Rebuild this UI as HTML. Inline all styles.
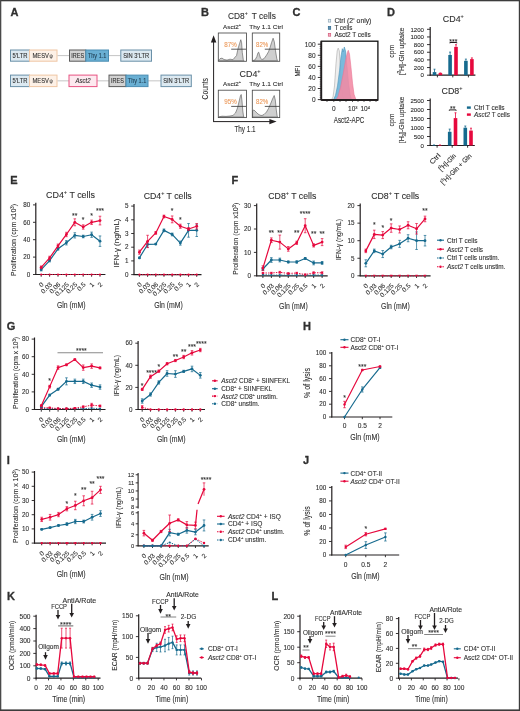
<!DOCTYPE html>
<html><head><meta charset="utf-8"><title>Figure</title>
<style>
html,body{margin:0;padding:0;background:#fff;width:520px;height:711px;overflow:hidden;}
svg{display:block;font-family:"Liberation Sans", sans-serif;will-change:transform;}
</style></head>
<body>
<svg width="520" height="711" viewBox="0 0 520 711">
<rect x="0" y="0" width="520" height="711" fill="#ffffff"/>
<rect x="0.00" y="0.00" width="520.00" height="1.30" fill="#3c3c3c" stroke="none" stroke-width="1.0" />
<rect x="0.00" y="0.00" width="1.30" height="711.00" fill="#4a4a4a" stroke="none" stroke-width="1.0" />
<rect x="518.80" y="0.00" width="1.20" height="711.00" fill="#3c3c3c" stroke="none" stroke-width="1.0" />
<rect x="0.00" y="709.40" width="520.00" height="1.60" fill="#3c3c3c" stroke="none" stroke-width="1.0" />
<text x="10.50" y="16.30" font-size="11.0" text-anchor="start" font-weight="bold" fill="#2f2f2f" stroke="#2f2f2f" stroke-width="0.1" style="stroke-width:0.3px">A</text>
<rect x="10.50" y="50.00" width="19.00" height="11.20" fill="#dce9f1" stroke="#6a90a8" stroke-width="1.0" />
<text x="20.00" y="57.98" font-size="6.6" text-anchor="middle" fill="#2f2f2f" stroke="#2f2f2f" stroke-width="0.1" textLength="15.00" lengthAdjust="spacingAndGlyphs" >5'LTR</text>
<rect x="29.50" y="50.00" width="27.50" height="11.20" fill="#fdf1e7" stroke="#efc6a4" stroke-width="1.0" />
<text x="32.50" y="57.98" font-size="6.6" text-anchor="start" fill="#2f2f2f" stroke="#2f2f2f" stroke-width="0.1" textLength="16.50" lengthAdjust="spacingAndGlyphs" >MESV</text>
<text x="49.50" y="57.98" font-size="5.28" text-anchor="start" fill="#2f2f2f" stroke="#2f2f2f" stroke-width="0.1" textLength="3.20" lengthAdjust="spacingAndGlyphs" >ψ</text>
<line x1="57.50" y1="55.60" x2="69.50" y2="55.60" stroke="#bdbdbd" stroke-width="0.9" />
<line x1="108.50" y1="55.60" x2="120.80" y2="55.60" stroke="#bdbdbd" stroke-width="0.9" />
<rect x="69.50" y="50.00" width="16.30" height="11.20" fill="#d2d2d2" stroke="#5a5a5a" stroke-width="1.0" />
<text x="77.65" y="57.98" font-size="6.6" text-anchor="middle" fill="#2f2f2f" stroke="#2f2f2f" stroke-width="0.1" textLength="12.80" lengthAdjust="spacingAndGlyphs" >IRES</text>
<rect x="85.80" y="50.00" width="22.70" height="11.20" fill="#69afd3" stroke="#4a8db3" stroke-width="1.0" />
<text x="97.15" y="57.98" font-size="6.6" text-anchor="middle" fill="#1e3d52" stroke="#1e3d52" stroke-width="0.1" textLength="18.50" lengthAdjust="spacingAndGlyphs" >Thy 1.1</text>
<rect x="120.80" y="50.00" width="30.70" height="11.20" fill="#dce9f1" stroke="#6a90a8" stroke-width="1.0" />
<text x="136.15" y="57.98" font-size="6.6" text-anchor="middle" fill="#2f2f2f" stroke="#2f2f2f" stroke-width="0.1" textLength="26.00" lengthAdjust="spacingAndGlyphs" >SIN 3'LTR</text>
<rect x="10.50" y="75.10" width="19.00" height="11.50" fill="#dce9f1" stroke="#6a90a8" stroke-width="1.0" />
<text x="20.00" y="83.23" font-size="6.6" text-anchor="middle" fill="#2f2f2f" stroke="#2f2f2f" stroke-width="0.1" textLength="15.00" lengthAdjust="spacingAndGlyphs" >5'LTR</text>
<rect x="29.50" y="75.10" width="27.50" height="11.50" fill="#fdf1e7" stroke="#efc6a4" stroke-width="1.0" />
<text x="32.50" y="83.23" font-size="6.6" text-anchor="start" fill="#2f2f2f" stroke="#2f2f2f" stroke-width="0.1" textLength="16.50" lengthAdjust="spacingAndGlyphs" >MESV</text>
<text x="49.50" y="83.23" font-size="5.28" text-anchor="start" fill="#2f2f2f" stroke="#2f2f2f" stroke-width="0.1" textLength="3.20" lengthAdjust="spacingAndGlyphs" >ψ</text>
<line x1="57.50" y1="80.85" x2="69.00" y2="80.85" stroke="#bdbdbd" stroke-width="0.9" />
<line x1="97.00" y1="80.85" x2="109.00" y2="80.85" stroke="#bdbdbd" stroke-width="0.9" />
<line x1="148.00" y1="80.85" x2="161.00" y2="80.85" stroke="#bdbdbd" stroke-width="0.9" />
<rect x="69.00" y="75.10" width="28.00" height="11.50" fill="#fde9ef" stroke="#e85382" stroke-width="1.0" />
<text x="83.00" y="83.23" font-size="6.6" text-anchor="middle" font-style="italic" fill="#2f2f2f" stroke="#2f2f2f" stroke-width="0.1" textLength="15.00" lengthAdjust="spacingAndGlyphs" >Asct2</text>
<rect x="109.00" y="75.10" width="17.00" height="11.50" fill="#d2d2d2" stroke="#5a5a5a" stroke-width="1.0" />
<text x="117.50" y="83.23" font-size="6.6" text-anchor="middle" fill="#2f2f2f" stroke="#2f2f2f" stroke-width="0.1" textLength="12.80" lengthAdjust="spacingAndGlyphs" >IRES</text>
<rect x="126.00" y="75.10" width="22.00" height="11.50" fill="#69afd3" stroke="#4a8db3" stroke-width="1.0" />
<text x="137.00" y="83.23" font-size="6.6" text-anchor="middle" fill="#1e3d52" stroke="#1e3d52" stroke-width="0.1" textLength="18.50" lengthAdjust="spacingAndGlyphs" >Thy 1.1</text>
<rect x="161.00" y="75.10" width="30.30" height="11.50" fill="#dce9f1" stroke="#6a90a8" stroke-width="1.0" />
<text x="176.15" y="83.23" font-size="6.6" text-anchor="middle" fill="#2f2f2f" stroke="#2f2f2f" stroke-width="0.1" textLength="26.00" lengthAdjust="spacingAndGlyphs" >SIN 3'LTR</text>
<text x="200.90" y="16.30" font-size="11.0" text-anchor="start" font-weight="bold" fill="#2f2f2f" stroke="#2f2f2f" stroke-width="0.1" style="stroke-width:0.3px">B</text>
<text x="228.00" y="18.90" font-size="9.4" text-anchor="start" fill="#2f2f2f" stroke="#2f2f2f" stroke-width="0.1" textLength="47.80" lengthAdjust="spacingAndGlyphs" >CD8<tspan baseline-shift="4.0" font-size="62%">+</tspan> T cells</text>
<text x="223.10" y="28.70" font-size="6.2" text-anchor="start" fill="#2f2f2f" stroke="#2f2f2f" stroke-width="0.1" textLength="18.00" lengthAdjust="spacingAndGlyphs" >Asct2<tspan baseline-shift="2.9" font-size="62%">+</tspan></text>
<text x="249.20" y="28.70" font-size="6.2" text-anchor="start" fill="#2f2f2f" stroke="#2f2f2f" stroke-width="0.1" textLength="33.70" lengthAdjust="spacingAndGlyphs" >Thy 1.1 Ctrl</text>
<text x="239.60" y="77.30" font-size="9.4" text-anchor="start" fill="#2f2f2f" stroke="#2f2f2f" stroke-width="0.1" textLength="21.00" lengthAdjust="spacingAndGlyphs" >CD4<tspan baseline-shift="4.0" font-size="62%">+</tspan></text>
<text x="223.10" y="86.00" font-size="6.2" text-anchor="start" fill="#2f2f2f" stroke="#2f2f2f" stroke-width="0.1" textLength="18.00" lengthAdjust="spacingAndGlyphs" >Asct2<tspan baseline-shift="2.9" font-size="62%">+</tspan></text>
<text x="249.20" y="86.00" font-size="6.2" text-anchor="start" fill="#2f2f2f" stroke="#2f2f2f" stroke-width="0.1" textLength="33.70" lengthAdjust="spacingAndGlyphs" >Thy 1.1 Ctrl</text>
<path d="M218.60,60.70 L218.60,60.40 L220.00,58.70 L222.00,58.10 L224.00,59.50 L227.00,60.10 L230.00,59.20 L233.00,59.70 L235.00,57.20 L236.50,55.70 L238.00,48.70 L239.50,43.70 L240.80,39.70 L241.60,42.70 L242.30,52.70 L243.30,59.70 L244.00,60.70 L244.00,60.70 Z" fill="#cfcfcf" stroke="#555555" stroke-width="0.6"/>
<path d="M252.60,60.70 L252.60,60.70 L255.00,59.90 L256.80,56.70 L258.00,52.70 L258.70,52.20 L259.50,54.70 L260.50,58.20 L262.00,59.50 L264.00,58.70 L266.50,55.20 L268.50,51.70 L270.00,47.70 L271.50,42.70 L273.10,38.20 L274.30,41.70 L275.50,50.70 L276.80,58.70 L277.50,60.70 L277.50,60.70 Z" fill="#cfcfcf" stroke="#555555" stroke-width="0.6"/>
<rect x="218.30" y="33.00" width="28.20" height="28.30" fill="none" stroke="#4a4a4a" stroke-width="0.85" />
<rect x="252.30" y="33.00" width="27.40" height="28.30" fill="none" stroke="#4a4a4a" stroke-width="0.85" />
<line x1="231.20" y1="49.20" x2="246.00" y2="49.20" stroke="#333" stroke-width="0.8" />
<line x1="264.80" y1="49.20" x2="279.60" y2="49.20" stroke="#333" stroke-width="0.8" />
<text x="224.20" y="47.00" font-size="6.3" text-anchor="start" fill="#ec9a5c" stroke="#ec9a5c" stroke-width="0.1" textLength="12.50" lengthAdjust="spacingAndGlyphs" >87%</text>
<text x="256.00" y="47.00" font-size="6.3" text-anchor="start" fill="#ec9a5c" stroke="#ec9a5c" stroke-width="0.1" textLength="12.20" lengthAdjust="spacingAndGlyphs" >82%</text>
<path d="M218.60,117.00 L218.60,117.00 L222.00,116.20 L226.00,116.40 L230.00,116.00 L233.00,115.40 L235.50,113.00 L237.50,108.00 L239.20,101.00 L240.40,96.00 L241.20,94.50 L242.00,101.00 L242.80,111.00 L243.60,116.50 L244.20,117.00 L244.20,117.00 Z" fill="#cfcfcf" stroke="#555555" stroke-width="0.6"/>
<path d="M252.60,117.00 L252.60,110.50 L254.00,110.00 L256.00,112.00 L258.00,114.00 L260.00,115.20 L262.00,115.50 L264.00,114.50 L266.50,112.00 L268.50,108.50 L270.50,104.00 L272.50,99.00 L274.20,95.50 L275.30,100.00 L276.30,110.00 L277.20,116.50 L277.80,117.00 L277.80,117.00 Z" fill="#cfcfcf" stroke="#555555" stroke-width="0.6"/>
<rect x="218.30" y="90.20" width="28.20" height="27.40" fill="none" stroke="#4a4a4a" stroke-width="0.85" />
<rect x="252.30" y="90.20" width="27.40" height="27.40" fill="none" stroke="#4a4a4a" stroke-width="0.85" />
<line x1="231.20" y1="106.40" x2="246.00" y2="106.40" stroke="#333" stroke-width="0.8" />
<line x1="264.80" y1="106.40" x2="279.60" y2="106.40" stroke="#333" stroke-width="0.8" />
<text x="224.20" y="104.20" font-size="6.3" text-anchor="start" fill="#ec9a5c" stroke="#ec9a5c" stroke-width="0.1" textLength="12.50" lengthAdjust="spacingAndGlyphs" >95%</text>
<text x="256.00" y="104.20" font-size="6.3" text-anchor="start" fill="#ec9a5c" stroke="#ec9a5c" stroke-width="0.1" textLength="12.20" lengthAdjust="spacingAndGlyphs" >82%</text>
<line x1="213.60" y1="40.00" x2="213.60" y2="121.60" stroke="#231f20" stroke-width="1.0" />
<path d="M210.9,42.4 L216.3,42.4 L213.6,35.2 Z" fill="#231f20"/>
<line x1="213.10" y1="121.60" x2="272.00" y2="121.60" stroke="#231f20" stroke-width="1.0" />
<path d="M269.4,118.9 L269.4,124.3 L276.6,121.6 Z" fill="#231f20"/>
<text x="207.95" y="88.80" font-size="8.2" text-anchor="middle" fill="#2f2f2f" stroke="#2f2f2f" stroke-width="0.1" textLength="21.40" lengthAdjust="spacingAndGlyphs" transform="rotate(-90 207.95 88.80)" >Counts</text>
<text x="234.40" y="132.40" font-size="8.8" text-anchor="start" fill="#2f2f2f" stroke="#2f2f2f" stroke-width="0.1" textLength="21.20" lengthAdjust="spacingAndGlyphs" >Thy 1.1</text>
<text x="292.50" y="16.30" font-size="11.0" text-anchor="start" font-weight="bold" fill="#2f2f2f" stroke="#2f2f2f" stroke-width="0.1" style="stroke-width:0.3px">C</text>
<rect x="328.30" y="19.30" width="2.40" height="2.80" fill="#e6eef3" stroke="#8ea6b6" stroke-width="0.7" />
<text x="334.40" y="23.00" font-size="6.4" text-anchor="start" fill="#2f2f2f" stroke="#2f2f2f" stroke-width="0.1" textLength="37.00" lengthAdjust="spacingAndGlyphs" >Ctrl (2<tspan baseline-shift="2.2" font-size="62%">°</tspan> only)</text>
<rect x="328.30" y="26.50" width="2.40" height="2.80" fill="#5c8fb0" stroke="#2f6a90" stroke-width="0.7" />
<text x="334.40" y="30.20" font-size="6.4" text-anchor="start" fill="#2f2f2f" stroke="#2f2f2f" stroke-width="0.1" textLength="18.00" lengthAdjust="spacingAndGlyphs" >T cells</text>
<rect x="328.30" y="33.40" width="2.40" height="2.80" fill="#f3b0c0" stroke="#d45a7a" stroke-width="0.7" />
<text x="334.40" y="37.10" font-size="6.4" text-anchor="start" fill="#2f2f2f" stroke="#2f2f2f" stroke-width="0.1" textLength="36.30" lengthAdjust="spacingAndGlyphs" >Asct2 T cells</text>
<path d="M331.50,99.80 L331.50,99.80 L333.00,97.02 L334.50,85.90 L336.00,63.66 L337.20,50.87 L338.20,48.09 L339.30,50.87 L340.30,66.44 L341.50,85.90 L343.00,96.46 L344.50,99.80 L344.50,99.80 Z" fill="#ececec" fill-opacity="0.9" stroke="#a8a8a8" stroke-width="0.6"/>
<path d="M333.50,99.80 L333.50,99.80 L335.50,95.35 L337.50,85.90 L339.50,70.89 L341.00,56.43 L342.30,48.65 L343.20,51.98 L344.30,46.98 L345.50,50.87 L347.00,66.44 L348.50,83.12 L350.00,94.24 L351.50,99.80 L351.50,99.80 Z" fill="#6cb3d8" fill-opacity="0.9" stroke="#4b93bb" stroke-width="0.6"/>
<path d="M336.00,99.80 L336.00,99.80 L338.00,96.46 L340.50,87.57 L343.00,74.78 L345.50,60.88 L347.30,52.54 L348.30,50.32 L349.50,54.21 L351.00,67.55 L352.50,83.12 L354.00,94.24 L356.00,99.80 L356.00,99.80 Z" fill="#f28aa4" fill-opacity="0.88" stroke="#e97593" stroke-width="0.6"/>
<rect x="321.30" y="41.20" width="56.60" height="58.80" fill="none" stroke="#111" stroke-width="1.3" />
<line x1="321.30" y1="41.20" x2="321.30" y2="100.00" stroke="#231f20" stroke-width="1.8" />
<line x1="321.30" y1="100.00" x2="378.00" y2="100.00" stroke="#231f20" stroke-width="1.8" />
<line x1="317.80" y1="99.60" x2="321.30" y2="99.60" stroke="#231f20" stroke-width="0.9" />
<line x1="319.60" y1="97.38" x2="321.30" y2="97.38" stroke="#231f20" stroke-width="0.5" />
<line x1="319.60" y1="95.17" x2="321.30" y2="95.17" stroke="#231f20" stroke-width="0.5" />
<line x1="319.60" y1="92.95" x2="321.30" y2="92.95" stroke="#231f20" stroke-width="0.5" />
<line x1="319.60" y1="90.74" x2="321.30" y2="90.74" stroke="#231f20" stroke-width="0.5" />
<text x="315.60" y="101.90" font-size="6.5" text-anchor="end" fill="#2f2f2f" stroke="#2f2f2f" stroke-width="0.1" >0</text>
<line x1="317.80" y1="88.52" x2="321.30" y2="88.52" stroke="#231f20" stroke-width="0.9" />
<line x1="319.60" y1="86.30" x2="321.30" y2="86.30" stroke="#231f20" stroke-width="0.5" />
<line x1="319.60" y1="84.09" x2="321.30" y2="84.09" stroke="#231f20" stroke-width="0.5" />
<line x1="319.60" y1="81.87" x2="321.30" y2="81.87" stroke="#231f20" stroke-width="0.5" />
<line x1="319.60" y1="79.66" x2="321.30" y2="79.66" stroke="#231f20" stroke-width="0.5" />
<text x="315.60" y="90.82" font-size="6.5" text-anchor="end" fill="#2f2f2f" stroke="#2f2f2f" stroke-width="0.1" >20</text>
<line x1="317.80" y1="77.44" x2="321.30" y2="77.44" stroke="#231f20" stroke-width="0.9" />
<line x1="319.60" y1="75.22" x2="321.30" y2="75.22" stroke="#231f20" stroke-width="0.5" />
<line x1="319.60" y1="73.01" x2="321.30" y2="73.01" stroke="#231f20" stroke-width="0.5" />
<line x1="319.60" y1="70.79" x2="321.30" y2="70.79" stroke="#231f20" stroke-width="0.5" />
<line x1="319.60" y1="68.58" x2="321.30" y2="68.58" stroke="#231f20" stroke-width="0.5" />
<text x="315.60" y="79.74" font-size="6.5" text-anchor="end" fill="#2f2f2f" stroke="#2f2f2f" stroke-width="0.1" >40</text>
<line x1="317.80" y1="66.36" x2="321.30" y2="66.36" stroke="#231f20" stroke-width="0.9" />
<line x1="319.60" y1="64.14" x2="321.30" y2="64.14" stroke="#231f20" stroke-width="0.5" />
<line x1="319.60" y1="61.93" x2="321.30" y2="61.93" stroke="#231f20" stroke-width="0.5" />
<line x1="319.60" y1="59.71" x2="321.30" y2="59.71" stroke="#231f20" stroke-width="0.5" />
<line x1="319.60" y1="57.50" x2="321.30" y2="57.50" stroke="#231f20" stroke-width="0.5" />
<text x="315.60" y="68.66" font-size="6.5" text-anchor="end" fill="#2f2f2f" stroke="#2f2f2f" stroke-width="0.1" >60</text>
<line x1="317.80" y1="55.28" x2="321.30" y2="55.28" stroke="#231f20" stroke-width="0.9" />
<line x1="319.60" y1="53.06" x2="321.30" y2="53.06" stroke="#231f20" stroke-width="0.5" />
<line x1="319.60" y1="50.85" x2="321.30" y2="50.85" stroke="#231f20" stroke-width="0.5" />
<line x1="319.60" y1="48.63" x2="321.30" y2="48.63" stroke="#231f20" stroke-width="0.5" />
<line x1="319.60" y1="46.42" x2="321.30" y2="46.42" stroke="#231f20" stroke-width="0.5" />
<text x="315.60" y="57.58" font-size="6.5" text-anchor="end" fill="#2f2f2f" stroke="#2f2f2f" stroke-width="0.1" >80</text>
<line x1="317.80" y1="44.20" x2="321.30" y2="44.20" stroke="#231f20" stroke-width="0.9" />
<text x="315.60" y="46.50" font-size="6.5" text-anchor="end" fill="#2f2f2f" stroke="#2f2f2f" stroke-width="0.1" >100</text>
<line x1="327.00" y1="100.00" x2="327.00" y2="102.00" stroke="#231f20" stroke-width="0.7" />
<line x1="333.80" y1="100.00" x2="333.80" y2="102.00" stroke="#231f20" stroke-width="0.7" />
<line x1="340.00" y1="100.00" x2="340.00" y2="102.00" stroke="#231f20" stroke-width="0.7" />
<line x1="346.00" y1="100.00" x2="346.00" y2="102.00" stroke="#231f20" stroke-width="0.7" />
<line x1="352.50" y1="100.00" x2="352.50" y2="102.00" stroke="#231f20" stroke-width="0.7" />
<line x1="358.00" y1="100.00" x2="358.00" y2="102.00" stroke="#231f20" stroke-width="0.7" />
<line x1="364.00" y1="100.00" x2="364.00" y2="102.00" stroke="#231f20" stroke-width="0.7" />
<line x1="370.00" y1="100.00" x2="370.00" y2="102.00" stroke="#231f20" stroke-width="0.7" />
<line x1="376.00" y1="100.00" x2="376.00" y2="102.00" stroke="#231f20" stroke-width="0.7" />
<text x="333.80" y="110.60" font-size="6.5" text-anchor="middle" fill="#2f2f2f" stroke="#2f2f2f" stroke-width="0.1" >0</text>
<text x="352.80" y="110.60" font-size="6.5" text-anchor="middle" fill="#2f2f2f" stroke="#2f2f2f" stroke-width="0.1" >10<tspan baseline-shift="2.4" font-size="62%">3</tspan></text>
<text x="365.20" y="110.60" font-size="6.5" text-anchor="middle" fill="#2f2f2f" stroke="#2f2f2f" stroke-width="0.1" >10<tspan baseline-shift="2.4" font-size="62%">4</tspan></text>
<text x="299.88" y="71.20" font-size="8.0" text-anchor="middle" fill="#2f2f2f" stroke="#2f2f2f" stroke-width="0.1" textLength="10.60" lengthAdjust="spacingAndGlyphs" transform="rotate(-90 299.88 71.20)" >MFI</text>
<text x="333.80" y="123.20" font-size="8.2" text-anchor="start" fill="#2f2f2f" stroke="#2f2f2f" stroke-width="0.1" textLength="30.50" lengthAdjust="spacingAndGlyphs" >Asct2-APC</text>
<text x="386.90" y="16.40" font-size="11.0" text-anchor="start" font-weight="bold" fill="#2f2f2f" stroke="#2f2f2f" stroke-width="0.1" style="stroke-width:0.3px">D</text>
<text x="442.80" y="22.00" font-size="8.8" text-anchor="start" fill="#2f2f2f" stroke="#2f2f2f" stroke-width="0.1" textLength="21.00" lengthAdjust="spacingAndGlyphs" >CD4<tspan baseline-shift="3.9" font-size="62%">+</tspan></text>
<text x="441.50" y="93.50" font-size="8.8" text-anchor="start" fill="#2f2f2f" stroke="#2f2f2f" stroke-width="0.1" textLength="21.00" lengthAdjust="spacingAndGlyphs" >CD8<tspan baseline-shift="3.9" font-size="62%">+</tspan></text>
<line x1="430.20" y1="27.10" x2="430.20" y2="75.70" stroke="#231f20" stroke-width="1.2" />
<line x1="429.70" y1="75.20" x2="475.40" y2="75.20" stroke="#231f20" stroke-width="1.2" />
<line x1="427.00" y1="75.20" x2="430.20" y2="75.20" stroke="#231f20" stroke-width="0.9" />
<text x="424.00" y="77.40" font-size="6.1" text-anchor="end" fill="#2f2f2f" stroke="#2f2f2f" stroke-width="0.1" >0</text>
<line x1="427.00" y1="67.55" x2="430.20" y2="67.55" stroke="#231f20" stroke-width="0.9" />
<text x="424.00" y="69.75" font-size="6.1" text-anchor="end" fill="#2f2f2f" stroke="#2f2f2f" stroke-width="0.1" >200</text>
<line x1="427.00" y1="59.90" x2="430.20" y2="59.90" stroke="#231f20" stroke-width="0.9" />
<text x="424.00" y="62.10" font-size="6.1" text-anchor="end" fill="#2f2f2f" stroke="#2f2f2f" stroke-width="0.1" >400</text>
<line x1="427.00" y1="52.25" x2="430.20" y2="52.25" stroke="#231f20" stroke-width="0.9" />
<text x="424.00" y="54.45" font-size="6.1" text-anchor="end" fill="#2f2f2f" stroke="#2f2f2f" stroke-width="0.1" >600</text>
<line x1="427.00" y1="44.60" x2="430.20" y2="44.60" stroke="#231f20" stroke-width="0.9" />
<text x="424.00" y="46.80" font-size="6.1" text-anchor="end" fill="#2f2f2f" stroke="#2f2f2f" stroke-width="0.1" >800</text>
<line x1="427.00" y1="36.95" x2="430.20" y2="36.95" stroke="#231f20" stroke-width="0.9" />
<text x="424.00" y="39.15" font-size="6.1" text-anchor="end" fill="#2f2f2f" stroke="#2f2f2f" stroke-width="0.1" >1000</text>
<line x1="427.00" y1="29.30" x2="430.20" y2="29.30" stroke="#231f20" stroke-width="0.9" />
<text x="424.00" y="31.50" font-size="6.1" text-anchor="end" fill="#2f2f2f" stroke="#2f2f2f" stroke-width="0.1" >1200</text>
<line x1="437.40" y1="75.20" x2="437.40" y2="77.40" stroke="#231f20" stroke-width="0.9" />
<line x1="452.80" y1="75.20" x2="452.80" y2="77.40" stroke="#231f20" stroke-width="0.9" />
<line x1="468.40" y1="75.20" x2="468.40" y2="77.40" stroke="#231f20" stroke-width="0.9" />
<rect x="432.70" y="72.10" width="3.60" height="3.10" fill="#166a8e" stroke="none" stroke-width="1.0" />
<line x1="434.50" y1="69.19" x2="434.50" y2="72.10" stroke="#166a8e" stroke-width="0.8" />
<line x1="433.50" y1="69.19" x2="435.50" y2="69.19" stroke="#166a8e" stroke-width="0.8" />
<rect x="438.60" y="73.10" width="3.60" height="2.10" fill="#e6083d" stroke="none" stroke-width="1.0" />
<line x1="440.40" y1="72.91" x2="440.40" y2="73.10" stroke="#e6083d" stroke-width="0.8" />
<line x1="439.40" y1="72.91" x2="441.40" y2="72.91" stroke="#e6083d" stroke-width="0.8" />
<rect x="448.30" y="55.00" width="3.60" height="20.20" fill="#166a8e" stroke="none" stroke-width="1.0" />
<line x1="450.10" y1="52.10" x2="450.10" y2="55.00" stroke="#166a8e" stroke-width="0.8" />
<line x1="449.10" y1="52.10" x2="451.10" y2="52.10" stroke="#166a8e" stroke-width="0.8" />
<rect x="454.20" y="46.90" width="3.60" height="28.30" fill="#e6083d" stroke="none" stroke-width="1.0" />
<line x1="456.00" y1="44.71" x2="456.00" y2="46.90" stroke="#e6083d" stroke-width="0.8" />
<line x1="455.00" y1="44.71" x2="457.00" y2="44.71" stroke="#e6083d" stroke-width="0.8" />
<rect x="464.10" y="60.82" width="3.60" height="14.38" fill="#166a8e" stroke="none" stroke-width="1.0" />
<line x1="465.90" y1="59.10" x2="465.90" y2="60.82" stroke="#166a8e" stroke-width="0.8" />
<line x1="464.90" y1="59.10" x2="466.90" y2="59.10" stroke="#166a8e" stroke-width="0.8" />
<rect x="470.10" y="59.10" width="3.60" height="16.10" fill="#e6083d" stroke="none" stroke-width="1.0" />
<line x1="471.90" y1="57.91" x2="471.90" y2="59.10" stroke="#e6083d" stroke-width="0.8" />
<line x1="470.90" y1="57.91" x2="472.90" y2="57.91" stroke="#e6083d" stroke-width="0.8" />
<path d="M449.90,43.30 L449.90,42.50 L456.80,42.50 L456.80,43.30" fill="none" stroke="#231f20" stroke-width="1.0"/>
<text x="453.35" y="43.72" font-size="6.9" text-anchor="middle" fill="#2f2f2f" stroke="#2f2f2f" stroke-width="0.1" >***</text>
<text x="394.08" y="51.20" font-size="8.0" text-anchor="middle" fill="#2f2f2f" stroke="#2f2f2f" stroke-width="0.1" textLength="13.00" lengthAdjust="spacingAndGlyphs" transform="rotate(-90 394.08 51.20)" >cpm</text>
<text x="403.98" y="51.50" font-size="8.0" text-anchor="middle" fill="#2f2f2f" stroke="#2f2f2f" stroke-width="0.1" textLength="47.70" lengthAdjust="spacingAndGlyphs" transform="rotate(-90 403.98 51.50)" >[<tspan baseline-shift="2.6" font-size="62%">3</tspan>H]-Gln uptake</text>
<line x1="430.20" y1="98.40" x2="430.20" y2="146.00" stroke="#231f20" stroke-width="1.2" />
<line x1="429.70" y1="145.50" x2="474.80" y2="145.50" stroke="#231f20" stroke-width="1.2" />
<line x1="427.00" y1="145.50" x2="430.20" y2="145.50" stroke="#231f20" stroke-width="0.9" />
<text x="424.00" y="147.70" font-size="6.1" text-anchor="end" fill="#2f2f2f" stroke="#2f2f2f" stroke-width="0.1" >0</text>
<line x1="427.00" y1="136.50" x2="430.20" y2="136.50" stroke="#231f20" stroke-width="0.9" />
<text x="424.00" y="138.70" font-size="6.1" text-anchor="end" fill="#2f2f2f" stroke="#2f2f2f" stroke-width="0.1" >500</text>
<line x1="427.00" y1="127.50" x2="430.20" y2="127.50" stroke="#231f20" stroke-width="0.9" />
<text x="424.00" y="129.70" font-size="6.1" text-anchor="end" fill="#2f2f2f" stroke="#2f2f2f" stroke-width="0.1" >1000</text>
<line x1="427.00" y1="118.50" x2="430.20" y2="118.50" stroke="#231f20" stroke-width="0.9" />
<text x="424.00" y="120.70" font-size="6.1" text-anchor="end" fill="#2f2f2f" stroke="#2f2f2f" stroke-width="0.1" >1500</text>
<line x1="427.00" y1="109.50" x2="430.20" y2="109.50" stroke="#231f20" stroke-width="0.9" />
<text x="424.00" y="111.70" font-size="6.1" text-anchor="end" fill="#2f2f2f" stroke="#2f2f2f" stroke-width="0.1" >2000</text>
<line x1="427.00" y1="100.50" x2="430.20" y2="100.50" stroke="#231f20" stroke-width="0.9" />
<text x="424.00" y="102.70" font-size="6.1" text-anchor="end" fill="#2f2f2f" stroke="#2f2f2f" stroke-width="0.1" >2500</text>
<line x1="437.10" y1="145.50" x2="437.10" y2="147.70" stroke="#231f20" stroke-width="0.9" />
<line x1="452.20" y1="145.50" x2="452.20" y2="147.70" stroke="#231f20" stroke-width="0.9" />
<line x1="467.60" y1="145.50" x2="467.60" y2="147.70" stroke="#231f20" stroke-width="0.9" />
<rect x="432.20" y="145.14" width="3.60" height="0.36" fill="#166a8e" stroke="none" stroke-width="1.0" />
<line x1="434.00" y1="144.96" x2="434.00" y2="145.14" stroke="#166a8e" stroke-width="0.8" />
<line x1="433.00" y1="144.96" x2="435.00" y2="144.96" stroke="#166a8e" stroke-width="0.8" />
<rect x="438.20" y="145.14" width="3.60" height="0.36" fill="#e6083d" stroke="none" stroke-width="1.0" />
<line x1="440.00" y1="144.96" x2="440.00" y2="145.14" stroke="#e6083d" stroke-width="0.8" />
<line x1="439.00" y1="144.96" x2="441.00" y2="144.96" stroke="#e6083d" stroke-width="0.8" />
<rect x="447.90" y="131.80" width="3.60" height="13.70" fill="#166a8e" stroke="none" stroke-width="1.0" />
<line x1="449.70" y1="129.10" x2="449.70" y2="131.80" stroke="#166a8e" stroke-width="0.8" />
<line x1="448.70" y1="129.10" x2="450.70" y2="129.10" stroke="#166a8e" stroke-width="0.8" />
<rect x="453.70" y="118.10" width="3.60" height="27.40" fill="#e6083d" stroke="none" stroke-width="1.0" />
<line x1="455.50" y1="112.79" x2="455.50" y2="118.10" stroke="#e6083d" stroke-width="0.8" />
<line x1="454.50" y1="112.79" x2="456.50" y2="112.79" stroke="#e6083d" stroke-width="0.8" />
<rect x="463.50" y="127.70" width="3.60" height="17.80" fill="#166a8e" stroke="none" stroke-width="1.0" />
<line x1="465.30" y1="126.01" x2="465.30" y2="127.70" stroke="#166a8e" stroke-width="0.8" />
<line x1="464.30" y1="126.01" x2="466.30" y2="126.01" stroke="#166a8e" stroke-width="0.8" />
<rect x="469.20" y="130.60" width="3.60" height="14.90" fill="#e6083d" stroke="none" stroke-width="1.0" />
<line x1="471.00" y1="128.20" x2="471.00" y2="130.60" stroke="#e6083d" stroke-width="0.8" />
<line x1="470.00" y1="128.20" x2="472.00" y2="128.20" stroke="#e6083d" stroke-width="0.8" />
<path d="M449.30,110.70 L449.30,109.90 L456.10,109.90 L456.10,110.70" fill="none" stroke="#231f20" stroke-width="1.0"/>
<text x="452.70" y="110.52" font-size="6.9" text-anchor="middle" fill="#2f2f2f" stroke="#2f2f2f" stroke-width="0.1" >**</text>
<text x="394.08" y="119.90" font-size="8.0" text-anchor="middle" fill="#2f2f2f" stroke="#2f2f2f" stroke-width="0.1" textLength="13.00" lengthAdjust="spacingAndGlyphs" transform="rotate(-90 394.08 119.90)" >cpm</text>
<text x="403.98" y="119.90" font-size="8.0" text-anchor="middle" fill="#2f2f2f" stroke="#2f2f2f" stroke-width="0.1" textLength="46.70" lengthAdjust="spacingAndGlyphs" transform="rotate(-90 403.98 119.90)" >[H<tspan baseline-shift="-1.6" font-size="62%">3</tspan>]-Gln uptake</text>
<text x="441.00" y="156.00" font-size="6.8" text-anchor="end" fill="#2f2f2f" stroke="#2f2f2f" stroke-width="0.1" textLength="12.50" lengthAdjust="spacingAndGlyphs" transform="rotate(-45 441.00 156.00)" >Ctrl</text>
<text x="456.40" y="156.40" font-size="6.8" text-anchor="end" fill="#2f2f2f" stroke="#2f2f2f" stroke-width="0.1" textLength="21.50" lengthAdjust="spacingAndGlyphs" transform="rotate(-45 456.40 156.40)" >[<tspan baseline-shift="2.6" font-size="62%">3</tspan>H]-Gln</text>
<text x="472.00" y="156.40" font-size="6.8" text-anchor="end" fill="#2f2f2f" stroke="#2f2f2f" stroke-width="0.1" textLength="40.50" lengthAdjust="spacingAndGlyphs" transform="rotate(-45 472.00 156.40)" >[<tspan baseline-shift="2.6" font-size="62%">3</tspan>H]-Gln + Gln</text>
<rect x="466.90" y="106.40" width="3.90" height="2.40" fill="#166a8e" stroke="none" stroke-width="1.0" />
<text x="474.00" y="109.90" font-size="6.6" text-anchor="start" fill="#2f2f2f" stroke="#2f2f2f" stroke-width="0.1" textLength="30.60" lengthAdjust="spacingAndGlyphs" >Ctrl T cells</text>
<rect x="466.90" y="113.40" width="3.90" height="2.40" fill="#e6083d" stroke="none" stroke-width="1.0" />
<text x="474.00" y="117.00" font-size="6.6" text-anchor="start" fill="#2f2f2f" stroke="#2f2f2f" stroke-width="0.1" textLength="36.00" lengthAdjust="spacingAndGlyphs" ><tspan font-style="italic">Asct2</tspan> T cells</text>
<text x="10.30" y="183.60" font-size="11.0" text-anchor="start" font-weight="bold" fill="#2f2f2f" stroke="#2f2f2f" stroke-width="0.1" style="stroke-width:0.3px">E</text>
<line x1="35.80" y1="202.70" x2="35.80" y2="275.00" stroke="#231f20" stroke-width="1.2" />
<line x1="35.30" y1="274.50" x2="105.40" y2="274.50" stroke="#231f20" stroke-width="1.2" />
<line x1="33.00" y1="274.50" x2="35.80" y2="274.50" stroke="#231f20" stroke-width="0.9" />
<text x="30.20" y="276.77" font-size="6.3" text-anchor="end" fill="#2f2f2f" stroke="#2f2f2f" stroke-width="0.1" >0</text>
<line x1="33.00" y1="257.10" x2="35.80" y2="257.10" stroke="#231f20" stroke-width="0.9" />
<text x="30.20" y="259.37" font-size="6.3" text-anchor="end" fill="#2f2f2f" stroke="#2f2f2f" stroke-width="0.1" >20</text>
<line x1="33.00" y1="239.70" x2="35.80" y2="239.70" stroke="#231f20" stroke-width="0.9" />
<text x="30.20" y="241.97" font-size="6.3" text-anchor="end" fill="#2f2f2f" stroke="#2f2f2f" stroke-width="0.1" >40</text>
<line x1="33.00" y1="222.30" x2="35.80" y2="222.30" stroke="#231f20" stroke-width="0.9" />
<text x="30.20" y="224.57" font-size="6.3" text-anchor="end" fill="#2f2f2f" stroke="#2f2f2f" stroke-width="0.1" >60</text>
<line x1="33.00" y1="204.90" x2="35.80" y2="204.90" stroke="#231f20" stroke-width="0.9" />
<text x="30.20" y="207.17" font-size="6.3" text-anchor="end" fill="#2f2f2f" stroke="#2f2f2f" stroke-width="0.1" >80</text>
<line x1="41.20" y1="274.50" x2="41.20" y2="276.70" stroke="#231f20" stroke-width="0.9" />
<line x1="49.60" y1="274.50" x2="49.60" y2="276.70" stroke="#231f20" stroke-width="0.9" />
<line x1="58.00" y1="274.50" x2="58.00" y2="276.70" stroke="#231f20" stroke-width="0.9" />
<line x1="66.40" y1="274.50" x2="66.40" y2="276.70" stroke="#231f20" stroke-width="0.9" />
<line x1="74.80" y1="274.50" x2="74.80" y2="276.70" stroke="#231f20" stroke-width="0.9" />
<line x1="83.20" y1="274.50" x2="83.20" y2="276.70" stroke="#231f20" stroke-width="0.9" />
<line x1="91.60" y1="274.50" x2="91.60" y2="276.70" stroke="#231f20" stroke-width="0.9" />
<line x1="100.00" y1="274.50" x2="100.00" y2="276.70" stroke="#231f20" stroke-width="0.9" />
<polyline points="41.20,274.50 49.60,274.50 58.00,274.50 66.40,274.50 74.80,274.50 83.20,274.50 91.60,274.50 100.00,274.50" fill="none" stroke="#e6083d" stroke-width="1.0" stroke-linejoin="round" stroke-dasharray="1.4,1.2"/>
<circle cx="41.20" cy="274.50" r="1.1" fill="#e6083d"/>
<circle cx="49.60" cy="274.50" r="1.1" fill="#e6083d"/>
<circle cx="58.00" cy="274.50" r="1.1" fill="#e6083d"/>
<circle cx="66.40" cy="274.50" r="1.1" fill="#e6083d"/>
<circle cx="74.80" cy="274.50" r="1.1" fill="#e6083d"/>
<circle cx="83.20" cy="274.50" r="1.1" fill="#e6083d"/>
<circle cx="91.60" cy="274.50" r="1.1" fill="#e6083d"/>
<circle cx="100.00" cy="274.50" r="1.1" fill="#e6083d"/>
<polyline points="41.20,269.63 49.60,260.58 58.00,248.84 66.40,242.75 74.80,235.35 83.20,236.48 91.60,234.74 100.00,241.18" fill="none" stroke="#166a8e" stroke-width="1.2" stroke-linejoin="round"/>
<line x1="41.20" y1="268.32" x2="41.20" y2="270.93" stroke="#166a8e" stroke-width="0.7" />
<line x1="39.90" y1="268.32" x2="42.50" y2="268.32" stroke="#166a8e" stroke-width="0.7" />
<line x1="39.90" y1="270.93" x2="42.50" y2="270.93" stroke="#166a8e" stroke-width="0.7" />
<line x1="49.60" y1="259.27" x2="49.60" y2="261.88" stroke="#166a8e" stroke-width="0.7" />
<line x1="48.30" y1="259.27" x2="50.90" y2="259.27" stroke="#166a8e" stroke-width="0.7" />
<line x1="48.30" y1="261.88" x2="50.90" y2="261.88" stroke="#166a8e" stroke-width="0.7" />
<line x1="58.00" y1="247.53" x2="58.00" y2="250.14" stroke="#166a8e" stroke-width="0.7" />
<line x1="56.70" y1="247.53" x2="59.30" y2="247.53" stroke="#166a8e" stroke-width="0.7" />
<line x1="56.70" y1="250.14" x2="59.30" y2="250.14" stroke="#166a8e" stroke-width="0.7" />
<line x1="66.40" y1="240.57" x2="66.40" y2="244.92" stroke="#166a8e" stroke-width="0.7" />
<line x1="65.10" y1="240.57" x2="67.70" y2="240.57" stroke="#166a8e" stroke-width="0.7" />
<line x1="65.10" y1="244.92" x2="67.70" y2="244.92" stroke="#166a8e" stroke-width="0.7" />
<line x1="74.80" y1="232.74" x2="74.80" y2="237.96" stroke="#166a8e" stroke-width="0.7" />
<line x1="73.50" y1="232.74" x2="76.10" y2="232.74" stroke="#166a8e" stroke-width="0.7" />
<line x1="73.50" y1="237.96" x2="76.10" y2="237.96" stroke="#166a8e" stroke-width="0.7" />
<line x1="83.20" y1="235.18" x2="83.20" y2="237.79" stroke="#166a8e" stroke-width="0.7" />
<line x1="81.90" y1="235.18" x2="84.50" y2="235.18" stroke="#166a8e" stroke-width="0.7" />
<line x1="81.90" y1="237.79" x2="84.50" y2="237.79" stroke="#166a8e" stroke-width="0.7" />
<line x1="91.60" y1="232.13" x2="91.60" y2="237.35" stroke="#166a8e" stroke-width="0.7" />
<line x1="90.30" y1="232.13" x2="92.90" y2="232.13" stroke="#166a8e" stroke-width="0.7" />
<line x1="90.30" y1="237.35" x2="92.90" y2="237.35" stroke="#166a8e" stroke-width="0.7" />
<line x1="100.00" y1="235.96" x2="100.00" y2="246.40" stroke="#166a8e" stroke-width="0.7" />
<line x1="98.70" y1="235.96" x2="101.30" y2="235.96" stroke="#166a8e" stroke-width="0.7" />
<line x1="98.70" y1="246.40" x2="101.30" y2="246.40" stroke="#166a8e" stroke-width="0.7" />
<circle cx="41.20" cy="269.63" r="1.4" fill="#166a8e"/>
<circle cx="49.60" cy="260.58" r="1.4" fill="#166a8e"/>
<circle cx="58.00" cy="248.84" r="1.4" fill="#166a8e"/>
<circle cx="66.40" cy="242.75" r="1.4" fill="#166a8e"/>
<circle cx="74.80" cy="235.35" r="1.4" fill="#166a8e"/>
<circle cx="83.20" cy="236.48" r="1.4" fill="#166a8e"/>
<circle cx="91.60" cy="234.74" r="1.4" fill="#166a8e"/>
<circle cx="100.00" cy="241.18" r="1.4" fill="#166a8e"/>
<polyline points="41.20,267.28 49.60,257.97 58.00,245.79 66.40,234.48 74.80,222.30 83.20,227.00 91.60,222.30 100.00,220.56" fill="none" stroke="#e6083d" stroke-width="1.2" stroke-linejoin="round"/>
<line x1="41.20" y1="265.97" x2="41.20" y2="268.58" stroke="#e6083d" stroke-width="0.7" />
<line x1="39.90" y1="265.97" x2="42.50" y2="265.97" stroke="#e6083d" stroke-width="0.7" />
<line x1="39.90" y1="268.58" x2="42.50" y2="268.58" stroke="#e6083d" stroke-width="0.7" />
<line x1="49.60" y1="256.23" x2="49.60" y2="259.71" stroke="#e6083d" stroke-width="0.7" />
<line x1="48.30" y1="256.23" x2="50.90" y2="256.23" stroke="#e6083d" stroke-width="0.7" />
<line x1="48.30" y1="259.71" x2="50.90" y2="259.71" stroke="#e6083d" stroke-width="0.7" />
<line x1="58.00" y1="244.05" x2="58.00" y2="247.53" stroke="#e6083d" stroke-width="0.7" />
<line x1="56.70" y1="244.05" x2="59.30" y2="244.05" stroke="#e6083d" stroke-width="0.7" />
<line x1="56.70" y1="247.53" x2="59.30" y2="247.53" stroke="#e6083d" stroke-width="0.7" />
<line x1="66.40" y1="232.31" x2="66.40" y2="236.66" stroke="#e6083d" stroke-width="0.7" />
<line x1="65.10" y1="232.31" x2="67.70" y2="232.31" stroke="#e6083d" stroke-width="0.7" />
<line x1="65.10" y1="236.66" x2="67.70" y2="236.66" stroke="#e6083d" stroke-width="0.7" />
<line x1="74.80" y1="218.82" x2="74.80" y2="225.78" stroke="#e6083d" stroke-width="0.7" />
<line x1="73.50" y1="218.82" x2="76.10" y2="218.82" stroke="#e6083d" stroke-width="0.7" />
<line x1="73.50" y1="225.78" x2="76.10" y2="225.78" stroke="#e6083d" stroke-width="0.7" />
<line x1="83.20" y1="224.82" x2="83.20" y2="229.17" stroke="#e6083d" stroke-width="0.7" />
<line x1="81.90" y1="224.82" x2="84.50" y2="224.82" stroke="#e6083d" stroke-width="0.7" />
<line x1="81.90" y1="229.17" x2="84.50" y2="229.17" stroke="#e6083d" stroke-width="0.7" />
<line x1="91.60" y1="220.12" x2="91.60" y2="224.47" stroke="#e6083d" stroke-width="0.7" />
<line x1="90.30" y1="220.12" x2="92.90" y2="220.12" stroke="#e6083d" stroke-width="0.7" />
<line x1="90.30" y1="224.47" x2="92.90" y2="224.47" stroke="#e6083d" stroke-width="0.7" />
<line x1="100.00" y1="216.21" x2="100.00" y2="224.91" stroke="#e6083d" stroke-width="0.7" />
<line x1="98.70" y1="216.21" x2="101.30" y2="216.21" stroke="#e6083d" stroke-width="0.7" />
<line x1="98.70" y1="224.91" x2="101.30" y2="224.91" stroke="#e6083d" stroke-width="0.7" />
<circle cx="41.20" cy="267.28" r="1.4" fill="#e6083d"/>
<circle cx="49.60" cy="257.97" r="1.4" fill="#e6083d"/>
<circle cx="58.00" cy="245.79" r="1.4" fill="#e6083d"/>
<circle cx="66.40" cy="234.48" r="1.4" fill="#e6083d"/>
<circle cx="74.80" cy="222.30" r="1.4" fill="#e6083d"/>
<circle cx="83.20" cy="227.00" r="1.4" fill="#e6083d"/>
<circle cx="91.60" cy="222.30" r="1.4" fill="#e6083d"/>
<circle cx="100.00" cy="220.56" r="1.4" fill="#e6083d"/>
<text x="74.80" y="217.72" font-size="6.9" text-anchor="middle" fill="#2f2f2f" stroke="#2f2f2f" stroke-width="0.1" >**</text>
<text x="83.20" y="222.32" font-size="6.9" text-anchor="middle" fill="#2f2f2f" stroke="#2f2f2f" stroke-width="0.1" >*</text>
<text x="91.60" y="217.72" font-size="6.9" text-anchor="middle" fill="#2f2f2f" stroke="#2f2f2f" stroke-width="0.1" >*</text>
<text x="100.00" y="213.12" font-size="6.9" text-anchor="middle" fill="#2f2f2f" stroke="#2f2f2f" stroke-width="0.1" >***</text>
<text x="46.00" y="197.60" font-size="8.6" text-anchor="start" fill="#2f2f2f" stroke="#2f2f2f" stroke-width="0.1" textLength="49.00" lengthAdjust="spacingAndGlyphs" >CD4<tspan baseline-shift="3.7" font-size="62%">+</tspan> T cells</text>
<text x="16.09" y="240.00" font-size="7.2" text-anchor="middle" fill="#2f2f2f" stroke="#2f2f2f" stroke-width="0.1" textLength="72.00" lengthAdjust="spacingAndGlyphs" transform="rotate(-90 16.09 240.00)" >Proliferation (cpm x10<tspan baseline-shift="2.2" font-size="62%">3</tspan>)</text>
<text x="44.10" y="285.00" font-size="6.5" text-anchor="end" fill="#2f2f2f" stroke="#2f2f2f" stroke-width="0.1" transform="rotate(-45 44.10 285.00)" >0</text>
<text x="52.50" y="285.00" font-size="6.5" text-anchor="end" fill="#2f2f2f" stroke="#2f2f2f" stroke-width="0.1" transform="rotate(-45 52.50 285.00)" >0.03</text>
<text x="60.90" y="285.00" font-size="6.5" text-anchor="end" fill="#2f2f2f" stroke="#2f2f2f" stroke-width="0.1" transform="rotate(-45 60.90 285.00)" >0.06</text>
<text x="69.30" y="285.00" font-size="6.5" text-anchor="end" fill="#2f2f2f" stroke="#2f2f2f" stroke-width="0.1" transform="rotate(-45 69.30 285.00)" >0.125</text>
<text x="77.70" y="285.00" font-size="6.5" text-anchor="end" fill="#2f2f2f" stroke="#2f2f2f" stroke-width="0.1" transform="rotate(-45 77.70 285.00)" >0.25</text>
<text x="86.10" y="285.00" font-size="6.5" text-anchor="end" fill="#2f2f2f" stroke="#2f2f2f" stroke-width="0.1" transform="rotate(-45 86.10 285.00)" >0.5</text>
<text x="94.50" y="285.00" font-size="6.5" text-anchor="end" fill="#2f2f2f" stroke="#2f2f2f" stroke-width="0.1" transform="rotate(-45 94.50 285.00)" >1</text>
<text x="102.90" y="285.00" font-size="6.5" text-anchor="end" fill="#2f2f2f" stroke="#2f2f2f" stroke-width="0.1" transform="rotate(-45 102.90 285.00)" >2</text>
<text x="56.90" y="307.70" font-size="8.4" text-anchor="start" fill="#2f2f2f" stroke="#2f2f2f" stroke-width="0.1" textLength="28.60" lengthAdjust="spacingAndGlyphs" >Gln (mM)</text>
<line x1="134.00" y1="204.00" x2="134.00" y2="275.10" stroke="#231f20" stroke-width="1.2" />
<line x1="133.50" y1="274.60" x2="201.50" y2="274.60" stroke="#231f20" stroke-width="1.2" />
<line x1="131.20" y1="274.60" x2="134.00" y2="274.60" stroke="#231f20" stroke-width="0.9" />
<text x="128.40" y="276.87" font-size="6.3" text-anchor="end" fill="#2f2f2f" stroke="#2f2f2f" stroke-width="0.1" >0</text>
<line x1="131.20" y1="260.90" x2="134.00" y2="260.90" stroke="#231f20" stroke-width="0.9" />
<text x="128.40" y="263.17" font-size="6.3" text-anchor="end" fill="#2f2f2f" stroke="#2f2f2f" stroke-width="0.1" >1</text>
<line x1="131.20" y1="247.20" x2="134.00" y2="247.20" stroke="#231f20" stroke-width="0.9" />
<text x="128.40" y="249.47" font-size="6.3" text-anchor="end" fill="#2f2f2f" stroke="#2f2f2f" stroke-width="0.1" >2</text>
<line x1="131.20" y1="233.50" x2="134.00" y2="233.50" stroke="#231f20" stroke-width="0.9" />
<text x="128.40" y="235.77" font-size="6.3" text-anchor="end" fill="#2f2f2f" stroke="#2f2f2f" stroke-width="0.1" >3</text>
<line x1="131.20" y1="219.80" x2="134.00" y2="219.80" stroke="#231f20" stroke-width="0.9" />
<text x="128.40" y="222.07" font-size="6.3" text-anchor="end" fill="#2f2f2f" stroke="#2f2f2f" stroke-width="0.1" >4</text>
<line x1="131.20" y1="206.10" x2="134.00" y2="206.10" stroke="#231f20" stroke-width="0.9" />
<text x="128.40" y="208.37" font-size="6.3" text-anchor="end" fill="#2f2f2f" stroke="#2f2f2f" stroke-width="0.1" >5</text>
<line x1="139.40" y1="274.60" x2="139.40" y2="276.80" stroke="#231f20" stroke-width="0.9" />
<line x1="147.59" y1="274.60" x2="147.59" y2="276.80" stroke="#231f20" stroke-width="0.9" />
<line x1="155.78" y1="274.60" x2="155.78" y2="276.80" stroke="#231f20" stroke-width="0.9" />
<line x1="163.97" y1="274.60" x2="163.97" y2="276.80" stroke="#231f20" stroke-width="0.9" />
<line x1="172.16" y1="274.60" x2="172.16" y2="276.80" stroke="#231f20" stroke-width="0.9" />
<line x1="180.35" y1="274.60" x2="180.35" y2="276.80" stroke="#231f20" stroke-width="0.9" />
<line x1="188.54" y1="274.60" x2="188.54" y2="276.80" stroke="#231f20" stroke-width="0.9" />
<line x1="196.73" y1="274.60" x2="196.73" y2="276.80" stroke="#231f20" stroke-width="0.9" />
<polyline points="139.40,274.60 147.59,274.60 155.78,274.60 163.97,274.60 172.16,274.60 180.35,274.60 188.54,274.60 196.73,274.60" fill="none" stroke="#e6083d" stroke-width="1.0" stroke-linejoin="round" stroke-dasharray="1.4,1.2"/>
<circle cx="139.40" cy="274.60" r="1.1" fill="#e6083d"/>
<circle cx="147.59" cy="274.60" r="1.1" fill="#e6083d"/>
<circle cx="155.78" cy="274.60" r="1.1" fill="#e6083d"/>
<circle cx="163.97" cy="274.60" r="1.1" fill="#e6083d"/>
<circle cx="172.16" cy="274.60" r="1.1" fill="#e6083d"/>
<circle cx="180.35" cy="274.60" r="1.1" fill="#e6083d"/>
<circle cx="188.54" cy="274.60" r="1.1" fill="#e6083d"/>
<circle cx="196.73" cy="274.60" r="1.1" fill="#e6083d"/>
<polyline points="139.40,257.89 147.59,244.46 155.78,244.05 163.97,230.35 172.16,234.46 180.35,243.09 188.54,230.35 196.73,230.35" fill="none" stroke="#166a8e" stroke-width="1.2" stroke-linejoin="round"/>
<line x1="139.40" y1="257.20" x2="139.40" y2="258.57" stroke="#166a8e" stroke-width="0.7" />
<line x1="138.10" y1="257.20" x2="140.70" y2="257.20" stroke="#166a8e" stroke-width="0.7" />
<line x1="138.10" y1="258.57" x2="140.70" y2="258.57" stroke="#166a8e" stroke-width="0.7" />
<line x1="147.59" y1="241.72" x2="147.59" y2="247.20" stroke="#166a8e" stroke-width="0.7" />
<line x1="146.29" y1="241.72" x2="148.89" y2="241.72" stroke="#166a8e" stroke-width="0.7" />
<line x1="146.29" y1="247.20" x2="148.89" y2="247.20" stroke="#166a8e" stroke-width="0.7" />
<line x1="155.78" y1="243.36" x2="155.78" y2="244.73" stroke="#166a8e" stroke-width="0.7" />
<line x1="154.48" y1="243.36" x2="157.08" y2="243.36" stroke="#166a8e" stroke-width="0.7" />
<line x1="154.48" y1="244.73" x2="157.08" y2="244.73" stroke="#166a8e" stroke-width="0.7" />
<line x1="163.97" y1="228.98" x2="163.97" y2="231.72" stroke="#166a8e" stroke-width="0.7" />
<line x1="162.67" y1="228.98" x2="165.27" y2="228.98" stroke="#166a8e" stroke-width="0.7" />
<line x1="162.67" y1="231.72" x2="165.27" y2="231.72" stroke="#166a8e" stroke-width="0.7" />
<line x1="172.16" y1="233.09" x2="172.16" y2="235.83" stroke="#166a8e" stroke-width="0.7" />
<line x1="170.86" y1="233.09" x2="173.46" y2="233.09" stroke="#166a8e" stroke-width="0.7" />
<line x1="170.86" y1="235.83" x2="173.46" y2="235.83" stroke="#166a8e" stroke-width="0.7" />
<line x1="180.35" y1="241.04" x2="180.35" y2="245.15" stroke="#166a8e" stroke-width="0.7" />
<line x1="179.05" y1="241.04" x2="181.65" y2="241.04" stroke="#166a8e" stroke-width="0.7" />
<line x1="179.05" y1="245.15" x2="181.65" y2="245.15" stroke="#166a8e" stroke-width="0.7" />
<line x1="188.54" y1="223.50" x2="188.54" y2="237.20" stroke="#166a8e" stroke-width="0.7" />
<line x1="187.24" y1="223.50" x2="189.84" y2="223.50" stroke="#166a8e" stroke-width="0.7" />
<line x1="187.24" y1="237.20" x2="189.84" y2="237.20" stroke="#166a8e" stroke-width="0.7" />
<line x1="196.73" y1="224.18" x2="196.73" y2="236.51" stroke="#166a8e" stroke-width="0.7" />
<line x1="195.43" y1="224.18" x2="198.03" y2="224.18" stroke="#166a8e" stroke-width="0.7" />
<line x1="195.43" y1="236.51" x2="198.03" y2="236.51" stroke="#166a8e" stroke-width="0.7" />
<circle cx="139.40" cy="257.89" r="1.4" fill="#166a8e"/>
<circle cx="147.59" cy="244.46" r="1.4" fill="#166a8e"/>
<circle cx="155.78" cy="244.05" r="1.4" fill="#166a8e"/>
<circle cx="163.97" cy="230.35" r="1.4" fill="#166a8e"/>
<circle cx="172.16" cy="234.46" r="1.4" fill="#166a8e"/>
<circle cx="180.35" cy="243.09" r="1.4" fill="#166a8e"/>
<circle cx="188.54" cy="230.35" r="1.4" fill="#166a8e"/>
<circle cx="196.73" cy="230.35" r="1.4" fill="#166a8e"/>
<polyline points="139.40,252.13 147.59,241.45 155.78,232.95 163.97,216.51 172.16,219.39 180.35,226.24 188.54,228.98 196.73,226.24" fill="none" stroke="#e6083d" stroke-width="1.2" stroke-linejoin="round"/>
<line x1="139.40" y1="250.08" x2="139.40" y2="254.19" stroke="#e6083d" stroke-width="0.7" />
<line x1="138.10" y1="250.08" x2="140.70" y2="250.08" stroke="#e6083d" stroke-width="0.7" />
<line x1="138.10" y1="254.19" x2="140.70" y2="254.19" stroke="#e6083d" stroke-width="0.7" />
<line x1="147.59" y1="235.28" x2="147.59" y2="247.61" stroke="#e6083d" stroke-width="0.7" />
<line x1="146.29" y1="235.28" x2="148.89" y2="235.28" stroke="#e6083d" stroke-width="0.7" />
<line x1="146.29" y1="247.61" x2="148.89" y2="247.61" stroke="#e6083d" stroke-width="0.7" />
<line x1="155.78" y1="231.58" x2="155.78" y2="234.32" stroke="#e6083d" stroke-width="0.7" />
<line x1="154.48" y1="231.58" x2="157.08" y2="231.58" stroke="#e6083d" stroke-width="0.7" />
<line x1="154.48" y1="234.32" x2="157.08" y2="234.32" stroke="#e6083d" stroke-width="0.7" />
<line x1="163.97" y1="215.14" x2="163.97" y2="217.88" stroke="#e6083d" stroke-width="0.7" />
<line x1="162.67" y1="215.14" x2="165.27" y2="215.14" stroke="#e6083d" stroke-width="0.7" />
<line x1="162.67" y1="217.88" x2="165.27" y2="217.88" stroke="#e6083d" stroke-width="0.7" />
<line x1="172.16" y1="215.96" x2="172.16" y2="222.81" stroke="#e6083d" stroke-width="0.7" />
<line x1="170.86" y1="215.96" x2="173.46" y2="215.96" stroke="#e6083d" stroke-width="0.7" />
<line x1="170.86" y1="222.81" x2="173.46" y2="222.81" stroke="#e6083d" stroke-width="0.7" />
<line x1="180.35" y1="224.18" x2="180.35" y2="228.29" stroke="#e6083d" stroke-width="0.7" />
<line x1="179.05" y1="224.18" x2="181.65" y2="224.18" stroke="#e6083d" stroke-width="0.7" />
<line x1="179.05" y1="228.29" x2="181.65" y2="228.29" stroke="#e6083d" stroke-width="0.7" />
<line x1="188.54" y1="227.61" x2="188.54" y2="230.35" stroke="#e6083d" stroke-width="0.7" />
<line x1="187.24" y1="227.61" x2="189.84" y2="227.61" stroke="#e6083d" stroke-width="0.7" />
<line x1="187.24" y1="230.35" x2="189.84" y2="230.35" stroke="#e6083d" stroke-width="0.7" />
<line x1="196.73" y1="223.50" x2="196.73" y2="228.98" stroke="#e6083d" stroke-width="0.7" />
<line x1="195.43" y1="223.50" x2="198.03" y2="223.50" stroke="#e6083d" stroke-width="0.7" />
<line x1="195.43" y1="228.98" x2="198.03" y2="228.98" stroke="#e6083d" stroke-width="0.7" />
<circle cx="139.40" cy="252.13" r="1.4" fill="#e6083d"/>
<circle cx="147.59" cy="241.45" r="1.4" fill="#e6083d"/>
<circle cx="155.78" cy="232.95" r="1.4" fill="#e6083d"/>
<circle cx="163.97" cy="216.51" r="1.4" fill="#e6083d"/>
<circle cx="172.16" cy="219.39" r="1.4" fill="#e6083d"/>
<circle cx="180.35" cy="226.24" r="1.4" fill="#e6083d"/>
<circle cx="188.54" cy="228.98" r="1.4" fill="#e6083d"/>
<circle cx="196.73" cy="226.24" r="1.4" fill="#e6083d"/>
<text x="172.16" y="213.32" font-size="6.9" text-anchor="middle" fill="#2f2f2f" stroke="#2f2f2f" stroke-width="0.1" >*</text>
<text x="180.35" y="222.02" font-size="6.9" text-anchor="middle" fill="#2f2f2f" stroke="#2f2f2f" stroke-width="0.1" >*</text>
<text x="143.70" y="199.30" font-size="8.6" text-anchor="start" fill="#2f2f2f" stroke="#2f2f2f" stroke-width="0.1" textLength="48.00" lengthAdjust="spacingAndGlyphs" >CD4<tspan baseline-shift="3.7" font-size="62%">+</tspan> T cells</text>
<text x="119.29" y="243.00" font-size="7.2" text-anchor="middle" fill="#2f2f2f" stroke="#2f2f2f" stroke-width="0.1" textLength="49.00" lengthAdjust="spacingAndGlyphs" transform="rotate(-90 119.29 243.00)" >IFN-γ (ng/mL)</text>
<text x="142.30" y="285.00" font-size="6.5" text-anchor="end" fill="#2f2f2f" stroke="#2f2f2f" stroke-width="0.1" transform="rotate(-45 142.30 285.00)" >0</text>
<text x="150.49" y="285.00" font-size="6.5" text-anchor="end" fill="#2f2f2f" stroke="#2f2f2f" stroke-width="0.1" transform="rotate(-45 150.49 285.00)" >0.03</text>
<text x="158.68" y="285.00" font-size="6.5" text-anchor="end" fill="#2f2f2f" stroke="#2f2f2f" stroke-width="0.1" transform="rotate(-45 158.68 285.00)" >0.06</text>
<text x="166.87" y="285.00" font-size="6.5" text-anchor="end" fill="#2f2f2f" stroke="#2f2f2f" stroke-width="0.1" transform="rotate(-45 166.87 285.00)" >0.125</text>
<text x="175.06" y="285.00" font-size="6.5" text-anchor="end" fill="#2f2f2f" stroke="#2f2f2f" stroke-width="0.1" transform="rotate(-45 175.06 285.00)" >0.25</text>
<text x="183.25" y="285.00" font-size="6.5" text-anchor="end" fill="#2f2f2f" stroke="#2f2f2f" stroke-width="0.1" transform="rotate(-45 183.25 285.00)" >0.5</text>
<text x="191.44" y="285.00" font-size="6.5" text-anchor="end" fill="#2f2f2f" stroke="#2f2f2f" stroke-width="0.1" transform="rotate(-45 191.44 285.00)" >1</text>
<text x="199.63" y="285.00" font-size="6.5" text-anchor="end" fill="#2f2f2f" stroke="#2f2f2f" stroke-width="0.1" transform="rotate(-45 199.63 285.00)" >2</text>
<text x="154.20" y="307.60" font-size="8.4" text-anchor="start" fill="#2f2f2f" stroke="#2f2f2f" stroke-width="0.1" textLength="28.70" lengthAdjust="spacingAndGlyphs" >Gln (mM)</text>
<text x="231.40" y="183.60" font-size="11.0" text-anchor="start" font-weight="bold" fill="#2f2f2f" stroke="#2f2f2f" stroke-width="0.1" style="stroke-width:0.3px">F</text>
<line x1="256.70" y1="203.50" x2="256.70" y2="276.30" stroke="#231f20" stroke-width="1.2" />
<line x1="256.20" y1="275.80" x2="327.70" y2="275.80" stroke="#231f20" stroke-width="1.2" />
<line x1="253.90" y1="275.80" x2="256.70" y2="275.80" stroke="#231f20" stroke-width="0.9" />
<text x="251.10" y="278.07" font-size="6.3" text-anchor="end" fill="#2f2f2f" stroke="#2f2f2f" stroke-width="0.1" >0</text>
<line x1="253.90" y1="252.40" x2="256.70" y2="252.40" stroke="#231f20" stroke-width="0.9" />
<text x="251.10" y="254.67" font-size="6.3" text-anchor="end" fill="#2f2f2f" stroke="#2f2f2f" stroke-width="0.1" >10</text>
<line x1="253.90" y1="229.00" x2="256.70" y2="229.00" stroke="#231f20" stroke-width="0.9" />
<text x="251.10" y="231.27" font-size="6.3" text-anchor="end" fill="#2f2f2f" stroke="#2f2f2f" stroke-width="0.1" >20</text>
<line x1="253.90" y1="205.60" x2="256.70" y2="205.60" stroke="#231f20" stroke-width="0.9" />
<text x="251.10" y="207.87" font-size="6.3" text-anchor="end" fill="#2f2f2f" stroke="#2f2f2f" stroke-width="0.1" >30</text>
<line x1="262.90" y1="275.80" x2="262.90" y2="278.00" stroke="#231f20" stroke-width="0.9" />
<line x1="271.36" y1="275.80" x2="271.36" y2="278.00" stroke="#231f20" stroke-width="0.9" />
<line x1="279.82" y1="275.80" x2="279.82" y2="278.00" stroke="#231f20" stroke-width="0.9" />
<line x1="288.28" y1="275.80" x2="288.28" y2="278.00" stroke="#231f20" stroke-width="0.9" />
<line x1="296.74" y1="275.80" x2="296.74" y2="278.00" stroke="#231f20" stroke-width="0.9" />
<line x1="305.20" y1="275.80" x2="305.20" y2="278.00" stroke="#231f20" stroke-width="0.9" />
<line x1="313.66" y1="275.80" x2="313.66" y2="278.00" stroke="#231f20" stroke-width="0.9" />
<line x1="322.12" y1="275.80" x2="322.12" y2="278.00" stroke="#231f20" stroke-width="0.9" />
<polyline points="262.90,274.63 271.36,275.10 279.82,275.10 288.28,275.10 296.74,275.10 305.20,275.10 313.66,275.10 322.12,275.10" fill="none" stroke="#166a8e" stroke-width="1.0" stroke-linejoin="round" stroke-dasharray="1.4,1.2"/>
<circle cx="262.90" cy="274.63" r="1.1" fill="#166a8e"/>
<circle cx="271.36" cy="275.10" r="1.1" fill="#166a8e"/>
<circle cx="279.82" cy="275.10" r="1.1" fill="#166a8e"/>
<circle cx="288.28" cy="275.10" r="1.1" fill="#166a8e"/>
<circle cx="296.74" cy="275.10" r="1.1" fill="#166a8e"/>
<circle cx="305.20" cy="275.10" r="1.1" fill="#166a8e"/>
<circle cx="313.66" cy="275.10" r="1.1" fill="#166a8e"/>
<circle cx="322.12" cy="275.10" r="1.1" fill="#166a8e"/>
<polyline points="262.90,272.99 271.36,272.99 279.82,272.29 288.28,273.46 296.74,272.99 305.20,274.63 313.66,272.76 322.12,272.76" fill="none" stroke="#e6083d" stroke-width="1.0" stroke-linejoin="round" stroke-dasharray="1.4,1.2"/>
<line x1="262.90" y1="272.29" x2="262.90" y2="273.69" stroke="#e6083d" stroke-width="0.7" />
<line x1="261.60" y1="272.29" x2="264.20" y2="272.29" stroke="#e6083d" stroke-width="0.7" />
<line x1="261.60" y1="273.69" x2="264.20" y2="273.69" stroke="#e6083d" stroke-width="0.7" />
<line x1="271.36" y1="272.29" x2="271.36" y2="273.69" stroke="#e6083d" stroke-width="0.7" />
<line x1="270.06" y1="272.29" x2="272.66" y2="272.29" stroke="#e6083d" stroke-width="0.7" />
<line x1="270.06" y1="273.69" x2="272.66" y2="273.69" stroke="#e6083d" stroke-width="0.7" />
<line x1="279.82" y1="271.35" x2="279.82" y2="273.23" stroke="#e6083d" stroke-width="0.7" />
<line x1="278.52" y1="271.35" x2="281.12" y2="271.35" stroke="#e6083d" stroke-width="0.7" />
<line x1="278.52" y1="273.23" x2="281.12" y2="273.23" stroke="#e6083d" stroke-width="0.7" />
<line x1="288.28" y1="272.76" x2="288.28" y2="274.16" stroke="#e6083d" stroke-width="0.7" />
<line x1="286.98" y1="272.76" x2="289.58" y2="272.76" stroke="#e6083d" stroke-width="0.7" />
<line x1="286.98" y1="274.16" x2="289.58" y2="274.16" stroke="#e6083d" stroke-width="0.7" />
<line x1="296.74" y1="272.29" x2="296.74" y2="273.69" stroke="#e6083d" stroke-width="0.7" />
<line x1="295.44" y1="272.29" x2="298.04" y2="272.29" stroke="#e6083d" stroke-width="0.7" />
<line x1="295.44" y1="273.69" x2="298.04" y2="273.69" stroke="#e6083d" stroke-width="0.7" />
<line x1="305.20" y1="273.93" x2="305.20" y2="275.33" stroke="#e6083d" stroke-width="0.7" />
<line x1="303.90" y1="273.93" x2="306.50" y2="273.93" stroke="#e6083d" stroke-width="0.7" />
<line x1="303.90" y1="275.33" x2="306.50" y2="275.33" stroke="#e6083d" stroke-width="0.7" />
<line x1="313.66" y1="271.82" x2="313.66" y2="273.69" stroke="#e6083d" stroke-width="0.7" />
<line x1="312.36" y1="271.82" x2="314.96" y2="271.82" stroke="#e6083d" stroke-width="0.7" />
<line x1="312.36" y1="273.69" x2="314.96" y2="273.69" stroke="#e6083d" stroke-width="0.7" />
<line x1="322.12" y1="271.82" x2="322.12" y2="273.69" stroke="#e6083d" stroke-width="0.7" />
<line x1="320.82" y1="271.82" x2="323.42" y2="271.82" stroke="#e6083d" stroke-width="0.7" />
<line x1="320.82" y1="273.69" x2="323.42" y2="273.69" stroke="#e6083d" stroke-width="0.7" />
<circle cx="262.90" cy="272.99" r="1.1" fill="#e6083d"/>
<circle cx="271.36" cy="272.99" r="1.1" fill="#e6083d"/>
<circle cx="279.82" cy="272.29" r="1.1" fill="#e6083d"/>
<circle cx="288.28" cy="273.46" r="1.1" fill="#e6083d"/>
<circle cx="296.74" cy="272.99" r="1.1" fill="#e6083d"/>
<circle cx="305.20" cy="274.63" r="1.1" fill="#e6083d"/>
<circle cx="313.66" cy="272.76" r="1.1" fill="#e6083d"/>
<circle cx="322.12" cy="272.76" r="1.1" fill="#e6083d"/>
<polyline points="262.90,269.01 271.36,260.00 279.82,260.00 288.28,261.99 296.74,261.99 305.20,258.48 313.66,262.93 322.12,262.93" fill="none" stroke="#166a8e" stroke-width="1.2" stroke-linejoin="round"/>
<line x1="262.90" y1="267.61" x2="262.90" y2="270.42" stroke="#166a8e" stroke-width="0.7" />
<line x1="261.60" y1="267.61" x2="264.20" y2="267.61" stroke="#166a8e" stroke-width="0.7" />
<line x1="261.60" y1="270.42" x2="264.20" y2="270.42" stroke="#166a8e" stroke-width="0.7" />
<line x1="271.36" y1="257.67" x2="271.36" y2="262.35" stroke="#166a8e" stroke-width="0.7" />
<line x1="270.06" y1="257.67" x2="272.66" y2="257.67" stroke="#166a8e" stroke-width="0.7" />
<line x1="270.06" y1="262.35" x2="272.66" y2="262.35" stroke="#166a8e" stroke-width="0.7" />
<line x1="279.82" y1="258.13" x2="279.82" y2="261.88" stroke="#166a8e" stroke-width="0.7" />
<line x1="278.52" y1="258.13" x2="281.12" y2="258.13" stroke="#166a8e" stroke-width="0.7" />
<line x1="278.52" y1="261.88" x2="281.12" y2="261.88" stroke="#166a8e" stroke-width="0.7" />
<line x1="288.28" y1="261.06" x2="288.28" y2="262.93" stroke="#166a8e" stroke-width="0.7" />
<line x1="286.98" y1="261.06" x2="289.58" y2="261.06" stroke="#166a8e" stroke-width="0.7" />
<line x1="286.98" y1="262.93" x2="289.58" y2="262.93" stroke="#166a8e" stroke-width="0.7" />
<line x1="296.74" y1="260.82" x2="296.74" y2="263.16" stroke="#166a8e" stroke-width="0.7" />
<line x1="295.44" y1="260.82" x2="298.04" y2="260.82" stroke="#166a8e" stroke-width="0.7" />
<line x1="295.44" y1="263.16" x2="298.04" y2="263.16" stroke="#166a8e" stroke-width="0.7" />
<line x1="305.20" y1="257.55" x2="305.20" y2="259.42" stroke="#166a8e" stroke-width="0.7" />
<line x1="303.90" y1="257.55" x2="306.50" y2="257.55" stroke="#166a8e" stroke-width="0.7" />
<line x1="303.90" y1="259.42" x2="306.50" y2="259.42" stroke="#166a8e" stroke-width="0.7" />
<line x1="313.66" y1="261.06" x2="313.66" y2="264.80" stroke="#166a8e" stroke-width="0.7" />
<line x1="312.36" y1="261.06" x2="314.96" y2="261.06" stroke="#166a8e" stroke-width="0.7" />
<line x1="312.36" y1="264.80" x2="314.96" y2="264.80" stroke="#166a8e" stroke-width="0.7" />
<line x1="322.12" y1="261.53" x2="322.12" y2="264.33" stroke="#166a8e" stroke-width="0.7" />
<line x1="320.82" y1="261.53" x2="323.42" y2="261.53" stroke="#166a8e" stroke-width="0.7" />
<line x1="320.82" y1="264.33" x2="323.42" y2="264.33" stroke="#166a8e" stroke-width="0.7" />
<circle cx="262.90" cy="269.01" r="1.4" fill="#166a8e"/>
<circle cx="271.36" cy="260.00" r="1.4" fill="#166a8e"/>
<circle cx="279.82" cy="260.00" r="1.4" fill="#166a8e"/>
<circle cx="288.28" cy="261.99" r="1.4" fill="#166a8e"/>
<circle cx="296.74" cy="261.99" r="1.4" fill="#166a8e"/>
<circle cx="305.20" cy="258.48" r="1.4" fill="#166a8e"/>
<circle cx="313.66" cy="262.93" r="1.4" fill="#166a8e"/>
<circle cx="322.12" cy="262.93" r="1.4" fill="#166a8e"/>
<polyline points="262.90,268.08 271.36,240.23 279.82,242.10 288.28,248.89 296.74,242.81 305.20,225.72 313.66,245.38 322.12,242.10" fill="none" stroke="#e6083d" stroke-width="1.2" stroke-linejoin="round"/>
<line x1="262.90" y1="265.74" x2="262.90" y2="270.42" stroke="#e6083d" stroke-width="0.7" />
<line x1="261.60" y1="265.74" x2="264.20" y2="265.74" stroke="#e6083d" stroke-width="0.7" />
<line x1="261.60" y1="270.42" x2="264.20" y2="270.42" stroke="#e6083d" stroke-width="0.7" />
<line x1="271.36" y1="237.89" x2="271.36" y2="242.57" stroke="#e6083d" stroke-width="0.7" />
<line x1="270.06" y1="237.89" x2="272.66" y2="237.89" stroke="#e6083d" stroke-width="0.7" />
<line x1="270.06" y1="242.57" x2="272.66" y2="242.57" stroke="#e6083d" stroke-width="0.7" />
<line x1="279.82" y1="235.08" x2="279.82" y2="249.12" stroke="#e6083d" stroke-width="0.7" />
<line x1="278.52" y1="235.08" x2="281.12" y2="235.08" stroke="#e6083d" stroke-width="0.7" />
<line x1="278.52" y1="249.12" x2="281.12" y2="249.12" stroke="#e6083d" stroke-width="0.7" />
<line x1="288.28" y1="246.55" x2="288.28" y2="251.23" stroke="#e6083d" stroke-width="0.7" />
<line x1="286.98" y1="246.55" x2="289.58" y2="246.55" stroke="#e6083d" stroke-width="0.7" />
<line x1="286.98" y1="251.23" x2="289.58" y2="251.23" stroke="#e6083d" stroke-width="0.7" />
<line x1="296.74" y1="241.17" x2="296.74" y2="244.44" stroke="#e6083d" stroke-width="0.7" />
<line x1="295.44" y1="241.17" x2="298.04" y2="241.17" stroke="#e6083d" stroke-width="0.7" />
<line x1="295.44" y1="244.44" x2="298.04" y2="244.44" stroke="#e6083d" stroke-width="0.7" />
<line x1="305.20" y1="218.70" x2="305.20" y2="232.74" stroke="#e6083d" stroke-width="0.7" />
<line x1="303.90" y1="218.70" x2="306.50" y2="218.70" stroke="#e6083d" stroke-width="0.7" />
<line x1="303.90" y1="232.74" x2="306.50" y2="232.74" stroke="#e6083d" stroke-width="0.7" />
<line x1="313.66" y1="243.74" x2="313.66" y2="247.02" stroke="#e6083d" stroke-width="0.7" />
<line x1="312.36" y1="243.74" x2="314.96" y2="243.74" stroke="#e6083d" stroke-width="0.7" />
<line x1="312.36" y1="247.02" x2="314.96" y2="247.02" stroke="#e6083d" stroke-width="0.7" />
<line x1="322.12" y1="238.59" x2="322.12" y2="245.61" stroke="#e6083d" stroke-width="0.7" />
<line x1="320.82" y1="238.59" x2="323.42" y2="238.59" stroke="#e6083d" stroke-width="0.7" />
<line x1="320.82" y1="245.61" x2="323.42" y2="245.61" stroke="#e6083d" stroke-width="0.7" />
<circle cx="262.90" cy="268.08" r="1.4" fill="#e6083d"/>
<circle cx="271.36" cy="240.23" r="1.4" fill="#e6083d"/>
<circle cx="279.82" cy="242.10" r="1.4" fill="#e6083d"/>
<circle cx="288.28" cy="248.89" r="1.4" fill="#e6083d"/>
<circle cx="296.74" cy="242.81" r="1.4" fill="#e6083d"/>
<circle cx="305.20" cy="225.72" r="1.4" fill="#e6083d"/>
<circle cx="313.66" cy="245.38" r="1.4" fill="#e6083d"/>
<circle cx="322.12" cy="242.10" r="1.4" fill="#e6083d"/>
<text x="271.36" y="234.52" font-size="6.9" text-anchor="middle" fill="#2f2f2f" stroke="#2f2f2f" stroke-width="0.1" >**</text>
<text x="279.82" y="234.52" font-size="6.9" text-anchor="middle" fill="#2f2f2f" stroke="#2f2f2f" stroke-width="0.1" >**</text>
<text x="296.74" y="234.52" font-size="6.9" text-anchor="middle" fill="#2f2f2f" stroke="#2f2f2f" stroke-width="0.1" >**</text>
<text x="305.20" y="216.22" font-size="6.9" text-anchor="middle" fill="#2f2f2f" stroke="#2f2f2f" stroke-width="0.1" >****</text>
<text x="313.66" y="236.02" font-size="6.9" text-anchor="middle" fill="#2f2f2f" stroke="#2f2f2f" stroke-width="0.1" >**</text>
<text x="322.12" y="236.02" font-size="6.9" text-anchor="middle" fill="#2f2f2f" stroke="#2f2f2f" stroke-width="0.1" >**</text>
<text x="268.30" y="198.90" font-size="8.6" text-anchor="start" fill="#2f2f2f" stroke="#2f2f2f" stroke-width="0.1" textLength="48.00" lengthAdjust="spacingAndGlyphs" >CD8<tspan baseline-shift="3.7" font-size="62%">+</tspan> T cells</text>
<text x="238.19" y="238.70" font-size="7.2" text-anchor="middle" fill="#2f2f2f" stroke="#2f2f2f" stroke-width="0.1" textLength="72.00" lengthAdjust="spacingAndGlyphs" transform="rotate(-90 238.19 238.70)" >Proliferation (cpm x10<tspan baseline-shift="2.2" font-size="62%">3</tspan>)</text>
<text x="265.80" y="286.20" font-size="6.5" text-anchor="end" fill="#2f2f2f" stroke="#2f2f2f" stroke-width="0.1" transform="rotate(-45 265.80 286.20)" >0</text>
<text x="274.26" y="286.20" font-size="6.5" text-anchor="end" fill="#2f2f2f" stroke="#2f2f2f" stroke-width="0.1" transform="rotate(-45 274.26 286.20)" >0.03</text>
<text x="282.72" y="286.20" font-size="6.5" text-anchor="end" fill="#2f2f2f" stroke="#2f2f2f" stroke-width="0.1" transform="rotate(-45 282.72 286.20)" >0.06</text>
<text x="291.18" y="286.20" font-size="6.5" text-anchor="end" fill="#2f2f2f" stroke="#2f2f2f" stroke-width="0.1" transform="rotate(-45 291.18 286.20)" >0.125</text>
<text x="299.64" y="286.20" font-size="6.5" text-anchor="end" fill="#2f2f2f" stroke="#2f2f2f" stroke-width="0.1" transform="rotate(-45 299.64 286.20)" >0.25</text>
<text x="308.10" y="286.20" font-size="6.5" text-anchor="end" fill="#2f2f2f" stroke="#2f2f2f" stroke-width="0.1" transform="rotate(-45 308.10 286.20)" >0.5</text>
<text x="316.56" y="286.20" font-size="6.5" text-anchor="end" fill="#2f2f2f" stroke="#2f2f2f" stroke-width="0.1" transform="rotate(-45 316.56 286.20)" >1</text>
<text x="325.02" y="286.20" font-size="6.5" text-anchor="end" fill="#2f2f2f" stroke="#2f2f2f" stroke-width="0.1" transform="rotate(-45 325.02 286.20)" >2</text>
<text x="279.10" y="308.90" font-size="8.4" text-anchor="start" fill="#2f2f2f" stroke="#2f2f2f" stroke-width="0.1" textLength="28.80" lengthAdjust="spacingAndGlyphs" >Gln (mM)</text>
<line x1="360.20" y1="203.50" x2="360.20" y2="276.30" stroke="#231f20" stroke-width="1.2" />
<line x1="359.70" y1="275.80" x2="430.60" y2="275.80" stroke="#231f20" stroke-width="1.2" />
<line x1="357.40" y1="275.80" x2="360.20" y2="275.80" stroke="#231f20" stroke-width="0.9" />
<text x="354.60" y="278.07" font-size="6.3" text-anchor="end" fill="#2f2f2f" stroke="#2f2f2f" stroke-width="0.1" >0</text>
<line x1="357.40" y1="258.25" x2="360.20" y2="258.25" stroke="#231f20" stroke-width="0.9" />
<text x="354.60" y="260.52" font-size="6.3" text-anchor="end" fill="#2f2f2f" stroke="#2f2f2f" stroke-width="0.1" >5</text>
<line x1="357.40" y1="240.70" x2="360.20" y2="240.70" stroke="#231f20" stroke-width="0.9" />
<text x="354.60" y="242.97" font-size="6.3" text-anchor="end" fill="#2f2f2f" stroke="#2f2f2f" stroke-width="0.1" >10</text>
<line x1="357.40" y1="223.15" x2="360.20" y2="223.15" stroke="#231f20" stroke-width="0.9" />
<text x="354.60" y="225.42" font-size="6.3" text-anchor="end" fill="#2f2f2f" stroke="#2f2f2f" stroke-width="0.1" >15</text>
<line x1="357.40" y1="205.60" x2="360.20" y2="205.60" stroke="#231f20" stroke-width="0.9" />
<text x="354.60" y="207.87" font-size="6.3" text-anchor="end" fill="#2f2f2f" stroke="#2f2f2f" stroke-width="0.1" >20</text>
<line x1="365.80" y1="275.80" x2="365.80" y2="278.00" stroke="#231f20" stroke-width="0.9" />
<line x1="374.26" y1="275.80" x2="374.26" y2="278.00" stroke="#231f20" stroke-width="0.9" />
<line x1="382.72" y1="275.80" x2="382.72" y2="278.00" stroke="#231f20" stroke-width="0.9" />
<line x1="391.18" y1="275.80" x2="391.18" y2="278.00" stroke="#231f20" stroke-width="0.9" />
<line x1="399.64" y1="275.80" x2="399.64" y2="278.00" stroke="#231f20" stroke-width="0.9" />
<line x1="408.10" y1="275.80" x2="408.10" y2="278.00" stroke="#231f20" stroke-width="0.9" />
<line x1="416.56" y1="275.80" x2="416.56" y2="278.00" stroke="#231f20" stroke-width="0.9" />
<line x1="425.02" y1="275.80" x2="425.02" y2="278.00" stroke="#231f20" stroke-width="0.9" />
<polyline points="365.80,275.80 374.26,275.80 382.72,275.80 391.18,275.80 399.64,275.80 408.10,275.80 416.56,275.80 425.02,275.80" fill="none" stroke="#e6083d" stroke-width="1.0" stroke-linejoin="round" stroke-dasharray="1.4,1.2"/>
<path d="M364.48,274.70 L367.12,274.70 L365.80,277.01 Z" fill="#e6083d"/>
<path d="M372.94,274.70 L375.58,274.70 L374.26,277.01 Z" fill="#e6083d"/>
<path d="M381.40,274.70 L384.04,274.70 L382.72,277.01 Z" fill="#e6083d"/>
<path d="M389.86,274.70 L392.50,274.70 L391.18,277.01 Z" fill="#e6083d"/>
<path d="M398.32,274.70 L400.96,274.70 L399.64,277.01 Z" fill="#e6083d"/>
<path d="M406.78,274.70 L409.42,274.70 L408.10,277.01 Z" fill="#e6083d"/>
<path d="M415.24,274.70 L417.88,274.70 L416.56,277.01 Z" fill="#e6083d"/>
<path d="M423.70,274.70 L426.34,274.70 L425.02,277.01 Z" fill="#e6083d"/>
<polyline points="365.80,263.30 374.26,250.88 382.72,254.04 391.18,247.02 399.64,243.86 408.10,238.24 416.56,240.70 425.02,240.70" fill="none" stroke="#166a8e" stroke-width="1.2" stroke-linejoin="round"/>
<line x1="365.80" y1="259.79" x2="365.80" y2="266.81" stroke="#166a8e" stroke-width="0.7" />
<line x1="364.50" y1="259.79" x2="367.10" y2="259.79" stroke="#166a8e" stroke-width="0.7" />
<line x1="364.50" y1="266.81" x2="367.10" y2="266.81" stroke="#166a8e" stroke-width="0.7" />
<line x1="374.26" y1="249.12" x2="374.26" y2="252.63" stroke="#166a8e" stroke-width="0.7" />
<line x1="372.96" y1="249.12" x2="375.56" y2="249.12" stroke="#166a8e" stroke-width="0.7" />
<line x1="372.96" y1="252.63" x2="375.56" y2="252.63" stroke="#166a8e" stroke-width="0.7" />
<line x1="382.72" y1="250.53" x2="382.72" y2="257.55" stroke="#166a8e" stroke-width="0.7" />
<line x1="381.42" y1="250.53" x2="384.02" y2="250.53" stroke="#166a8e" stroke-width="0.7" />
<line x1="381.42" y1="257.55" x2="384.02" y2="257.55" stroke="#166a8e" stroke-width="0.7" />
<line x1="391.18" y1="245.26" x2="391.18" y2="248.77" stroke="#166a8e" stroke-width="0.7" />
<line x1="389.88" y1="245.26" x2="392.48" y2="245.26" stroke="#166a8e" stroke-width="0.7" />
<line x1="389.88" y1="248.77" x2="392.48" y2="248.77" stroke="#166a8e" stroke-width="0.7" />
<line x1="399.64" y1="240.35" x2="399.64" y2="247.37" stroke="#166a8e" stroke-width="0.7" />
<line x1="398.34" y1="240.35" x2="400.94" y2="240.35" stroke="#166a8e" stroke-width="0.7" />
<line x1="398.34" y1="247.37" x2="400.94" y2="247.37" stroke="#166a8e" stroke-width="0.7" />
<line x1="408.10" y1="234.73" x2="408.10" y2="241.75" stroke="#166a8e" stroke-width="0.7" />
<line x1="406.80" y1="234.73" x2="409.40" y2="234.73" stroke="#166a8e" stroke-width="0.7" />
<line x1="406.80" y1="241.75" x2="409.40" y2="241.75" stroke="#166a8e" stroke-width="0.7" />
<line x1="416.56" y1="231.93" x2="416.56" y2="249.48" stroke="#166a8e" stroke-width="0.7" />
<line x1="415.26" y1="231.93" x2="417.86" y2="231.93" stroke="#166a8e" stroke-width="0.7" />
<line x1="415.26" y1="249.48" x2="417.86" y2="249.48" stroke="#166a8e" stroke-width="0.7" />
<line x1="425.02" y1="235.44" x2="425.02" y2="245.97" stroke="#166a8e" stroke-width="0.7" />
<line x1="423.72" y1="235.44" x2="426.32" y2="235.44" stroke="#166a8e" stroke-width="0.7" />
<line x1="423.72" y1="245.97" x2="426.32" y2="245.97" stroke="#166a8e" stroke-width="0.7" />
<circle cx="365.80" cy="263.30" r="1.4" fill="#166a8e"/>
<circle cx="374.26" cy="250.88" r="1.4" fill="#166a8e"/>
<circle cx="382.72" cy="254.04" r="1.4" fill="#166a8e"/>
<circle cx="391.18" cy="247.02" r="1.4" fill="#166a8e"/>
<circle cx="399.64" cy="243.86" r="1.4" fill="#166a8e"/>
<circle cx="408.10" cy="238.24" r="1.4" fill="#166a8e"/>
<circle cx="416.56" cy="240.70" r="1.4" fill="#166a8e"/>
<circle cx="425.02" cy="240.70" r="1.4" fill="#166a8e"/>
<polyline points="365.80,250.88 374.26,234.38 382.72,235.08 391.18,228.06 399.64,229.47 408.10,225.26 416.56,228.77 425.02,218.94" fill="none" stroke="#e6083d" stroke-width="1.2" stroke-linejoin="round"/>
<line x1="365.80" y1="249.12" x2="365.80" y2="252.63" stroke="#e6083d" stroke-width="0.7" />
<line x1="364.50" y1="249.12" x2="367.10" y2="249.12" stroke="#e6083d" stroke-width="0.7" />
<line x1="364.50" y1="252.63" x2="367.10" y2="252.63" stroke="#e6083d" stroke-width="0.7" />
<line x1="374.26" y1="230.17" x2="374.26" y2="238.59" stroke="#e6083d" stroke-width="0.7" />
<line x1="372.96" y1="230.17" x2="375.56" y2="230.17" stroke="#e6083d" stroke-width="0.7" />
<line x1="372.96" y1="238.59" x2="375.56" y2="238.59" stroke="#e6083d" stroke-width="0.7" />
<line x1="382.72" y1="231.57" x2="382.72" y2="238.59" stroke="#e6083d" stroke-width="0.7" />
<line x1="381.42" y1="231.57" x2="384.02" y2="231.57" stroke="#e6083d" stroke-width="0.7" />
<line x1="381.42" y1="238.59" x2="384.02" y2="238.59" stroke="#e6083d" stroke-width="0.7" />
<line x1="391.18" y1="223.85" x2="391.18" y2="232.28" stroke="#e6083d" stroke-width="0.7" />
<line x1="389.88" y1="223.85" x2="392.48" y2="223.85" stroke="#e6083d" stroke-width="0.7" />
<line x1="389.88" y1="232.28" x2="392.48" y2="232.28" stroke="#e6083d" stroke-width="0.7" />
<line x1="399.64" y1="225.96" x2="399.64" y2="232.98" stroke="#e6083d" stroke-width="0.7" />
<line x1="398.34" y1="225.96" x2="400.94" y2="225.96" stroke="#e6083d" stroke-width="0.7" />
<line x1="398.34" y1="232.98" x2="400.94" y2="232.98" stroke="#e6083d" stroke-width="0.7" />
<line x1="408.10" y1="221.75" x2="408.10" y2="228.77" stroke="#e6083d" stroke-width="0.7" />
<line x1="406.80" y1="221.75" x2="409.40" y2="221.75" stroke="#e6083d" stroke-width="0.7" />
<line x1="406.80" y1="228.77" x2="409.40" y2="228.77" stroke="#e6083d" stroke-width="0.7" />
<line x1="416.56" y1="223.50" x2="416.56" y2="234.03" stroke="#e6083d" stroke-width="0.7" />
<line x1="415.26" y1="223.50" x2="417.86" y2="223.50" stroke="#e6083d" stroke-width="0.7" />
<line x1="415.26" y1="234.03" x2="417.86" y2="234.03" stroke="#e6083d" stroke-width="0.7" />
<line x1="425.02" y1="216.13" x2="425.02" y2="221.75" stroke="#e6083d" stroke-width="0.7" />
<line x1="423.72" y1="216.13" x2="426.32" y2="216.13" stroke="#e6083d" stroke-width="0.7" />
<line x1="423.72" y1="221.75" x2="426.32" y2="221.75" stroke="#e6083d" stroke-width="0.7" />
<circle cx="365.80" cy="250.88" r="1.4" fill="#e6083d"/>
<circle cx="374.26" cy="234.38" r="1.4" fill="#e6083d"/>
<circle cx="382.72" cy="235.08" r="1.4" fill="#e6083d"/>
<circle cx="391.18" cy="228.06" r="1.4" fill="#e6083d"/>
<circle cx="399.64" cy="229.47" r="1.4" fill="#e6083d"/>
<circle cx="408.10" cy="225.26" r="1.4" fill="#e6083d"/>
<circle cx="416.56" cy="228.77" r="1.4" fill="#e6083d"/>
<circle cx="425.02" cy="218.94" r="1.4" fill="#e6083d"/>
<text x="374.26" y="227.32" font-size="6.9" text-anchor="middle" fill="#2f2f2f" stroke="#2f2f2f" stroke-width="0.1" >*</text>
<text x="382.72" y="229.72" font-size="6.9" text-anchor="middle" fill="#2f2f2f" stroke="#2f2f2f" stroke-width="0.1" >*</text>
<text x="391.18" y="222.52" font-size="6.9" text-anchor="middle" fill="#2f2f2f" stroke="#2f2f2f" stroke-width="0.1" >*</text>
<text x="425.02" y="212.92" font-size="6.9" text-anchor="middle" fill="#2f2f2f" stroke="#2f2f2f" stroke-width="0.1" >**</text>
<text x="371.20" y="198.60" font-size="8.6" text-anchor="start" fill="#2f2f2f" stroke="#2f2f2f" stroke-width="0.1" textLength="48.00" lengthAdjust="spacingAndGlyphs" >CD8<tspan baseline-shift="3.7" font-size="62%">+</tspan> T cells</text>
<text x="341.39" y="239.50" font-size="7.2" text-anchor="middle" fill="#2f2f2f" stroke="#2f2f2f" stroke-width="0.1" textLength="41.00" lengthAdjust="spacingAndGlyphs" transform="rotate(-90 341.39 239.50)" >IFN-γ (ng/mL)</text>
<text x="368.70" y="286.20" font-size="6.5" text-anchor="end" fill="#2f2f2f" stroke="#2f2f2f" stroke-width="0.1" transform="rotate(-45 368.70 286.20)" >0</text>
<text x="377.16" y="286.20" font-size="6.5" text-anchor="end" fill="#2f2f2f" stroke="#2f2f2f" stroke-width="0.1" transform="rotate(-45 377.16 286.20)" >0.03</text>
<text x="385.62" y="286.20" font-size="6.5" text-anchor="end" fill="#2f2f2f" stroke="#2f2f2f" stroke-width="0.1" transform="rotate(-45 385.62 286.20)" >0.06</text>
<text x="394.08" y="286.20" font-size="6.5" text-anchor="end" fill="#2f2f2f" stroke="#2f2f2f" stroke-width="0.1" transform="rotate(-45 394.08 286.20)" >0.125</text>
<text x="402.54" y="286.20" font-size="6.5" text-anchor="end" fill="#2f2f2f" stroke="#2f2f2f" stroke-width="0.1" transform="rotate(-45 402.54 286.20)" >0.25</text>
<text x="411.00" y="286.20" font-size="6.5" text-anchor="end" fill="#2f2f2f" stroke="#2f2f2f" stroke-width="0.1" transform="rotate(-45 411.00 286.20)" >0.5</text>
<text x="419.46" y="286.20" font-size="6.5" text-anchor="end" fill="#2f2f2f" stroke="#2f2f2f" stroke-width="0.1" transform="rotate(-45 419.46 286.20)" >1</text>
<text x="427.92" y="286.20" font-size="6.5" text-anchor="end" fill="#2f2f2f" stroke="#2f2f2f" stroke-width="0.1" transform="rotate(-45 427.92 286.20)" >2</text>
<text x="381.00" y="308.90" font-size="8.4" text-anchor="start" fill="#2f2f2f" stroke="#2f2f2f" stroke-width="0.1" textLength="28.80" lengthAdjust="spacingAndGlyphs" >Gln (mM)</text>
<line x1="437.00" y1="240.20" x2="444.00" y2="240.20" stroke="#166a8e" stroke-width="1.1" />
<circle cx="440.50" cy="240.20" r="1.2" fill="#166a8e"/>
<text x="447.00" y="242.61" font-size="6.7" text-anchor="start" fill="#2f2f2f" stroke="#2f2f2f" stroke-width="0.1" textLength="30.50" lengthAdjust="spacingAndGlyphs" >Ctrl T cells</text>
<line x1="437.00" y1="249.20" x2="444.00" y2="249.20" stroke="#e6083d" stroke-width="1.1" />
<circle cx="440.50" cy="249.20" r="1.2" fill="#e6083d"/>
<text x="447.00" y="251.61" font-size="6.7" text-anchor="start" fill="#2f2f2f" stroke="#2f2f2f" stroke-width="0.1" textLength="36.00" lengthAdjust="spacingAndGlyphs" ><tspan font-style="italic">Asct2</tspan> T cells</text>
<line x1="437.00" y1="258.00" x2="444.00" y2="258.00" stroke="#166a8e" stroke-width="1.1" stroke-dasharray="1.5,1.2" />
<circle cx="440.50" cy="258.00" r="1.2" fill="#166a8e"/>
<text x="447.00" y="260.41" font-size="6.7" text-anchor="start" fill="#2f2f2f" stroke="#2f2f2f" stroke-width="0.1" textLength="52.50" lengthAdjust="spacingAndGlyphs" >Ctrl T cells unstim.</text>
<line x1="437.00" y1="266.70" x2="444.00" y2="266.70" stroke="#e6083d" stroke-width="1.1" stroke-dasharray="1.5,1.2" />
<circle cx="440.50" cy="266.70" r="1.2" fill="#e6083d"/>
<text x="447.00" y="269.11" font-size="6.7" text-anchor="start" fill="#2f2f2f" stroke="#2f2f2f" stroke-width="0.1" textLength="58.50" lengthAdjust="spacingAndGlyphs" ><tspan font-style="italic">Asct2</tspan> T cells unstim.</text>
<text x="6.70" y="330.00" font-size="11.0" text-anchor="start" font-weight="bold" fill="#2f2f2f" stroke="#2f2f2f" stroke-width="0.1" style="stroke-width:0.3px">G</text>
<line x1="34.50" y1="337.50" x2="34.50" y2="410.00" stroke="#231f20" stroke-width="1.2" />
<line x1="34.00" y1="409.50" x2="105.50" y2="409.50" stroke="#231f20" stroke-width="1.2" />
<line x1="31.70" y1="409.50" x2="34.50" y2="409.50" stroke="#231f20" stroke-width="0.9" />
<text x="28.90" y="411.77" font-size="6.3" text-anchor="end" fill="#2f2f2f" stroke="#2f2f2f" stroke-width="0.1" >0</text>
<line x1="31.70" y1="391.90" x2="34.50" y2="391.90" stroke="#231f20" stroke-width="0.9" />
<text x="28.90" y="394.17" font-size="6.3" text-anchor="end" fill="#2f2f2f" stroke="#2f2f2f" stroke-width="0.1" >20</text>
<line x1="31.70" y1="374.30" x2="34.50" y2="374.30" stroke="#231f20" stroke-width="0.9" />
<text x="28.90" y="376.57" font-size="6.3" text-anchor="end" fill="#2f2f2f" stroke="#2f2f2f" stroke-width="0.1" >40</text>
<line x1="31.70" y1="356.70" x2="34.50" y2="356.70" stroke="#231f20" stroke-width="0.9" />
<text x="28.90" y="358.97" font-size="6.3" text-anchor="end" fill="#2f2f2f" stroke="#2f2f2f" stroke-width="0.1" >60</text>
<line x1="31.70" y1="339.10" x2="34.50" y2="339.10" stroke="#231f20" stroke-width="0.9" />
<text x="28.90" y="341.37" font-size="6.3" text-anchor="end" fill="#2f2f2f" stroke="#2f2f2f" stroke-width="0.1" >80</text>
<line x1="41.30" y1="409.50" x2="41.30" y2="411.70" stroke="#231f20" stroke-width="0.9" />
<line x1="49.69" y1="409.50" x2="49.69" y2="411.70" stroke="#231f20" stroke-width="0.9" />
<line x1="58.08" y1="409.50" x2="58.08" y2="411.70" stroke="#231f20" stroke-width="0.9" />
<line x1="66.47" y1="409.50" x2="66.47" y2="411.70" stroke="#231f20" stroke-width="0.9" />
<line x1="74.86" y1="409.50" x2="74.86" y2="411.70" stroke="#231f20" stroke-width="0.9" />
<line x1="83.25" y1="409.50" x2="83.25" y2="411.70" stroke="#231f20" stroke-width="0.9" />
<line x1="91.64" y1="409.50" x2="91.64" y2="411.70" stroke="#231f20" stroke-width="0.9" />
<line x1="100.03" y1="409.50" x2="100.03" y2="411.70" stroke="#231f20" stroke-width="0.9" />
<polyline points="41.30,408.62 49.69,408.62 58.08,408.62 66.47,408.62 74.86,408.62 83.25,408.62 91.64,408.18 100.03,408.62" fill="none" stroke="#166a8e" stroke-width="1.0" stroke-linejoin="round" stroke-dasharray="1.4,1.2"/>
<circle cx="41.30" cy="408.62" r="1.1" fill="#166a8e"/>
<circle cx="49.69" cy="408.62" r="1.1" fill="#166a8e"/>
<circle cx="58.08" cy="408.62" r="1.1" fill="#166a8e"/>
<circle cx="66.47" cy="408.62" r="1.1" fill="#166a8e"/>
<circle cx="74.86" cy="408.62" r="1.1" fill="#166a8e"/>
<circle cx="83.25" cy="408.62" r="1.1" fill="#166a8e"/>
<circle cx="91.64" cy="408.18" r="1.1" fill="#166a8e"/>
<circle cx="100.03" cy="408.62" r="1.1" fill="#166a8e"/>
<polyline points="41.30,407.74 49.69,407.74 58.08,408.62 66.47,408.62 74.86,408.18 83.25,406.86 91.64,405.10 100.03,405.98" fill="none" stroke="#e6083d" stroke-width="1.0" stroke-linejoin="round" stroke-dasharray="1.4,1.2"/>
<line x1="41.30" y1="407.30" x2="41.30" y2="408.18" stroke="#e6083d" stroke-width="0.7" />
<line x1="40.00" y1="407.30" x2="42.60" y2="407.30" stroke="#e6083d" stroke-width="0.7" />
<line x1="40.00" y1="408.18" x2="42.60" y2="408.18" stroke="#e6083d" stroke-width="0.7" />
<line x1="49.69" y1="407.30" x2="49.69" y2="408.18" stroke="#e6083d" stroke-width="0.7" />
<line x1="48.39" y1="407.30" x2="50.99" y2="407.30" stroke="#e6083d" stroke-width="0.7" />
<line x1="48.39" y1="408.18" x2="50.99" y2="408.18" stroke="#e6083d" stroke-width="0.7" />
<line x1="58.08" y1="408.18" x2="58.08" y2="409.06" stroke="#e6083d" stroke-width="0.7" />
<line x1="56.78" y1="408.18" x2="59.38" y2="408.18" stroke="#e6083d" stroke-width="0.7" />
<line x1="56.78" y1="409.06" x2="59.38" y2="409.06" stroke="#e6083d" stroke-width="0.7" />
<line x1="66.47" y1="408.18" x2="66.47" y2="409.06" stroke="#e6083d" stroke-width="0.7" />
<line x1="65.17" y1="408.18" x2="67.77" y2="408.18" stroke="#e6083d" stroke-width="0.7" />
<line x1="65.17" y1="409.06" x2="67.77" y2="409.06" stroke="#e6083d" stroke-width="0.7" />
<line x1="74.86" y1="407.74" x2="74.86" y2="408.62" stroke="#e6083d" stroke-width="0.7" />
<line x1="73.56" y1="407.74" x2="76.16" y2="407.74" stroke="#e6083d" stroke-width="0.7" />
<line x1="73.56" y1="408.62" x2="76.16" y2="408.62" stroke="#e6083d" stroke-width="0.7" />
<line x1="83.25" y1="405.98" x2="83.25" y2="407.74" stroke="#e6083d" stroke-width="0.7" />
<line x1="81.95" y1="405.98" x2="84.55" y2="405.98" stroke="#e6083d" stroke-width="0.7" />
<line x1="81.95" y1="407.74" x2="84.55" y2="407.74" stroke="#e6083d" stroke-width="0.7" />
<line x1="91.64" y1="403.34" x2="91.64" y2="406.86" stroke="#e6083d" stroke-width="0.7" />
<line x1="90.34" y1="403.34" x2="92.94" y2="403.34" stroke="#e6083d" stroke-width="0.7" />
<line x1="90.34" y1="406.86" x2="92.94" y2="406.86" stroke="#e6083d" stroke-width="0.7" />
<line x1="100.03" y1="405.10" x2="100.03" y2="406.86" stroke="#e6083d" stroke-width="0.7" />
<line x1="98.73" y1="405.10" x2="101.33" y2="405.10" stroke="#e6083d" stroke-width="0.7" />
<line x1="98.73" y1="406.86" x2="101.33" y2="406.86" stroke="#e6083d" stroke-width="0.7" />
<circle cx="41.30" cy="407.74" r="1.3" fill="#e6083d"/>
<circle cx="49.69" cy="407.74" r="1.3" fill="#e6083d"/>
<circle cx="58.08" cy="408.62" r="1.3" fill="#e6083d"/>
<circle cx="66.47" cy="408.62" r="1.3" fill="#e6083d"/>
<circle cx="74.86" cy="408.18" r="1.3" fill="#e6083d"/>
<circle cx="83.25" cy="406.86" r="1.3" fill="#e6083d"/>
<circle cx="91.64" cy="405.10" r="1.3" fill="#e6083d"/>
<circle cx="100.03" cy="405.98" r="1.3" fill="#e6083d"/>
<polyline points="41.30,406.68 49.69,395.07 58.08,389.26 66.47,381.34 74.86,381.34 83.25,381.34 91.64,385.21 100.03,387.06" fill="none" stroke="#166a8e" stroke-width="1.2" stroke-linejoin="round"/>
<line x1="41.30" y1="405.80" x2="41.30" y2="407.56" stroke="#166a8e" stroke-width="0.7" />
<line x1="40.00" y1="405.80" x2="42.60" y2="405.80" stroke="#166a8e" stroke-width="0.7" />
<line x1="40.00" y1="407.56" x2="42.60" y2="407.56" stroke="#166a8e" stroke-width="0.7" />
<line x1="49.69" y1="394.19" x2="49.69" y2="395.95" stroke="#166a8e" stroke-width="0.7" />
<line x1="48.39" y1="394.19" x2="50.99" y2="394.19" stroke="#166a8e" stroke-width="0.7" />
<line x1="48.39" y1="395.95" x2="50.99" y2="395.95" stroke="#166a8e" stroke-width="0.7" />
<line x1="58.08" y1="388.38" x2="58.08" y2="390.14" stroke="#166a8e" stroke-width="0.7" />
<line x1="56.78" y1="388.38" x2="59.38" y2="388.38" stroke="#166a8e" stroke-width="0.7" />
<line x1="56.78" y1="390.14" x2="59.38" y2="390.14" stroke="#166a8e" stroke-width="0.7" />
<line x1="66.47" y1="377.82" x2="66.47" y2="384.86" stroke="#166a8e" stroke-width="0.7" />
<line x1="65.17" y1="377.82" x2="67.77" y2="377.82" stroke="#166a8e" stroke-width="0.7" />
<line x1="65.17" y1="384.86" x2="67.77" y2="384.86" stroke="#166a8e" stroke-width="0.7" />
<line x1="74.86" y1="379.14" x2="74.86" y2="383.54" stroke="#166a8e" stroke-width="0.7" />
<line x1="73.56" y1="379.14" x2="76.16" y2="379.14" stroke="#166a8e" stroke-width="0.7" />
<line x1="73.56" y1="383.54" x2="76.16" y2="383.54" stroke="#166a8e" stroke-width="0.7" />
<line x1="83.25" y1="379.14" x2="83.25" y2="383.54" stroke="#166a8e" stroke-width="0.7" />
<line x1="81.95" y1="379.14" x2="84.55" y2="379.14" stroke="#166a8e" stroke-width="0.7" />
<line x1="81.95" y1="383.54" x2="84.55" y2="383.54" stroke="#166a8e" stroke-width="0.7" />
<line x1="91.64" y1="383.01" x2="91.64" y2="387.41" stroke="#166a8e" stroke-width="0.7" />
<line x1="90.34" y1="383.01" x2="92.94" y2="383.01" stroke="#166a8e" stroke-width="0.7" />
<line x1="90.34" y1="387.41" x2="92.94" y2="387.41" stroke="#166a8e" stroke-width="0.7" />
<line x1="100.03" y1="384.86" x2="100.03" y2="389.26" stroke="#166a8e" stroke-width="0.7" />
<line x1="98.73" y1="384.86" x2="101.33" y2="384.86" stroke="#166a8e" stroke-width="0.7" />
<line x1="98.73" y1="389.26" x2="101.33" y2="389.26" stroke="#166a8e" stroke-width="0.7" />
<circle cx="41.30" cy="406.68" r="1.4" fill="#166a8e"/>
<circle cx="49.69" cy="395.07" r="1.4" fill="#166a8e"/>
<circle cx="58.08" cy="389.26" r="1.4" fill="#166a8e"/>
<circle cx="66.47" cy="381.34" r="1.4" fill="#166a8e"/>
<circle cx="74.86" cy="381.34" r="1.4" fill="#166a8e"/>
<circle cx="83.25" cy="381.34" r="1.4" fill="#166a8e"/>
<circle cx="91.64" cy="385.21" r="1.4" fill="#166a8e"/>
<circle cx="100.03" cy="387.06" r="1.4" fill="#166a8e"/>
<polyline points="41.30,405.72 49.69,386.62 58.08,367.61 66.47,364.80 74.86,359.60 83.25,367.61 91.64,366.12 100.03,367.96" fill="none" stroke="#e6083d" stroke-width="1.2" stroke-linejoin="round"/>
<line x1="41.30" y1="404.84" x2="41.30" y2="406.60" stroke="#e6083d" stroke-width="0.7" />
<line x1="40.00" y1="404.84" x2="42.60" y2="404.84" stroke="#e6083d" stroke-width="0.7" />
<line x1="40.00" y1="406.60" x2="42.60" y2="406.60" stroke="#e6083d" stroke-width="0.7" />
<line x1="49.69" y1="385.30" x2="49.69" y2="387.94" stroke="#e6083d" stroke-width="0.7" />
<line x1="48.39" y1="385.30" x2="50.99" y2="385.30" stroke="#e6083d" stroke-width="0.7" />
<line x1="48.39" y1="387.94" x2="50.99" y2="387.94" stroke="#e6083d" stroke-width="0.7" />
<line x1="58.08" y1="365.85" x2="58.08" y2="369.37" stroke="#e6083d" stroke-width="0.7" />
<line x1="56.78" y1="365.85" x2="59.38" y2="365.85" stroke="#e6083d" stroke-width="0.7" />
<line x1="56.78" y1="369.37" x2="59.38" y2="369.37" stroke="#e6083d" stroke-width="0.7" />
<line x1="66.47" y1="363.92" x2="66.47" y2="365.68" stroke="#e6083d" stroke-width="0.7" />
<line x1="65.17" y1="363.92" x2="67.77" y2="363.92" stroke="#e6083d" stroke-width="0.7" />
<line x1="65.17" y1="365.68" x2="67.77" y2="365.68" stroke="#e6083d" stroke-width="0.7" />
<line x1="74.86" y1="358.72" x2="74.86" y2="360.48" stroke="#e6083d" stroke-width="0.7" />
<line x1="73.56" y1="358.72" x2="76.16" y2="358.72" stroke="#e6083d" stroke-width="0.7" />
<line x1="73.56" y1="360.48" x2="76.16" y2="360.48" stroke="#e6083d" stroke-width="0.7" />
<line x1="83.25" y1="364.97" x2="83.25" y2="370.25" stroke="#e6083d" stroke-width="0.7" />
<line x1="81.95" y1="364.97" x2="84.55" y2="364.97" stroke="#e6083d" stroke-width="0.7" />
<line x1="81.95" y1="370.25" x2="84.55" y2="370.25" stroke="#e6083d" stroke-width="0.7" />
<line x1="91.64" y1="363.92" x2="91.64" y2="368.32" stroke="#e6083d" stroke-width="0.7" />
<line x1="90.34" y1="363.92" x2="92.94" y2="363.92" stroke="#e6083d" stroke-width="0.7" />
<line x1="90.34" y1="368.32" x2="92.94" y2="368.32" stroke="#e6083d" stroke-width="0.7" />
<line x1="100.03" y1="367.08" x2="100.03" y2="368.84" stroke="#e6083d" stroke-width="0.7" />
<line x1="98.73" y1="367.08" x2="101.33" y2="367.08" stroke="#e6083d" stroke-width="0.7" />
<line x1="98.73" y1="368.84" x2="101.33" y2="368.84" stroke="#e6083d" stroke-width="0.7" />
<circle cx="41.30" cy="405.72" r="1.4" fill="#e6083d"/>
<circle cx="49.69" cy="386.62" r="1.4" fill="#e6083d"/>
<circle cx="58.08" cy="367.61" r="1.4" fill="#e6083d"/>
<circle cx="66.47" cy="364.80" r="1.4" fill="#e6083d"/>
<circle cx="74.86" cy="359.60" r="1.4" fill="#e6083d"/>
<circle cx="83.25" cy="367.61" r="1.4" fill="#e6083d"/>
<circle cx="91.64" cy="366.12" r="1.4" fill="#e6083d"/>
<circle cx="100.03" cy="367.96" r="1.4" fill="#e6083d"/>
<line x1="57.50" y1="352.80" x2="103.00" y2="352.80" stroke="#8a8a8a" stroke-width="1.1" />
<text x="81.40" y="352.62" font-size="6.9" text-anchor="middle" fill="#2f2f2f" stroke="#2f2f2f" stroke-width="0.1" >****</text>
<text x="49.69" y="382.72" font-size="6.9" text-anchor="middle" fill="#2f2f2f" stroke="#2f2f2f" stroke-width="0.1" >*</text>
<text x="17.79" y="373.00" font-size="7.2" text-anchor="middle" fill="#2f2f2f" stroke="#2f2f2f" stroke-width="0.1" textLength="72.00" lengthAdjust="spacingAndGlyphs" transform="rotate(-90 17.79 373.00)" >Proliferation (cpm x 10<tspan baseline-shift="2.2" font-size="62%">3</tspan>)</text>
<text x="44.20" y="419.90" font-size="6.5" text-anchor="end" fill="#2f2f2f" stroke="#2f2f2f" stroke-width="0.1" transform="rotate(-45 44.20 419.90)" >0</text>
<text x="52.59" y="419.90" font-size="6.5" text-anchor="end" fill="#2f2f2f" stroke="#2f2f2f" stroke-width="0.1" transform="rotate(-45 52.59 419.90)" >0.03</text>
<text x="60.98" y="419.90" font-size="6.5" text-anchor="end" fill="#2f2f2f" stroke="#2f2f2f" stroke-width="0.1" transform="rotate(-45 60.98 419.90)" >0.06</text>
<text x="69.37" y="419.90" font-size="6.5" text-anchor="end" fill="#2f2f2f" stroke="#2f2f2f" stroke-width="0.1" transform="rotate(-45 69.37 419.90)" >0.125</text>
<text x="77.76" y="419.90" font-size="6.5" text-anchor="end" fill="#2f2f2f" stroke="#2f2f2f" stroke-width="0.1" transform="rotate(-45 77.76 419.90)" >0.25</text>
<text x="86.15" y="419.90" font-size="6.5" text-anchor="end" fill="#2f2f2f" stroke="#2f2f2f" stroke-width="0.1" transform="rotate(-45 86.15 419.90)" >0.5</text>
<text x="94.54" y="419.90" font-size="6.5" text-anchor="end" fill="#2f2f2f" stroke="#2f2f2f" stroke-width="0.1" transform="rotate(-45 94.54 419.90)" >1</text>
<text x="102.93" y="419.90" font-size="6.5" text-anchor="end" fill="#2f2f2f" stroke="#2f2f2f" stroke-width="0.1" transform="rotate(-45 102.93 419.90)" >2</text>
<text x="56.90" y="442.30" font-size="8.4" text-anchor="start" fill="#2f2f2f" stroke="#2f2f2f" stroke-width="0.1" textLength="28.60" lengthAdjust="spacingAndGlyphs" >Gln (mM)</text>
<line x1="138.10" y1="341.00" x2="138.10" y2="410.00" stroke="#231f20" stroke-width="1.2" />
<line x1="137.60" y1="409.50" x2="205.00" y2="409.50" stroke="#231f20" stroke-width="1.2" />
<line x1="135.30" y1="409.50" x2="138.10" y2="409.50" stroke="#231f20" stroke-width="0.9" />
<text x="132.50" y="411.77" font-size="6.3" text-anchor="end" fill="#2f2f2f" stroke="#2f2f2f" stroke-width="0.1" >0</text>
<line x1="135.30" y1="387.40" x2="138.10" y2="387.40" stroke="#231f20" stroke-width="0.9" />
<text x="132.50" y="389.67" font-size="6.3" text-anchor="end" fill="#2f2f2f" stroke="#2f2f2f" stroke-width="0.1" >20</text>
<line x1="135.30" y1="365.30" x2="138.10" y2="365.30" stroke="#231f20" stroke-width="0.9" />
<text x="132.50" y="367.57" font-size="6.3" text-anchor="end" fill="#2f2f2f" stroke="#2f2f2f" stroke-width="0.1" >40</text>
<line x1="135.30" y1="343.20" x2="138.10" y2="343.20" stroke="#231f20" stroke-width="0.9" />
<text x="132.50" y="345.47" font-size="6.3" text-anchor="end" fill="#2f2f2f" stroke="#2f2f2f" stroke-width="0.1" >60</text>
<line x1="142.20" y1="409.50" x2="142.20" y2="411.70" stroke="#231f20" stroke-width="0.9" />
<line x1="150.50" y1="409.50" x2="150.50" y2="411.70" stroke="#231f20" stroke-width="0.9" />
<line x1="158.80" y1="409.50" x2="158.80" y2="411.70" stroke="#231f20" stroke-width="0.9" />
<line x1="167.10" y1="409.50" x2="167.10" y2="411.70" stroke="#231f20" stroke-width="0.9" />
<line x1="175.40" y1="409.50" x2="175.40" y2="411.70" stroke="#231f20" stroke-width="0.9" />
<line x1="183.70" y1="409.50" x2="183.70" y2="411.70" stroke="#231f20" stroke-width="0.9" />
<line x1="192.00" y1="409.50" x2="192.00" y2="411.70" stroke="#231f20" stroke-width="0.9" />
<line x1="200.30" y1="409.50" x2="200.30" y2="411.70" stroke="#231f20" stroke-width="0.9" />
<polyline points="142.20,407.29 150.50,409.50 158.80,409.50 167.10,409.50 175.40,409.50 183.70,409.50 192.00,409.50 200.30,409.50" fill="none" stroke="#e6083d" stroke-width="1.0" stroke-linejoin="round" stroke-dasharray="1.4,1.2"/>
<line x1="142.20" y1="405.63" x2="142.20" y2="408.95" stroke="#e6083d" stroke-width="0.7" />
<line x1="140.90" y1="405.63" x2="143.50" y2="405.63" stroke="#e6083d" stroke-width="0.7" />
<line x1="140.90" y1="408.95" x2="143.50" y2="408.95" stroke="#e6083d" stroke-width="0.7" />
<circle cx="142.20" cy="407.29" r="1.2" fill="#e6083d"/>
<circle cx="150.50" cy="409.50" r="1.2" fill="#e6083d"/>
<circle cx="158.80" cy="409.50" r="1.2" fill="#e6083d"/>
<circle cx="167.10" cy="409.50" r="1.2" fill="#e6083d"/>
<circle cx="175.40" cy="409.50" r="1.2" fill="#e6083d"/>
<circle cx="183.70" cy="409.50" r="1.2" fill="#e6083d"/>
<circle cx="192.00" cy="409.50" r="1.2" fill="#e6083d"/>
<circle cx="200.30" cy="409.50" r="1.2" fill="#e6083d"/>
<polyline points="142.20,400.99 150.50,394.47 158.80,382.43 167.10,373.48 175.40,374.03 183.70,371.38 192.00,368.95 200.30,375.36" fill="none" stroke="#166a8e" stroke-width="1.2" stroke-linejoin="round"/>
<line x1="142.20" y1="398.78" x2="142.20" y2="403.20" stroke="#166a8e" stroke-width="0.7" />
<line x1="140.90" y1="398.78" x2="143.50" y2="398.78" stroke="#166a8e" stroke-width="0.7" />
<line x1="140.90" y1="403.20" x2="143.50" y2="403.20" stroke="#166a8e" stroke-width="0.7" />
<line x1="150.50" y1="392.81" x2="150.50" y2="396.13" stroke="#166a8e" stroke-width="0.7" />
<line x1="149.20" y1="392.81" x2="151.80" y2="392.81" stroke="#166a8e" stroke-width="0.7" />
<line x1="149.20" y1="396.13" x2="151.80" y2="396.13" stroke="#166a8e" stroke-width="0.7" />
<line x1="158.80" y1="380.77" x2="158.80" y2="384.08" stroke="#166a8e" stroke-width="0.7" />
<line x1="157.50" y1="380.77" x2="160.10" y2="380.77" stroke="#166a8e" stroke-width="0.7" />
<line x1="157.50" y1="384.08" x2="160.10" y2="384.08" stroke="#166a8e" stroke-width="0.7" />
<line x1="167.10" y1="370.71" x2="167.10" y2="376.24" stroke="#166a8e" stroke-width="0.7" />
<line x1="165.80" y1="370.71" x2="168.40" y2="370.71" stroke="#166a8e" stroke-width="0.7" />
<line x1="165.80" y1="376.24" x2="168.40" y2="376.24" stroke="#166a8e" stroke-width="0.7" />
<line x1="175.40" y1="370.71" x2="175.40" y2="377.34" stroke="#166a8e" stroke-width="0.7" />
<line x1="174.10" y1="370.71" x2="176.70" y2="370.71" stroke="#166a8e" stroke-width="0.7" />
<line x1="174.10" y1="377.34" x2="176.70" y2="377.34" stroke="#166a8e" stroke-width="0.7" />
<line x1="183.70" y1="370.27" x2="183.70" y2="372.48" stroke="#166a8e" stroke-width="0.7" />
<line x1="182.40" y1="370.27" x2="185.00" y2="370.27" stroke="#166a8e" stroke-width="0.7" />
<line x1="182.40" y1="372.48" x2="185.00" y2="372.48" stroke="#166a8e" stroke-width="0.7" />
<line x1="192.00" y1="366.18" x2="192.00" y2="371.71" stroke="#166a8e" stroke-width="0.7" />
<line x1="190.70" y1="366.18" x2="193.30" y2="366.18" stroke="#166a8e" stroke-width="0.7" />
<line x1="190.70" y1="371.71" x2="193.30" y2="371.71" stroke="#166a8e" stroke-width="0.7" />
<line x1="200.30" y1="372.59" x2="200.30" y2="378.12" stroke="#166a8e" stroke-width="0.7" />
<line x1="199.00" y1="372.59" x2="201.60" y2="372.59" stroke="#166a8e" stroke-width="0.7" />
<line x1="199.00" y1="378.12" x2="201.60" y2="378.12" stroke="#166a8e" stroke-width="0.7" />
<circle cx="142.20" cy="400.99" r="1.4" fill="#166a8e"/>
<circle cx="150.50" cy="394.47" r="1.4" fill="#166a8e"/>
<circle cx="158.80" cy="382.43" r="1.4" fill="#166a8e"/>
<circle cx="167.10" cy="373.48" r="1.4" fill="#166a8e"/>
<circle cx="175.40" cy="374.03" r="1.4" fill="#166a8e"/>
<circle cx="183.70" cy="371.38" r="1.4" fill="#166a8e"/>
<circle cx="192.00" cy="368.95" r="1.4" fill="#166a8e"/>
<circle cx="200.30" cy="375.36" r="1.4" fill="#166a8e"/>
<polyline points="142.20,389.39 150.50,376.68 158.80,371.16 167.10,363.75 175.40,360.55 183.70,357.01 192.00,352.81 200.30,350.05" fill="none" stroke="#e6083d" stroke-width="1.2" stroke-linejoin="round"/>
<line x1="142.20" y1="388.28" x2="142.20" y2="390.49" stroke="#e6083d" stroke-width="0.7" />
<line x1="140.90" y1="388.28" x2="143.50" y2="388.28" stroke="#e6083d" stroke-width="0.7" />
<line x1="140.90" y1="390.49" x2="143.50" y2="390.49" stroke="#e6083d" stroke-width="0.7" />
<line x1="150.50" y1="375.02" x2="150.50" y2="378.34" stroke="#e6083d" stroke-width="0.7" />
<line x1="149.20" y1="375.02" x2="151.80" y2="375.02" stroke="#e6083d" stroke-width="0.7" />
<line x1="149.20" y1="378.34" x2="151.80" y2="378.34" stroke="#e6083d" stroke-width="0.7" />
<line x1="158.80" y1="370.05" x2="158.80" y2="372.26" stroke="#e6083d" stroke-width="0.7" />
<line x1="157.50" y1="370.05" x2="160.10" y2="370.05" stroke="#e6083d" stroke-width="0.7" />
<line x1="157.50" y1="372.26" x2="160.10" y2="372.26" stroke="#e6083d" stroke-width="0.7" />
<line x1="167.10" y1="362.65" x2="167.10" y2="364.86" stroke="#e6083d" stroke-width="0.7" />
<line x1="165.80" y1="362.65" x2="168.40" y2="362.65" stroke="#e6083d" stroke-width="0.7" />
<line x1="165.80" y1="364.86" x2="168.40" y2="364.86" stroke="#e6083d" stroke-width="0.7" />
<line x1="175.40" y1="359.44" x2="175.40" y2="361.65" stroke="#e6083d" stroke-width="0.7" />
<line x1="174.10" y1="359.44" x2="176.70" y2="359.44" stroke="#e6083d" stroke-width="0.7" />
<line x1="174.10" y1="361.65" x2="176.70" y2="361.65" stroke="#e6083d" stroke-width="0.7" />
<line x1="183.70" y1="355.36" x2="183.70" y2="358.67" stroke="#e6083d" stroke-width="0.7" />
<line x1="182.40" y1="355.36" x2="185.00" y2="355.36" stroke="#e6083d" stroke-width="0.7" />
<line x1="182.40" y1="358.67" x2="185.00" y2="358.67" stroke="#e6083d" stroke-width="0.7" />
<line x1="192.00" y1="350.60" x2="192.00" y2="355.02" stroke="#e6083d" stroke-width="0.7" />
<line x1="190.70" y1="350.60" x2="193.30" y2="350.60" stroke="#e6083d" stroke-width="0.7" />
<line x1="190.70" y1="355.02" x2="193.30" y2="355.02" stroke="#e6083d" stroke-width="0.7" />
<line x1="200.30" y1="348.39" x2="200.30" y2="351.71" stroke="#e6083d" stroke-width="0.7" />
<line x1="199.00" y1="348.39" x2="201.60" y2="348.39" stroke="#e6083d" stroke-width="0.7" />
<line x1="199.00" y1="351.71" x2="201.60" y2="351.71" stroke="#e6083d" stroke-width="0.7" />
<circle cx="142.20" cy="389.39" r="1.4" fill="#e6083d"/>
<circle cx="150.50" cy="376.68" r="1.4" fill="#e6083d"/>
<circle cx="158.80" cy="371.16" r="1.4" fill="#e6083d"/>
<circle cx="167.10" cy="363.75" r="1.4" fill="#e6083d"/>
<circle cx="175.40" cy="360.55" r="1.4" fill="#e6083d"/>
<circle cx="183.70" cy="357.01" r="1.4" fill="#e6083d"/>
<circle cx="192.00" cy="352.81" r="1.4" fill="#e6083d"/>
<circle cx="200.30" cy="350.05" r="1.4" fill="#e6083d"/>
<text x="142.20" y="388.02" font-size="6.9" text-anchor="middle" fill="#2f2f2f" stroke="#2f2f2f" stroke-width="0.1" >*</text>
<text x="151.50" y="374.92" font-size="6.9" text-anchor="middle" fill="#2f2f2f" stroke="#2f2f2f" stroke-width="0.1" >****</text>
<text x="158.80" y="368.52" font-size="6.9" text-anchor="middle" fill="#2f2f2f" stroke="#2f2f2f" stroke-width="0.1" >*</text>
<text x="175.40" y="359.02" font-size="6.9" text-anchor="middle" fill="#2f2f2f" stroke="#2f2f2f" stroke-width="0.1" >**</text>
<text x="183.70" y="353.72" font-size="6.9" text-anchor="middle" fill="#2f2f2f" stroke="#2f2f2f" stroke-width="0.1" >**</text>
<text x="192.00" y="348.52" font-size="6.9" text-anchor="middle" fill="#2f2f2f" stroke="#2f2f2f" stroke-width="0.1" >***</text>
<text x="201.30" y="346.32" font-size="6.9" text-anchor="middle" fill="#2f2f2f" stroke="#2f2f2f" stroke-width="0.1" >****</text>
<text x="119.29" y="375.50" font-size="7.2" text-anchor="middle" fill="#2f2f2f" stroke="#2f2f2f" stroke-width="0.1" textLength="41.00" lengthAdjust="spacingAndGlyphs" transform="rotate(-90 119.29 375.50)" >IFN-γ (ng/mL)</text>
<text x="145.10" y="419.90" font-size="6.5" text-anchor="end" fill="#2f2f2f" stroke="#2f2f2f" stroke-width="0.1" transform="rotate(-45 145.10 419.90)" >0</text>
<text x="153.40" y="419.90" font-size="6.5" text-anchor="end" fill="#2f2f2f" stroke="#2f2f2f" stroke-width="0.1" transform="rotate(-45 153.40 419.90)" >0.03</text>
<text x="161.70" y="419.90" font-size="6.5" text-anchor="end" fill="#2f2f2f" stroke="#2f2f2f" stroke-width="0.1" transform="rotate(-45 161.70 419.90)" >0.06</text>
<text x="170.00" y="419.90" font-size="6.5" text-anchor="end" fill="#2f2f2f" stroke="#2f2f2f" stroke-width="0.1" transform="rotate(-45 170.00 419.90)" >0.125</text>
<text x="178.30" y="419.90" font-size="6.5" text-anchor="end" fill="#2f2f2f" stroke="#2f2f2f" stroke-width="0.1" transform="rotate(-45 178.30 419.90)" >0.25</text>
<text x="186.60" y="419.90" font-size="6.5" text-anchor="end" fill="#2f2f2f" stroke="#2f2f2f" stroke-width="0.1" transform="rotate(-45 186.60 419.90)" >0.5</text>
<text x="194.90" y="419.90" font-size="6.5" text-anchor="end" fill="#2f2f2f" stroke="#2f2f2f" stroke-width="0.1" transform="rotate(-45 194.90 419.90)" >1</text>
<text x="203.20" y="419.90" font-size="6.5" text-anchor="end" fill="#2f2f2f" stroke="#2f2f2f" stroke-width="0.1" transform="rotate(-45 203.20 419.90)" >2</text>
<text x="156.90" y="442.30" font-size="8.4" text-anchor="start" fill="#2f2f2f" stroke="#2f2f2f" stroke-width="0.1" textLength="28.70" lengthAdjust="spacingAndGlyphs" >Gln (mM)</text>
<line x1="212.00" y1="380.80" x2="217.70" y2="380.80" stroke="#e6083d" stroke-width="1.1" />
<circle cx="214.85" cy="380.80" r="1.2" fill="#e6083d"/>
<text x="221.20" y="383.21" font-size="6.7" text-anchor="start" fill="#2f2f2f" stroke="#2f2f2f" stroke-width="0.1" textLength="68.80" lengthAdjust="spacingAndGlyphs" ><tspan font-style="italic">Asct2</tspan> CD8<tspan baseline-shift="2.9" font-size="62%">+</tspan> + SIINFEKL</text>
<line x1="212.00" y1="388.70" x2="217.70" y2="388.70" stroke="#166a8e" stroke-width="1.1" />
<circle cx="214.85" cy="388.70" r="1.2" fill="#166a8e"/>
<text x="221.20" y="391.11" font-size="6.7" text-anchor="start" fill="#2f2f2f" stroke="#2f2f2f" stroke-width="0.1" textLength="50.80" lengthAdjust="spacingAndGlyphs" >CD8<tspan baseline-shift="2.9" font-size="62%">+</tspan> + SIINFEKL</text>
<line x1="212.00" y1="396.10" x2="217.70" y2="396.10" stroke="#e6083d" stroke-width="1.1" stroke-dasharray="1.5,1.2" />
<circle cx="214.85" cy="396.10" r="1.2" fill="#e6083d"/>
<text x="221.20" y="398.51" font-size="6.7" text-anchor="start" fill="#2f2f2f" stroke="#2f2f2f" stroke-width="0.1" textLength="56.70" lengthAdjust="spacingAndGlyphs" ><tspan font-style="italic">Asct2</tspan> CD8<tspan baseline-shift="2.9" font-size="62%">+</tspan> unstim.</text>
<line x1="212.00" y1="403.70" x2="217.70" y2="403.70" stroke="#166a8e" stroke-width="1.1" stroke-dasharray="1.5,1.2" />
<circle cx="214.85" cy="403.70" r="1.2" fill="#166a8e"/>
<text x="221.20" y="406.11" font-size="6.7" text-anchor="start" fill="#2f2f2f" stroke="#2f2f2f" stroke-width="0.1" textLength="38.40" lengthAdjust="spacingAndGlyphs" >CD8<tspan baseline-shift="2.9" font-size="62%">+</tspan> unstim.</text>
<text x="303.00" y="330.00" font-size="11.0" text-anchor="start" font-weight="bold" fill="#2f2f2f" stroke="#2f2f2f" stroke-width="0.1" style="stroke-width:0.3px">H</text>
<line x1="331.80" y1="352.00" x2="331.80" y2="417.50" stroke="#231f20" stroke-width="1.2" />
<line x1="331.30" y1="417.00" x2="392.30" y2="417.00" stroke="#231f20" stroke-width="1.2" />
<line x1="329.00" y1="417.00" x2="331.80" y2="417.00" stroke="#231f20" stroke-width="0.9" />
<text x="326.20" y="419.27" font-size="6.3" text-anchor="end" fill="#2f2f2f" stroke="#2f2f2f" stroke-width="0.1" >0</text>
<line x1="329.00" y1="404.20" x2="331.80" y2="404.20" stroke="#231f20" stroke-width="0.9" />
<text x="326.20" y="406.47" font-size="6.3" text-anchor="end" fill="#2f2f2f" stroke="#2f2f2f" stroke-width="0.1" >20</text>
<line x1="329.00" y1="391.40" x2="331.80" y2="391.40" stroke="#231f20" stroke-width="0.9" />
<text x="326.20" y="393.67" font-size="6.3" text-anchor="end" fill="#2f2f2f" stroke="#2f2f2f" stroke-width="0.1" >40</text>
<line x1="329.00" y1="378.60" x2="331.80" y2="378.60" stroke="#231f20" stroke-width="0.9" />
<text x="326.20" y="380.87" font-size="6.3" text-anchor="end" fill="#2f2f2f" stroke="#2f2f2f" stroke-width="0.1" >60</text>
<line x1="329.00" y1="365.80" x2="331.80" y2="365.80" stroke="#231f20" stroke-width="0.9" />
<text x="326.20" y="368.07" font-size="6.3" text-anchor="end" fill="#2f2f2f" stroke="#2f2f2f" stroke-width="0.1" >80</text>
<line x1="329.00" y1="353.00" x2="331.80" y2="353.00" stroke="#231f20" stroke-width="0.9" />
<text x="326.20" y="355.27" font-size="6.3" text-anchor="end" fill="#2f2f2f" stroke="#2f2f2f" stroke-width="0.1" >100</text>
<line x1="344.50" y1="417.00" x2="344.50" y2="419.20" stroke="#231f20" stroke-width="0.9" />
<line x1="362.30" y1="417.00" x2="362.30" y2="419.20" stroke="#231f20" stroke-width="0.9" />
<line x1="380.00" y1="417.00" x2="380.00" y2="419.20" stroke="#231f20" stroke-width="0.9" />
<polyline points="344.50,417.00 362.30,389.48 380.00,367.72" fill="none" stroke="#166a8e" stroke-width="1.15" stroke-linejoin="round"/>
<line x1="362.30" y1="386.92" x2="362.30" y2="392.04" stroke="#166a8e" stroke-width="0.7" />
<line x1="361.00" y1="386.92" x2="363.60" y2="386.92" stroke="#166a8e" stroke-width="0.7" />
<line x1="361.00" y1="392.04" x2="363.60" y2="392.04" stroke="#166a8e" stroke-width="0.7" />
<line x1="380.00" y1="367.08" x2="380.00" y2="368.36" stroke="#166a8e" stroke-width="0.7" />
<line x1="378.70" y1="367.08" x2="381.30" y2="367.08" stroke="#166a8e" stroke-width="0.7" />
<line x1="378.70" y1="368.36" x2="381.30" y2="368.36" stroke="#166a8e" stroke-width="0.7" />
<circle cx="344.50" cy="417.00" r="1.2" fill="#166a8e"/>
<circle cx="362.30" cy="389.48" r="1.2" fill="#166a8e"/>
<circle cx="380.00" cy="367.72" r="1.2" fill="#166a8e"/>
<polyline points="344.50,404.52 362.30,370.02 380.00,366.44" fill="none" stroke="#e6083d" stroke-width="1.15" stroke-linejoin="round"/>
<line x1="344.50" y1="401.32" x2="344.50" y2="407.72" stroke="#e6083d" stroke-width="0.7" />
<line x1="343.20" y1="401.32" x2="345.80" y2="401.32" stroke="#e6083d" stroke-width="0.7" />
<line x1="343.20" y1="407.72" x2="345.80" y2="407.72" stroke="#e6083d" stroke-width="0.7" />
<line x1="362.30" y1="369.38" x2="362.30" y2="370.66" stroke="#e6083d" stroke-width="0.7" />
<line x1="361.00" y1="369.38" x2="363.60" y2="369.38" stroke="#e6083d" stroke-width="0.7" />
<line x1="361.00" y1="370.66" x2="363.60" y2="370.66" stroke="#e6083d" stroke-width="0.7" />
<line x1="380.00" y1="365.80" x2="380.00" y2="367.08" stroke="#e6083d" stroke-width="0.7" />
<line x1="378.70" y1="365.80" x2="381.30" y2="365.80" stroke="#e6083d" stroke-width="0.7" />
<line x1="378.70" y1="367.08" x2="381.30" y2="367.08" stroke="#e6083d" stroke-width="0.7" />
<circle cx="344.50" cy="404.52" r="1.2" fill="#e6083d"/>
<circle cx="362.30" cy="370.02" r="1.2" fill="#e6083d"/>
<circle cx="380.00" cy="366.44" r="1.2" fill="#e6083d"/>
<text x="344.50" y="400.02" font-size="6.9" text-anchor="middle" fill="#2f2f2f" stroke="#2f2f2f" stroke-width="0.1" >*</text>
<text x="362.30" y="368.52" font-size="6.9" text-anchor="middle" fill="#2f2f2f" stroke="#2f2f2f" stroke-width="0.1" >***</text>
<text x="344.50" y="428.40" font-size="6.6" text-anchor="middle" fill="#2f2f2f" stroke="#2f2f2f" stroke-width="0.1" >0</text>
<text x="362.30" y="428.40" font-size="6.6" text-anchor="middle" fill="#2f2f2f" stroke="#2f2f2f" stroke-width="0.1" >0.5</text>
<text x="380.00" y="428.40" font-size="6.6" text-anchor="middle" fill="#2f2f2f" stroke="#2f2f2f" stroke-width="0.1" >2</text>
<line x1="340.40" y1="339.70" x2="348.50" y2="339.70" stroke="#166a8e" stroke-width="1.1" />
<circle cx="344.45" cy="339.70" r="1.2" fill="#166a8e"/>
<text x="350.50" y="342.11" font-size="6.7" text-anchor="start" fill="#2f2f2f" stroke="#2f2f2f" stroke-width="0.1" textLength="30.00" lengthAdjust="spacingAndGlyphs" >CD8<tspan baseline-shift="2.9" font-size="62%">+</tspan> OT-I</text>
<line x1="340.40" y1="347.30" x2="348.50" y2="347.30" stroke="#e6083d" stroke-width="1.1" />
<circle cx="344.45" cy="347.30" r="1.2" fill="#e6083d"/>
<text x="350.50" y="349.71" font-size="6.7" text-anchor="start" fill="#2f2f2f" stroke="#2f2f2f" stroke-width="0.1" textLength="47.70" lengthAdjust="spacingAndGlyphs" >Asct2 CD8<tspan baseline-shift="2.9" font-size="62%">+</tspan> OT-I</text>
<text x="310.02" y="383.00" font-size="8.4" text-anchor="middle" fill="#2f2f2f" stroke="#2f2f2f" stroke-width="0.1" textLength="30.00" lengthAdjust="spacingAndGlyphs" transform="rotate(-90 310.02 383.00)" >% of lysis</text>
<text x="350.30" y="440.40" font-size="8.4" text-anchor="start" fill="#2f2f2f" stroke="#2f2f2f" stroke-width="0.1" textLength="29.30" lengthAdjust="spacingAndGlyphs" >Gln (mM)</text>
<text x="6.70" y="463.60" font-size="11.0" text-anchor="start" font-weight="bold" fill="#2f2f2f" stroke="#2f2f2f" stroke-width="0.1" style="stroke-width:0.3px">I</text>
<line x1="34.50" y1="471.00" x2="34.50" y2="543.60" stroke="#231f20" stroke-width="1.2" />
<line x1="34.00" y1="543.10" x2="106.00" y2="543.10" stroke="#231f20" stroke-width="1.2" />
<line x1="31.70" y1="543.10" x2="34.50" y2="543.10" stroke="#231f20" stroke-width="0.9" />
<text x="28.90" y="545.37" font-size="6.3" text-anchor="end" fill="#2f2f2f" stroke="#2f2f2f" stroke-width="0.1" >0</text>
<line x1="31.70" y1="528.90" x2="34.50" y2="528.90" stroke="#231f20" stroke-width="0.9" />
<text x="28.90" y="531.17" font-size="6.3" text-anchor="end" fill="#2f2f2f" stroke="#2f2f2f" stroke-width="0.1" >10</text>
<line x1="31.70" y1="514.70" x2="34.50" y2="514.70" stroke="#231f20" stroke-width="0.9" />
<text x="28.90" y="516.97" font-size="6.3" text-anchor="end" fill="#2f2f2f" stroke="#2f2f2f" stroke-width="0.1" >20</text>
<line x1="31.70" y1="500.50" x2="34.50" y2="500.50" stroke="#231f20" stroke-width="0.9" />
<text x="28.90" y="502.77" font-size="6.3" text-anchor="end" fill="#2f2f2f" stroke="#2f2f2f" stroke-width="0.1" >30</text>
<line x1="31.70" y1="486.30" x2="34.50" y2="486.30" stroke="#231f20" stroke-width="0.9" />
<text x="28.90" y="488.57" font-size="6.3" text-anchor="end" fill="#2f2f2f" stroke="#2f2f2f" stroke-width="0.1" >40</text>
<line x1="31.70" y1="472.10" x2="34.50" y2="472.10" stroke="#231f20" stroke-width="0.9" />
<text x="28.90" y="474.37" font-size="6.3" text-anchor="end" fill="#2f2f2f" stroke="#2f2f2f" stroke-width="0.1" >50</text>
<line x1="41.70" y1="543.10" x2="41.70" y2="545.30" stroke="#231f20" stroke-width="0.9" />
<line x1="50.10" y1="543.10" x2="50.10" y2="545.30" stroke="#231f20" stroke-width="0.9" />
<line x1="58.50" y1="543.10" x2="58.50" y2="545.30" stroke="#231f20" stroke-width="0.9" />
<line x1="66.90" y1="543.10" x2="66.90" y2="545.30" stroke="#231f20" stroke-width="0.9" />
<line x1="75.30" y1="543.10" x2="75.30" y2="545.30" stroke="#231f20" stroke-width="0.9" />
<line x1="83.70" y1="543.10" x2="83.70" y2="545.30" stroke="#231f20" stroke-width="0.9" />
<line x1="92.10" y1="543.10" x2="92.10" y2="545.30" stroke="#231f20" stroke-width="0.9" />
<line x1="100.50" y1="543.10" x2="100.50" y2="545.30" stroke="#231f20" stroke-width="0.9" />
<polyline points="41.70,543.10 50.10,543.10 58.50,543.10 66.90,543.10 75.30,543.10 83.70,543.10 92.10,543.10 100.50,543.10" fill="none" stroke="#e6083d" stroke-width="1.0" stroke-linejoin="round" stroke-dasharray="1.4,1.2"/>
<circle cx="41.70" cy="543.10" r="1.2" fill="#e6083d"/>
<circle cx="50.10" cy="543.10" r="1.2" fill="#e6083d"/>
<circle cx="58.50" cy="543.10" r="1.2" fill="#e6083d"/>
<circle cx="66.90" cy="543.10" r="1.2" fill="#e6083d"/>
<circle cx="75.30" cy="543.10" r="1.2" fill="#e6083d"/>
<circle cx="83.70" cy="543.10" r="1.2" fill="#e6083d"/>
<circle cx="92.10" cy="543.10" r="1.2" fill="#e6083d"/>
<circle cx="100.50" cy="543.10" r="1.2" fill="#e6083d"/>
<polyline points="41.70,529.33 50.10,527.62 58.50,525.49 66.90,524.07 75.30,521.52 83.70,521.52 92.10,517.26 100.50,513.56" fill="none" stroke="#166a8e" stroke-width="1.2" stroke-linejoin="round"/>
<line x1="41.70" y1="528.62" x2="41.70" y2="530.04" stroke="#166a8e" stroke-width="0.7" />
<line x1="40.40" y1="528.62" x2="43.00" y2="528.62" stroke="#166a8e" stroke-width="0.7" />
<line x1="40.40" y1="530.04" x2="43.00" y2="530.04" stroke="#166a8e" stroke-width="0.7" />
<line x1="50.10" y1="526.91" x2="50.10" y2="528.33" stroke="#166a8e" stroke-width="0.7" />
<line x1="48.80" y1="526.91" x2="51.40" y2="526.91" stroke="#166a8e" stroke-width="0.7" />
<line x1="48.80" y1="528.33" x2="51.40" y2="528.33" stroke="#166a8e" stroke-width="0.7" />
<line x1="58.50" y1="524.78" x2="58.50" y2="526.20" stroke="#166a8e" stroke-width="0.7" />
<line x1="57.20" y1="524.78" x2="59.80" y2="524.78" stroke="#166a8e" stroke-width="0.7" />
<line x1="57.20" y1="526.20" x2="59.80" y2="526.20" stroke="#166a8e" stroke-width="0.7" />
<line x1="66.90" y1="522.65" x2="66.90" y2="525.49" stroke="#166a8e" stroke-width="0.7" />
<line x1="65.60" y1="522.65" x2="68.20" y2="522.65" stroke="#166a8e" stroke-width="0.7" />
<line x1="65.60" y1="525.49" x2="68.20" y2="525.49" stroke="#166a8e" stroke-width="0.7" />
<line x1="75.30" y1="519.39" x2="75.30" y2="523.65" stroke="#166a8e" stroke-width="0.7" />
<line x1="74.00" y1="519.39" x2="76.60" y2="519.39" stroke="#166a8e" stroke-width="0.7" />
<line x1="74.00" y1="523.65" x2="76.60" y2="523.65" stroke="#166a8e" stroke-width="0.7" />
<line x1="83.70" y1="520.10" x2="83.70" y2="522.94" stroke="#166a8e" stroke-width="0.7" />
<line x1="82.40" y1="520.10" x2="85.00" y2="520.10" stroke="#166a8e" stroke-width="0.7" />
<line x1="82.40" y1="522.94" x2="85.00" y2="522.94" stroke="#166a8e" stroke-width="0.7" />
<line x1="92.10" y1="514.42" x2="92.10" y2="520.10" stroke="#166a8e" stroke-width="0.7" />
<line x1="90.80" y1="514.42" x2="93.40" y2="514.42" stroke="#166a8e" stroke-width="0.7" />
<line x1="90.80" y1="520.10" x2="93.40" y2="520.10" stroke="#166a8e" stroke-width="0.7" />
<line x1="100.50" y1="510.72" x2="100.50" y2="516.40" stroke="#166a8e" stroke-width="0.7" />
<line x1="99.20" y1="510.72" x2="101.80" y2="510.72" stroke="#166a8e" stroke-width="0.7" />
<line x1="99.20" y1="516.40" x2="101.80" y2="516.40" stroke="#166a8e" stroke-width="0.7" />
<circle cx="41.70" cy="529.33" r="1.4" fill="#166a8e"/>
<circle cx="50.10" cy="527.62" r="1.4" fill="#166a8e"/>
<circle cx="58.50" cy="525.49" r="1.4" fill="#166a8e"/>
<circle cx="66.90" cy="524.07" r="1.4" fill="#166a8e"/>
<circle cx="75.30" cy="521.52" r="1.4" fill="#166a8e"/>
<circle cx="83.70" cy="521.52" r="1.4" fill="#166a8e"/>
<circle cx="92.10" cy="517.26" r="1.4" fill="#166a8e"/>
<circle cx="100.50" cy="513.56" r="1.4" fill="#166a8e"/>
<polyline points="41.70,519.39 50.10,517.26 58.50,514.56 66.90,508.74 75.30,505.47 83.70,500.78 92.10,497.66 100.50,489.85" fill="none" stroke="#e6083d" stroke-width="1.2" stroke-linejoin="round"/>
<line x1="41.70" y1="517.26" x2="41.70" y2="521.52" stroke="#e6083d" stroke-width="0.7" />
<line x1="40.40" y1="517.26" x2="43.00" y2="517.26" stroke="#e6083d" stroke-width="0.7" />
<line x1="40.40" y1="521.52" x2="43.00" y2="521.52" stroke="#e6083d" stroke-width="0.7" />
<line x1="50.10" y1="514.42" x2="50.10" y2="520.10" stroke="#e6083d" stroke-width="0.7" />
<line x1="48.80" y1="514.42" x2="51.40" y2="514.42" stroke="#e6083d" stroke-width="0.7" />
<line x1="48.80" y1="520.10" x2="51.40" y2="520.10" stroke="#e6083d" stroke-width="0.7" />
<line x1="58.50" y1="512.43" x2="58.50" y2="516.69" stroke="#e6083d" stroke-width="0.7" />
<line x1="57.20" y1="512.43" x2="59.80" y2="512.43" stroke="#e6083d" stroke-width="0.7" />
<line x1="57.20" y1="516.69" x2="59.80" y2="516.69" stroke="#e6083d" stroke-width="0.7" />
<line x1="66.90" y1="506.61" x2="66.90" y2="510.87" stroke="#e6083d" stroke-width="0.7" />
<line x1="65.60" y1="506.61" x2="68.20" y2="506.61" stroke="#e6083d" stroke-width="0.7" />
<line x1="65.60" y1="510.87" x2="68.20" y2="510.87" stroke="#e6083d" stroke-width="0.7" />
<line x1="75.30" y1="501.21" x2="75.30" y2="509.73" stroke="#e6083d" stroke-width="0.7" />
<line x1="74.00" y1="501.21" x2="76.60" y2="501.21" stroke="#e6083d" stroke-width="0.7" />
<line x1="74.00" y1="509.73" x2="76.60" y2="509.73" stroke="#e6083d" stroke-width="0.7" />
<line x1="83.70" y1="495.81" x2="83.70" y2="505.75" stroke="#e6083d" stroke-width="0.7" />
<line x1="82.40" y1="495.81" x2="85.00" y2="495.81" stroke="#e6083d" stroke-width="0.7" />
<line x1="82.40" y1="505.75" x2="85.00" y2="505.75" stroke="#e6083d" stroke-width="0.7" />
<line x1="92.10" y1="491.27" x2="92.10" y2="504.05" stroke="#e6083d" stroke-width="0.7" />
<line x1="90.80" y1="491.27" x2="93.40" y2="491.27" stroke="#e6083d" stroke-width="0.7" />
<line x1="90.80" y1="504.05" x2="93.40" y2="504.05" stroke="#e6083d" stroke-width="0.7" />
<line x1="100.50" y1="486.30" x2="100.50" y2="493.40" stroke="#e6083d" stroke-width="0.7" />
<line x1="99.20" y1="486.30" x2="101.80" y2="486.30" stroke="#e6083d" stroke-width="0.7" />
<line x1="99.20" y1="493.40" x2="101.80" y2="493.40" stroke="#e6083d" stroke-width="0.7" />
<circle cx="41.70" cy="519.39" r="1.4" fill="#e6083d"/>
<circle cx="50.10" cy="517.26" r="1.4" fill="#e6083d"/>
<circle cx="58.50" cy="514.56" r="1.4" fill="#e6083d"/>
<circle cx="66.90" cy="508.74" r="1.4" fill="#e6083d"/>
<circle cx="75.30" cy="505.47" r="1.4" fill="#e6083d"/>
<circle cx="83.70" cy="500.78" r="1.4" fill="#e6083d"/>
<circle cx="92.10" cy="497.66" r="1.4" fill="#e6083d"/>
<circle cx="100.50" cy="489.85" r="1.4" fill="#e6083d"/>
<text x="66.90" y="506.42" font-size="6.9" text-anchor="middle" fill="#2f2f2f" stroke="#2f2f2f" stroke-width="0.1" >*</text>
<text x="75.30" y="498.32" font-size="6.9" text-anchor="middle" fill="#2f2f2f" stroke="#2f2f2f" stroke-width="0.1" >*</text>
<text x="83.70" y="491.52" font-size="6.9" text-anchor="middle" fill="#2f2f2f" stroke="#2f2f2f" stroke-width="0.1" >**</text>
<text x="92.10" y="486.32" font-size="6.9" text-anchor="middle" fill="#2f2f2f" stroke="#2f2f2f" stroke-width="0.1" >**</text>
<text x="100.50" y="480.52" font-size="6.9" text-anchor="middle" fill="#2f2f2f" stroke="#2f2f2f" stroke-width="0.1" >***</text>
<text x="17.79" y="506.00" font-size="7.2" text-anchor="middle" fill="#2f2f2f" stroke="#2f2f2f" stroke-width="0.1" textLength="74.00" lengthAdjust="spacingAndGlyphs" transform="rotate(-90 17.79 506.00)" >Proliferation (cpm x 10<tspan baseline-shift="2.2" font-size="62%">3</tspan>)</text>
<text x="44.60" y="553.60" font-size="6.5" text-anchor="end" fill="#2f2f2f" stroke="#2f2f2f" stroke-width="0.1" transform="rotate(-45 44.60 553.60)" >0</text>
<text x="53.00" y="553.60" font-size="6.5" text-anchor="end" fill="#2f2f2f" stroke="#2f2f2f" stroke-width="0.1" transform="rotate(-45 53.00 553.60)" >0.03</text>
<text x="61.40" y="553.60" font-size="6.5" text-anchor="end" fill="#2f2f2f" stroke="#2f2f2f" stroke-width="0.1" transform="rotate(-45 61.40 553.60)" >0.06</text>
<text x="69.80" y="553.60" font-size="6.5" text-anchor="end" fill="#2f2f2f" stroke="#2f2f2f" stroke-width="0.1" transform="rotate(-45 69.80 553.60)" >0.125</text>
<text x="78.20" y="553.60" font-size="6.5" text-anchor="end" fill="#2f2f2f" stroke="#2f2f2f" stroke-width="0.1" transform="rotate(-45 78.20 553.60)" >0.25</text>
<text x="86.60" y="553.60" font-size="6.5" text-anchor="end" fill="#2f2f2f" stroke="#2f2f2f" stroke-width="0.1" transform="rotate(-45 86.60 553.60)" >0.5</text>
<text x="95.00" y="553.60" font-size="6.5" text-anchor="end" fill="#2f2f2f" stroke="#2f2f2f" stroke-width="0.1" transform="rotate(-45 95.00 553.60)" >1</text>
<text x="103.40" y="553.60" font-size="6.5" text-anchor="end" fill="#2f2f2f" stroke="#2f2f2f" stroke-width="0.1" transform="rotate(-45 103.40 553.60)" >2</text>
<text x="56.70" y="576.70" font-size="8.4" text-anchor="start" fill="#2f2f2f" stroke="#2f2f2f" stroke-width="0.1" textLength="28.90" lengthAdjust="spacingAndGlyphs" >Gln (mM)</text>
<line x1="138.10" y1="511.00" x2="138.10" y2="546.30" stroke="#231f20" stroke-width="1.1" />
<line x1="138.10" y1="473.00" x2="138.10" y2="508.60" stroke="#231f20" stroke-width="1.1" />
<line x1="137.60" y1="545.80" x2="208.70" y2="545.80" stroke="#231f20" stroke-width="1.2" />
<line x1="143.90" y1="545.80" x2="143.90" y2="548.00" stroke="#231f20" stroke-width="0.9" />
<line x1="152.49" y1="545.80" x2="152.49" y2="548.00" stroke="#231f20" stroke-width="0.9" />
<line x1="161.08" y1="545.80" x2="161.08" y2="548.00" stroke="#231f20" stroke-width="0.9" />
<line x1="169.67" y1="545.80" x2="169.67" y2="548.00" stroke="#231f20" stroke-width="0.9" />
<line x1="178.26" y1="545.80" x2="178.26" y2="548.00" stroke="#231f20" stroke-width="0.9" />
<line x1="186.85" y1="545.80" x2="186.85" y2="548.00" stroke="#231f20" stroke-width="0.9" />
<line x1="195.44" y1="545.80" x2="195.44" y2="548.00" stroke="#231f20" stroke-width="0.9" />
<line x1="204.03" y1="545.80" x2="204.03" y2="548.00" stroke="#231f20" stroke-width="0.9" />
<line x1="135.70" y1="545.80" x2="138.10" y2="545.80" stroke="#231f20" stroke-width="0.9" />
<text x="134.30" y="547.90" font-size="5.8" text-anchor="end" fill="#2f2f2f" stroke="#2f2f2f" stroke-width="0.1" >0</text>
<line x1="135.70" y1="534.80" x2="138.10" y2="534.80" stroke="#231f20" stroke-width="0.9" />
<text x="134.30" y="536.90" font-size="5.8" text-anchor="end" fill="#2f2f2f" stroke="#2f2f2f" stroke-width="0.1" >2</text>
<line x1="135.70" y1="523.80" x2="138.10" y2="523.80" stroke="#231f20" stroke-width="0.9" />
<text x="134.30" y="525.90" font-size="5.8" text-anchor="end" fill="#2f2f2f" stroke="#2f2f2f" stroke-width="0.1" >4</text>
<line x1="135.70" y1="512.80" x2="138.10" y2="512.80" stroke="#231f20" stroke-width="0.9" />
<text x="134.30" y="514.90" font-size="5.8" text-anchor="end" fill="#2f2f2f" stroke="#2f2f2f" stroke-width="0.1" >6</text>
<line x1="135.70" y1="507.10" x2="138.10" y2="507.10" stroke="#231f20" stroke-width="0.9" />
<text x="134.30" y="509.20" font-size="5.8" text-anchor="end" fill="#2f2f2f" stroke="#2f2f2f" stroke-width="0.1" >8</text>
<line x1="135.70" y1="499.02" x2="138.10" y2="499.02" stroke="#231f20" stroke-width="0.9" />
<text x="134.30" y="501.12" font-size="5.8" text-anchor="end" fill="#2f2f2f" stroke="#2f2f2f" stroke-width="0.1" >9</text>
<line x1="135.70" y1="490.94" x2="138.10" y2="490.94" stroke="#231f20" stroke-width="0.9" />
<text x="134.30" y="493.04" font-size="5.8" text-anchor="end" fill="#2f2f2f" stroke="#2f2f2f" stroke-width="0.1" >10</text>
<line x1="135.70" y1="482.86" x2="138.10" y2="482.86" stroke="#231f20" stroke-width="0.9" />
<text x="134.30" y="484.96" font-size="5.8" text-anchor="end" fill="#2f2f2f" stroke="#2f2f2f" stroke-width="0.1" >11</text>
<line x1="135.70" y1="474.78" x2="138.10" y2="474.78" stroke="#231f20" stroke-width="0.9" />
<text x="134.30" y="476.88" font-size="5.8" text-anchor="end" fill="#2f2f2f" stroke="#2f2f2f" stroke-width="0.1" >12</text>
<polyline points="143.90,545.80 152.49,545.80 161.08,545.80 169.67,542.50 178.26,545.80 186.85,545.80 195.44,539.20 204.03,545.80" fill="none" stroke="#166a8e" stroke-width="1.0" stroke-linejoin="round" stroke-dasharray="1.4,1.2"/>
<circle cx="143.90" cy="545.80" r="1.1" fill="#166a8e"/>
<circle cx="152.49" cy="545.80" r="1.1" fill="#166a8e"/>
<circle cx="161.08" cy="545.80" r="1.1" fill="#166a8e"/>
<circle cx="169.67" cy="542.50" r="1.1" fill="#166a8e"/>
<circle cx="178.26" cy="545.80" r="1.1" fill="#166a8e"/>
<circle cx="186.85" cy="545.80" r="1.1" fill="#166a8e"/>
<circle cx="195.44" cy="539.20" r="1.1" fill="#166a8e"/>
<circle cx="204.03" cy="545.80" r="1.1" fill="#166a8e"/>
<polyline points="143.90,545.80 152.49,545.80 161.08,545.80 169.67,545.80 178.26,545.80 186.85,545.80 195.44,538.65 204.03,543.05" fill="none" stroke="#e6083d" stroke-width="1.0" stroke-linejoin="round" stroke-dasharray="1.4,1.2"/>
<circle cx="143.90" cy="545.80" r="1.2" fill="#e6083d"/>
<circle cx="152.49" cy="545.80" r="1.2" fill="#e6083d"/>
<circle cx="161.08" cy="545.80" r="1.2" fill="#e6083d"/>
<circle cx="169.67" cy="545.80" r="1.2" fill="#e6083d"/>
<circle cx="178.26" cy="545.80" r="1.2" fill="#e6083d"/>
<circle cx="186.85" cy="545.80" r="1.2" fill="#e6083d"/>
<circle cx="195.44" cy="538.65" r="1.2" fill="#e6083d"/>
<circle cx="204.03" cy="543.05" r="1.2" fill="#e6083d"/>
<polyline points="143.90,545.80 152.49,545.80 161.08,545.80 169.67,532.60 178.26,534.25 186.85,530.40 195.44,532.05 204.03,525.45" fill="none" stroke="#166a8e" stroke-width="1.25" stroke-linejoin="round"/>
<circle cx="143.90" cy="545.80" r="1.35" fill="#166a8e"/>
<circle cx="152.49" cy="545.80" r="1.35" fill="#166a8e"/>
<circle cx="161.08" cy="545.80" r="1.35" fill="#166a8e"/>
<line x1="169.67" y1="529.30" x2="169.67" y2="535.90" stroke="#166a8e" stroke-width="0.7" />
<line x1="168.37" y1="529.30" x2="170.97" y2="529.30" stroke="#166a8e" stroke-width="0.7" />
<line x1="168.37" y1="535.90" x2="170.97" y2="535.90" stroke="#166a8e" stroke-width="0.7" />
<circle cx="169.67" cy="532.60" r="1.35" fill="#166a8e"/>
<line x1="178.26" y1="533.15" x2="178.26" y2="535.35" stroke="#166a8e" stroke-width="0.7" />
<line x1="176.96" y1="533.15" x2="179.56" y2="533.15" stroke="#166a8e" stroke-width="0.7" />
<line x1="176.96" y1="535.35" x2="179.56" y2="535.35" stroke="#166a8e" stroke-width="0.7" />
<circle cx="178.26" cy="534.25" r="1.35" fill="#166a8e"/>
<line x1="186.85" y1="527.65" x2="186.85" y2="533.15" stroke="#166a8e" stroke-width="0.7" />
<line x1="185.55" y1="527.65" x2="188.15" y2="527.65" stroke="#166a8e" stroke-width="0.7" />
<line x1="185.55" y1="533.15" x2="188.15" y2="533.15" stroke="#166a8e" stroke-width="0.7" />
<circle cx="186.85" cy="530.40" r="1.35" fill="#166a8e"/>
<line x1="195.44" y1="529.30" x2="195.44" y2="534.80" stroke="#166a8e" stroke-width="0.7" />
<line x1="194.14" y1="529.30" x2="196.74" y2="529.30" stroke="#166a8e" stroke-width="0.7" />
<line x1="194.14" y1="534.80" x2="196.74" y2="534.80" stroke="#166a8e" stroke-width="0.7" />
<circle cx="195.44" cy="532.05" r="1.35" fill="#166a8e"/>
<line x1="204.03" y1="519.95" x2="204.03" y2="530.95" stroke="#166a8e" stroke-width="0.7" />
<line x1="202.73" y1="519.95" x2="205.33" y2="519.95" stroke="#166a8e" stroke-width="0.7" />
<line x1="202.73" y1="530.95" x2="205.33" y2="530.95" stroke="#166a8e" stroke-width="0.7" />
<circle cx="204.03" cy="525.45" r="1.35" fill="#166a8e"/>
<polyline points="143.90,533.15 152.49,540.30 161.08,531.50 169.67,523.25 178.26,519.95 186.85,524.90 195.44,525.45 197.04,509.80" fill="none" stroke="#e6083d" stroke-width="1.25" stroke-linejoin="round"/>
<polyline points="198.04,504.00 204.03,489.32" fill="none" stroke="#e6083d" stroke-width="1.25" stroke-linejoin="round"/>
<line x1="143.90" y1="530.40" x2="143.90" y2="535.90" stroke="#e6083d" stroke-width="0.7" />
<line x1="142.60" y1="530.40" x2="145.20" y2="530.40" stroke="#e6083d" stroke-width="0.7" />
<line x1="142.60" y1="535.90" x2="145.20" y2="535.90" stroke="#e6083d" stroke-width="0.7" />
<circle cx="143.90" cy="533.15" r="1.35" fill="#e6083d"/>
<line x1="152.49" y1="539.20" x2="152.49" y2="541.40" stroke="#e6083d" stroke-width="0.7" />
<line x1="151.19" y1="539.20" x2="153.79" y2="539.20" stroke="#e6083d" stroke-width="0.7" />
<line x1="151.19" y1="541.40" x2="153.79" y2="541.40" stroke="#e6083d" stroke-width="0.7" />
<circle cx="152.49" cy="540.30" r="1.35" fill="#e6083d"/>
<line x1="161.08" y1="530.40" x2="161.08" y2="532.60" stroke="#e6083d" stroke-width="0.7" />
<line x1="159.78" y1="530.40" x2="162.38" y2="530.40" stroke="#e6083d" stroke-width="0.7" />
<line x1="159.78" y1="532.60" x2="162.38" y2="532.60" stroke="#e6083d" stroke-width="0.7" />
<circle cx="161.08" cy="531.50" r="1.35" fill="#e6083d"/>
<line x1="169.67" y1="515.00" x2="169.67" y2="531.50" stroke="#e6083d" stroke-width="0.7" />
<line x1="168.37" y1="515.00" x2="170.97" y2="515.00" stroke="#e6083d" stroke-width="0.7" />
<line x1="168.37" y1="531.50" x2="170.97" y2="531.50" stroke="#e6083d" stroke-width="0.7" />
<circle cx="169.67" cy="523.25" r="1.35" fill="#e6083d"/>
<line x1="178.26" y1="518.85" x2="178.26" y2="521.05" stroke="#e6083d" stroke-width="0.7" />
<line x1="176.96" y1="518.85" x2="179.56" y2="518.85" stroke="#e6083d" stroke-width="0.7" />
<line x1="176.96" y1="521.05" x2="179.56" y2="521.05" stroke="#e6083d" stroke-width="0.7" />
<circle cx="178.26" cy="519.95" r="1.35" fill="#e6083d"/>
<line x1="186.85" y1="521.60" x2="186.85" y2="528.20" stroke="#e6083d" stroke-width="0.7" />
<line x1="185.55" y1="521.60" x2="188.15" y2="521.60" stroke="#e6083d" stroke-width="0.7" />
<line x1="185.55" y1="528.20" x2="188.15" y2="528.20" stroke="#e6083d" stroke-width="0.7" />
<circle cx="186.85" cy="524.90" r="1.35" fill="#e6083d"/>
<line x1="195.44" y1="522.15" x2="195.44" y2="528.75" stroke="#e6083d" stroke-width="0.7" />
<line x1="194.14" y1="522.15" x2="196.74" y2="522.15" stroke="#e6083d" stroke-width="0.7" />
<line x1="194.14" y1="528.75" x2="196.74" y2="528.75" stroke="#e6083d" stroke-width="0.7" />
<circle cx="195.44" cy="525.45" r="1.35" fill="#e6083d"/>
<line x1="204.03" y1="482.86" x2="204.03" y2="495.79" stroke="#e6083d" stroke-width="0.7" />
<line x1="202.73" y1="482.86" x2="205.33" y2="482.86" stroke="#e6083d" stroke-width="0.7" />
<circle cx="204.03" cy="489.32" r="1.35" fill="#e6083d"/>
<text x="206.03" y="482.12" font-size="6.9" text-anchor="middle" fill="#2f2f2f" stroke="#2f2f2f" stroke-width="0.1" >****</text>
<text x="121.09" y="507.40" font-size="7.2" text-anchor="middle" fill="#2f2f2f" stroke="#2f2f2f" stroke-width="0.1" textLength="41.00" lengthAdjust="spacingAndGlyphs" transform="rotate(-90 121.09 507.40)" >IFN-γ (ng/mL)</text>
<text x="146.80" y="556.20" font-size="6.5" text-anchor="end" fill="#2f2f2f" stroke="#2f2f2f" stroke-width="0.1" transform="rotate(-45 146.80 556.20)" >0</text>
<text x="155.39" y="556.20" font-size="6.5" text-anchor="end" fill="#2f2f2f" stroke="#2f2f2f" stroke-width="0.1" transform="rotate(-45 155.39 556.20)" >0.03</text>
<text x="163.98" y="556.20" font-size="6.5" text-anchor="end" fill="#2f2f2f" stroke="#2f2f2f" stroke-width="0.1" transform="rotate(-45 163.98 556.20)" >0.06</text>
<text x="172.57" y="556.20" font-size="6.5" text-anchor="end" fill="#2f2f2f" stroke="#2f2f2f" stroke-width="0.1" transform="rotate(-45 172.57 556.20)" >0.125</text>
<text x="181.16" y="556.20" font-size="6.5" text-anchor="end" fill="#2f2f2f" stroke="#2f2f2f" stroke-width="0.1" transform="rotate(-45 181.16 556.20)" >0.25</text>
<text x="189.75" y="556.20" font-size="6.5" text-anchor="end" fill="#2f2f2f" stroke="#2f2f2f" stroke-width="0.1" transform="rotate(-45 189.75 556.20)" >0.5</text>
<text x="198.34" y="556.20" font-size="6.5" text-anchor="end" fill="#2f2f2f" stroke="#2f2f2f" stroke-width="0.1" transform="rotate(-45 198.34 556.20)" >1</text>
<text x="206.93" y="556.20" font-size="6.5" text-anchor="end" fill="#2f2f2f" stroke="#2f2f2f" stroke-width="0.1" transform="rotate(-45 206.93 556.20)" >2</text>
<text x="159.50" y="579.70" font-size="8.4" text-anchor="start" fill="#2f2f2f" stroke="#2f2f2f" stroke-width="0.1" textLength="29.00" lengthAdjust="spacingAndGlyphs" >Gln (mM)</text>
<line x1="217.00" y1="516.30" x2="224.60" y2="516.30" stroke="#e6083d" stroke-width="1.1" />
<circle cx="220.80" cy="516.30" r="1.2" fill="#e6083d"/>
<text x="227.90" y="518.71" font-size="6.7" text-anchor="start" fill="#2f2f2f" stroke="#2f2f2f" stroke-width="0.1" textLength="52.90" lengthAdjust="spacingAndGlyphs" ><tspan font-style="italic">Asct2</tspan> CD4<tspan baseline-shift="2.9" font-size="62%">+</tspan> + ISQ</text>
<line x1="217.00" y1="524.00" x2="224.60" y2="524.00" stroke="#166a8e" stroke-width="1.1" />
<circle cx="220.80" cy="524.00" r="1.2" fill="#166a8e"/>
<text x="227.90" y="526.41" font-size="6.7" text-anchor="start" fill="#2f2f2f" stroke="#2f2f2f" stroke-width="0.1" textLength="34.60" lengthAdjust="spacingAndGlyphs" >CD4<tspan baseline-shift="2.9" font-size="62%">+</tspan> + ISQ</text>
<line x1="217.00" y1="531.70" x2="224.60" y2="531.70" stroke="#e6083d" stroke-width="1.1" stroke-dasharray="1.5,1.2" />
<circle cx="220.80" cy="531.70" r="1.2" fill="#e6083d"/>
<text x="227.90" y="534.11" font-size="6.7" text-anchor="start" fill="#2f2f2f" stroke="#2f2f2f" stroke-width="0.1" textLength="56.70" lengthAdjust="spacingAndGlyphs" ><tspan font-style="italic">Asct2</tspan> CD4<tspan baseline-shift="2.9" font-size="62%">+</tspan> unstim.</text>
<line x1="217.00" y1="540.00" x2="224.60" y2="540.00" stroke="#166a8e" stroke-width="1.1" stroke-dasharray="1.5,1.2" />
<circle cx="220.80" cy="540.00" r="1.2" fill="#166a8e"/>
<text x="227.90" y="542.41" font-size="6.7" text-anchor="start" fill="#2f2f2f" stroke="#2f2f2f" stroke-width="0.1" textLength="38.40" lengthAdjust="spacingAndGlyphs" >CD4<tspan baseline-shift="2.9" font-size="62%">+</tspan> unstim.</text>
<text x="302.90" y="463.60" font-size="11.0" text-anchor="start" font-weight="bold" fill="#2f2f2f" stroke="#2f2f2f" stroke-width="0.1" style="stroke-width:0.3px">J</text>
<line x1="331.80" y1="486.00" x2="331.80" y2="555.50" stroke="#231f20" stroke-width="1.2" />
<line x1="331.30" y1="555.00" x2="399.20" y2="555.00" stroke="#231f20" stroke-width="1.2" />
<line x1="329.00" y1="555.00" x2="331.80" y2="555.00" stroke="#231f20" stroke-width="0.9" />
<text x="326.20" y="557.27" font-size="6.3" text-anchor="end" fill="#2f2f2f" stroke="#2f2f2f" stroke-width="0.1" >0</text>
<line x1="329.00" y1="541.48" x2="331.80" y2="541.48" stroke="#231f20" stroke-width="0.9" />
<text x="326.20" y="543.75" font-size="6.3" text-anchor="end" fill="#2f2f2f" stroke="#2f2f2f" stroke-width="0.1" >20</text>
<line x1="329.00" y1="527.96" x2="331.80" y2="527.96" stroke="#231f20" stroke-width="0.9" />
<text x="326.20" y="530.23" font-size="6.3" text-anchor="end" fill="#2f2f2f" stroke="#2f2f2f" stroke-width="0.1" >40</text>
<line x1="329.00" y1="514.44" x2="331.80" y2="514.44" stroke="#231f20" stroke-width="0.9" />
<text x="326.20" y="516.71" font-size="6.3" text-anchor="end" fill="#2f2f2f" stroke="#2f2f2f" stroke-width="0.1" >60</text>
<line x1="329.00" y1="500.92" x2="331.80" y2="500.92" stroke="#231f20" stroke-width="0.9" />
<text x="326.20" y="503.19" font-size="6.3" text-anchor="end" fill="#2f2f2f" stroke="#2f2f2f" stroke-width="0.1" >80</text>
<line x1="329.00" y1="487.40" x2="331.80" y2="487.40" stroke="#231f20" stroke-width="0.9" />
<text x="326.20" y="489.67" font-size="6.3" text-anchor="end" fill="#2f2f2f" stroke="#2f2f2f" stroke-width="0.1" >100</text>
<line x1="345.70" y1="555.00" x2="345.70" y2="557.20" stroke="#231f20" stroke-width="0.9" />
<line x1="365.80" y1="555.00" x2="365.80" y2="557.20" stroke="#231f20" stroke-width="0.9" />
<line x1="385.40" y1="555.00" x2="385.40" y2="557.20" stroke="#231f20" stroke-width="0.9" />
<polyline points="345.70,555.00 365.80,545.06 385.40,536.95" fill="none" stroke="#166a8e" stroke-width="1.15" stroke-linejoin="round"/>
<line x1="365.80" y1="541.68" x2="365.80" y2="548.44" stroke="#166a8e" stroke-width="0.7" />
<line x1="364.50" y1="541.68" x2="367.10" y2="541.68" stroke="#166a8e" stroke-width="0.7" />
<line x1="364.50" y1="548.44" x2="367.10" y2="548.44" stroke="#166a8e" stroke-width="0.7" />
<line x1="385.40" y1="532.89" x2="385.40" y2="541.01" stroke="#166a8e" stroke-width="0.7" />
<line x1="384.10" y1="532.89" x2="386.70" y2="532.89" stroke="#166a8e" stroke-width="0.7" />
<line x1="384.10" y1="541.01" x2="386.70" y2="541.01" stroke="#166a8e" stroke-width="0.7" />
<circle cx="345.70" cy="555.00" r="1.2" fill="#166a8e"/>
<circle cx="365.80" cy="545.06" r="1.2" fill="#166a8e"/>
<circle cx="385.40" cy="536.95" r="1.2" fill="#166a8e"/>
<polyline points="345.70,546.89 365.80,534.18 385.40,528.84" fill="none" stroke="#e6083d" stroke-width="1.15" stroke-linejoin="round"/>
<line x1="345.70" y1="545.20" x2="345.70" y2="548.58" stroke="#e6083d" stroke-width="0.7" />
<line x1="344.40" y1="545.20" x2="347.00" y2="545.20" stroke="#e6083d" stroke-width="0.7" />
<line x1="344.40" y1="548.58" x2="347.00" y2="548.58" stroke="#e6083d" stroke-width="0.7" />
<line x1="365.80" y1="532.49" x2="365.80" y2="535.87" stroke="#e6083d" stroke-width="0.7" />
<line x1="364.50" y1="532.49" x2="367.10" y2="532.49" stroke="#e6083d" stroke-width="0.7" />
<line x1="364.50" y1="535.87" x2="367.10" y2="535.87" stroke="#e6083d" stroke-width="0.7" />
<line x1="385.40" y1="528.16" x2="385.40" y2="529.51" stroke="#e6083d" stroke-width="0.7" />
<line x1="384.10" y1="528.16" x2="386.70" y2="528.16" stroke="#e6083d" stroke-width="0.7" />
<line x1="384.10" y1="529.51" x2="386.70" y2="529.51" stroke="#e6083d" stroke-width="0.7" />
<circle cx="345.70" cy="546.89" r="1.2" fill="#e6083d"/>
<circle cx="365.80" cy="534.18" r="1.2" fill="#e6083d"/>
<circle cx="385.40" cy="528.84" r="1.2" fill="#e6083d"/>
<text x="365.80" y="530.82" font-size="6.9" text-anchor="middle" fill="#2f2f2f" stroke="#2f2f2f" stroke-width="0.1" >*</text>
<text x="345.70" y="566.50" font-size="6.6" text-anchor="middle" fill="#2f2f2f" stroke="#2f2f2f" stroke-width="0.1" >0</text>
<text x="365.80" y="566.50" font-size="6.6" text-anchor="middle" fill="#2f2f2f" stroke="#2f2f2f" stroke-width="0.1" >0.5</text>
<text x="385.40" y="566.50" font-size="6.6" text-anchor="middle" fill="#2f2f2f" stroke="#2f2f2f" stroke-width="0.1" >2</text>
<line x1="340.40" y1="473.10" x2="348.50" y2="473.10" stroke="#166a8e" stroke-width="1.1" />
<circle cx="344.45" cy="473.10" r="1.2" fill="#166a8e"/>
<text x="350.50" y="475.51" font-size="6.7" text-anchor="start" fill="#2f2f2f" stroke="#2f2f2f" stroke-width="0.1" textLength="31.50" lengthAdjust="spacingAndGlyphs" >CD4<tspan baseline-shift="2.9" font-size="62%">+</tspan> OT-II</text>
<line x1="340.40" y1="481.20" x2="348.50" y2="481.20" stroke="#e6083d" stroke-width="1.1" />
<circle cx="344.45" cy="481.20" r="1.2" fill="#e6083d"/>
<text x="350.50" y="483.61" font-size="6.7" text-anchor="start" fill="#2f2f2f" stroke="#2f2f2f" stroke-width="0.1" textLength="49.20" lengthAdjust="spacingAndGlyphs" ><tspan font-style="italic">Asct2</tspan> CD4<tspan baseline-shift="2.9" font-size="62%">+</tspan> OT-II</text>
<text x="310.02" y="521.00" font-size="8.4" text-anchor="middle" fill="#2f2f2f" stroke="#2f2f2f" stroke-width="0.1" textLength="29.50" lengthAdjust="spacingAndGlyphs" transform="rotate(-90 310.02 521.00)" >% of lysis</text>
<text x="351.20" y="578.80" font-size="8.4" text-anchor="start" fill="#2f2f2f" stroke="#2f2f2f" stroke-width="0.1" textLength="28.40" lengthAdjust="spacingAndGlyphs" >Gln (mM)</text>
<text x="6.90" y="600.00" font-size="11.0" text-anchor="start" font-weight="bold" fill="#2f2f2f" stroke="#2f2f2f" stroke-width="0.1" style="stroke-width:0.3px">K</text>
<line x1="36.10" y1="614.70" x2="36.10" y2="678.70" stroke="#231f20" stroke-width="1.2" />
<line x1="35.60" y1="678.20" x2="100.50" y2="678.20" stroke="#231f20" stroke-width="1.2" />
<line x1="33.30" y1="678.20" x2="36.10" y2="678.20" stroke="#231f20" stroke-width="0.9" />
<text x="30.50" y="680.58" font-size="6.6" text-anchor="end" fill="#2f2f2f" stroke="#2f2f2f" stroke-width="0.1" >0</text>
<line x1="33.30" y1="665.80" x2="36.10" y2="665.80" stroke="#231f20" stroke-width="0.9" />
<text x="30.50" y="668.18" font-size="6.6" text-anchor="end" fill="#2f2f2f" stroke="#2f2f2f" stroke-width="0.1" >100</text>
<line x1="33.30" y1="653.40" x2="36.10" y2="653.40" stroke="#231f20" stroke-width="0.9" />
<text x="30.50" y="655.78" font-size="6.6" text-anchor="end" fill="#2f2f2f" stroke="#2f2f2f" stroke-width="0.1" >200</text>
<line x1="33.30" y1="641.00" x2="36.10" y2="641.00" stroke="#231f20" stroke-width="0.9" />
<text x="30.50" y="643.38" font-size="6.6" text-anchor="end" fill="#2f2f2f" stroke="#2f2f2f" stroke-width="0.1" >300</text>
<line x1="33.30" y1="628.60" x2="36.10" y2="628.60" stroke="#231f20" stroke-width="0.9" />
<text x="30.50" y="630.98" font-size="6.6" text-anchor="end" fill="#2f2f2f" stroke="#2f2f2f" stroke-width="0.1" >400</text>
<line x1="33.30" y1="616.20" x2="36.10" y2="616.20" stroke="#231f20" stroke-width="0.9" />
<text x="30.50" y="618.58" font-size="6.6" text-anchor="end" fill="#2f2f2f" stroke="#2f2f2f" stroke-width="0.1" >500</text>
<line x1="36.10" y1="678.20" x2="36.10" y2="680.40" stroke="#231f20" stroke-width="0.9" />
<text x="36.10" y="689.60" font-size="6.6" text-anchor="middle" fill="#2f2f2f" stroke="#2f2f2f" stroke-width="0.1" >0</text>
<line x1="48.52" y1="678.20" x2="48.52" y2="680.40" stroke="#231f20" stroke-width="0.9" />
<text x="48.52" y="689.60" font-size="6.6" text-anchor="middle" fill="#2f2f2f" stroke="#2f2f2f" stroke-width="0.1" >20</text>
<line x1="60.94" y1="678.20" x2="60.94" y2="680.40" stroke="#231f20" stroke-width="0.9" />
<text x="60.94" y="689.60" font-size="6.6" text-anchor="middle" fill="#2f2f2f" stroke="#2f2f2f" stroke-width="0.1" >40</text>
<line x1="73.36" y1="678.20" x2="73.36" y2="680.40" stroke="#231f20" stroke-width="0.9" />
<text x="73.36" y="689.60" font-size="6.6" text-anchor="middle" fill="#2f2f2f" stroke="#2f2f2f" stroke-width="0.1" >60</text>
<line x1="85.78" y1="678.20" x2="85.78" y2="680.40" stroke="#231f20" stroke-width="0.9" />
<text x="85.78" y="689.60" font-size="6.6" text-anchor="middle" fill="#2f2f2f" stroke="#2f2f2f" stroke-width="0.1" >80</text>
<line x1="98.20" y1="678.20" x2="98.20" y2="680.40" stroke="#231f20" stroke-width="0.9" />
<text x="98.20" y="689.60" font-size="6.6" text-anchor="middle" fill="#2f2f2f" stroke="#2f2f2f" stroke-width="0.1" >100</text>
<polyline points="36.80,668.40 40.80,668.53 45.10,669.15 49.50,676.34 53.80,676.34 57.70,676.34 61.70,663.44 66.00,663.44 70.10,663.44 74.00,677.21 78.30,677.21 82.50,677.21 86.50,677.21 90.50,677.21 94.20,677.21" fill="none" stroke="#166a8e" stroke-width="1.3" stroke-linejoin="round"/>
<line x1="36.80" y1="667.78" x2="36.80" y2="669.02" stroke="#166a8e" stroke-width="0.7" />
<line x1="35.80" y1="667.78" x2="37.80" y2="667.78" stroke="#166a8e" stroke-width="0.7" />
<line x1="35.80" y1="669.02" x2="37.80" y2="669.02" stroke="#166a8e" stroke-width="0.7" />
<line x1="40.80" y1="667.91" x2="40.80" y2="669.15" stroke="#166a8e" stroke-width="0.7" />
<line x1="39.80" y1="667.91" x2="41.80" y2="667.91" stroke="#166a8e" stroke-width="0.7" />
<line x1="39.80" y1="669.15" x2="41.80" y2="669.15" stroke="#166a8e" stroke-width="0.7" />
<line x1="45.10" y1="668.53" x2="45.10" y2="669.77" stroke="#166a8e" stroke-width="0.7" />
<line x1="44.10" y1="668.53" x2="46.10" y2="668.53" stroke="#166a8e" stroke-width="0.7" />
<line x1="44.10" y1="669.77" x2="46.10" y2="669.77" stroke="#166a8e" stroke-width="0.7" />
<line x1="49.50" y1="675.97" x2="49.50" y2="676.71" stroke="#166a8e" stroke-width="0.7" />
<line x1="48.50" y1="675.97" x2="50.50" y2="675.97" stroke="#166a8e" stroke-width="0.7" />
<line x1="48.50" y1="676.71" x2="50.50" y2="676.71" stroke="#166a8e" stroke-width="0.7" />
<line x1="53.80" y1="675.97" x2="53.80" y2="676.71" stroke="#166a8e" stroke-width="0.7" />
<line x1="52.80" y1="675.97" x2="54.80" y2="675.97" stroke="#166a8e" stroke-width="0.7" />
<line x1="52.80" y1="676.71" x2="54.80" y2="676.71" stroke="#166a8e" stroke-width="0.7" />
<line x1="57.70" y1="675.97" x2="57.70" y2="676.71" stroke="#166a8e" stroke-width="0.7" />
<line x1="56.70" y1="675.97" x2="58.70" y2="675.97" stroke="#166a8e" stroke-width="0.7" />
<line x1="56.70" y1="676.71" x2="58.70" y2="676.71" stroke="#166a8e" stroke-width="0.7" />
<line x1="61.70" y1="661.96" x2="61.70" y2="664.93" stroke="#166a8e" stroke-width="0.7" />
<line x1="60.70" y1="661.96" x2="62.70" y2="661.96" stroke="#166a8e" stroke-width="0.7" />
<line x1="60.70" y1="664.93" x2="62.70" y2="664.93" stroke="#166a8e" stroke-width="0.7" />
<line x1="66.00" y1="661.96" x2="66.00" y2="664.93" stroke="#166a8e" stroke-width="0.7" />
<line x1="65.00" y1="661.96" x2="67.00" y2="661.96" stroke="#166a8e" stroke-width="0.7" />
<line x1="65.00" y1="664.93" x2="67.00" y2="664.93" stroke="#166a8e" stroke-width="0.7" />
<line x1="70.10" y1="661.96" x2="70.10" y2="664.93" stroke="#166a8e" stroke-width="0.7" />
<line x1="69.10" y1="661.96" x2="71.10" y2="661.96" stroke="#166a8e" stroke-width="0.7" />
<line x1="69.10" y1="664.93" x2="71.10" y2="664.93" stroke="#166a8e" stroke-width="0.7" />
<line x1="74.00" y1="676.84" x2="74.00" y2="677.58" stroke="#166a8e" stroke-width="0.7" />
<line x1="73.00" y1="676.84" x2="75.00" y2="676.84" stroke="#166a8e" stroke-width="0.7" />
<line x1="73.00" y1="677.58" x2="75.00" y2="677.58" stroke="#166a8e" stroke-width="0.7" />
<line x1="78.30" y1="676.84" x2="78.30" y2="677.58" stroke="#166a8e" stroke-width="0.7" />
<line x1="77.30" y1="676.84" x2="79.30" y2="676.84" stroke="#166a8e" stroke-width="0.7" />
<line x1="77.30" y1="677.58" x2="79.30" y2="677.58" stroke="#166a8e" stroke-width="0.7" />
<line x1="82.50" y1="676.84" x2="82.50" y2="677.58" stroke="#166a8e" stroke-width="0.7" />
<line x1="81.50" y1="676.84" x2="83.50" y2="676.84" stroke="#166a8e" stroke-width="0.7" />
<line x1="81.50" y1="677.58" x2="83.50" y2="677.58" stroke="#166a8e" stroke-width="0.7" />
<line x1="86.50" y1="676.84" x2="86.50" y2="677.58" stroke="#166a8e" stroke-width="0.7" />
<line x1="85.50" y1="676.84" x2="87.50" y2="676.84" stroke="#166a8e" stroke-width="0.7" />
<line x1="85.50" y1="677.58" x2="87.50" y2="677.58" stroke="#166a8e" stroke-width="0.7" />
<line x1="90.50" y1="676.84" x2="90.50" y2="677.58" stroke="#166a8e" stroke-width="0.7" />
<line x1="89.50" y1="676.84" x2="91.50" y2="676.84" stroke="#166a8e" stroke-width="0.7" />
<line x1="89.50" y1="677.58" x2="91.50" y2="677.58" stroke="#166a8e" stroke-width="0.7" />
<line x1="94.20" y1="676.84" x2="94.20" y2="677.58" stroke="#166a8e" stroke-width="0.7" />
<line x1="93.20" y1="676.84" x2="95.20" y2="676.84" stroke="#166a8e" stroke-width="0.7" />
<line x1="93.20" y1="677.58" x2="95.20" y2="677.58" stroke="#166a8e" stroke-width="0.7" />
<circle cx="36.80" cy="668.40" r="1.2" fill="#166a8e"/>
<circle cx="40.80" cy="668.53" r="1.2" fill="#166a8e"/>
<circle cx="45.10" cy="669.15" r="1.2" fill="#166a8e"/>
<circle cx="49.50" cy="676.34" r="1.2" fill="#166a8e"/>
<circle cx="53.80" cy="676.34" r="1.2" fill="#166a8e"/>
<circle cx="57.70" cy="676.34" r="1.2" fill="#166a8e"/>
<circle cx="61.70" cy="663.44" r="1.2" fill="#166a8e"/>
<circle cx="66.00" cy="663.44" r="1.2" fill="#166a8e"/>
<circle cx="70.10" cy="663.44" r="1.2" fill="#166a8e"/>
<circle cx="74.00" cy="677.21" r="1.2" fill="#166a8e"/>
<circle cx="78.30" cy="677.21" r="1.2" fill="#166a8e"/>
<circle cx="82.50" cy="677.21" r="1.2" fill="#166a8e"/>
<circle cx="86.50" cy="677.21" r="1.2" fill="#166a8e"/>
<circle cx="90.50" cy="677.21" r="1.2" fill="#166a8e"/>
<circle cx="94.20" cy="677.21" r="1.2" fill="#166a8e"/>
<polyline points="36.80,664.56 40.80,664.81 45.10,665.43 49.50,673.49 53.80,673.49 57.70,673.49 61.70,638.15 66.00,638.15 70.10,638.15 74.00,676.71 78.30,676.71 82.50,676.71 86.50,676.71 90.50,676.71 94.20,676.71" fill="none" stroke="#e6083d" stroke-width="1.3" stroke-linejoin="round"/>
<line x1="36.80" y1="663.82" x2="36.80" y2="665.30" stroke="#e6083d" stroke-width="0.7" />
<line x1="35.80" y1="663.82" x2="37.80" y2="663.82" stroke="#e6083d" stroke-width="0.7" />
<line x1="35.80" y1="665.30" x2="37.80" y2="665.30" stroke="#e6083d" stroke-width="0.7" />
<line x1="40.80" y1="664.06" x2="40.80" y2="665.55" stroke="#e6083d" stroke-width="0.7" />
<line x1="39.80" y1="664.06" x2="41.80" y2="664.06" stroke="#e6083d" stroke-width="0.7" />
<line x1="39.80" y1="665.55" x2="41.80" y2="665.55" stroke="#e6083d" stroke-width="0.7" />
<line x1="45.10" y1="664.68" x2="45.10" y2="666.17" stroke="#e6083d" stroke-width="0.7" />
<line x1="44.10" y1="664.68" x2="46.10" y2="664.68" stroke="#e6083d" stroke-width="0.7" />
<line x1="44.10" y1="666.17" x2="46.10" y2="666.17" stroke="#e6083d" stroke-width="0.7" />
<line x1="49.50" y1="672.87" x2="49.50" y2="674.11" stroke="#e6083d" stroke-width="0.7" />
<line x1="48.50" y1="672.87" x2="50.50" y2="672.87" stroke="#e6083d" stroke-width="0.7" />
<line x1="48.50" y1="674.11" x2="50.50" y2="674.11" stroke="#e6083d" stroke-width="0.7" />
<line x1="53.80" y1="672.87" x2="53.80" y2="674.11" stroke="#e6083d" stroke-width="0.7" />
<line x1="52.80" y1="672.87" x2="54.80" y2="672.87" stroke="#e6083d" stroke-width="0.7" />
<line x1="52.80" y1="674.11" x2="54.80" y2="674.11" stroke="#e6083d" stroke-width="0.7" />
<line x1="57.70" y1="672.87" x2="57.70" y2="674.11" stroke="#e6083d" stroke-width="0.7" />
<line x1="56.70" y1="672.87" x2="58.70" y2="672.87" stroke="#e6083d" stroke-width="0.7" />
<line x1="56.70" y1="674.11" x2="58.70" y2="674.11" stroke="#e6083d" stroke-width="0.7" />
<line x1="61.70" y1="628.23" x2="61.70" y2="648.07" stroke="#e6083d" stroke-width="0.7" />
<line x1="60.70" y1="628.23" x2="62.70" y2="628.23" stroke="#e6083d" stroke-width="0.7" />
<line x1="60.70" y1="648.07" x2="62.70" y2="648.07" stroke="#e6083d" stroke-width="0.7" />
<line x1="66.00" y1="628.23" x2="66.00" y2="648.07" stroke="#e6083d" stroke-width="0.7" />
<line x1="65.00" y1="628.23" x2="67.00" y2="628.23" stroke="#e6083d" stroke-width="0.7" />
<line x1="65.00" y1="648.07" x2="67.00" y2="648.07" stroke="#e6083d" stroke-width="0.7" />
<line x1="70.10" y1="628.23" x2="70.10" y2="648.07" stroke="#e6083d" stroke-width="0.7" />
<line x1="69.10" y1="628.23" x2="71.10" y2="628.23" stroke="#e6083d" stroke-width="0.7" />
<line x1="69.10" y1="648.07" x2="71.10" y2="648.07" stroke="#e6083d" stroke-width="0.7" />
<line x1="74.00" y1="676.22" x2="74.00" y2="677.21" stroke="#e6083d" stroke-width="0.7" />
<line x1="73.00" y1="676.22" x2="75.00" y2="676.22" stroke="#e6083d" stroke-width="0.7" />
<line x1="73.00" y1="677.21" x2="75.00" y2="677.21" stroke="#e6083d" stroke-width="0.7" />
<line x1="78.30" y1="676.22" x2="78.30" y2="677.21" stroke="#e6083d" stroke-width="0.7" />
<line x1="77.30" y1="676.22" x2="79.30" y2="676.22" stroke="#e6083d" stroke-width="0.7" />
<line x1="77.30" y1="677.21" x2="79.30" y2="677.21" stroke="#e6083d" stroke-width="0.7" />
<line x1="82.50" y1="676.22" x2="82.50" y2="677.21" stroke="#e6083d" stroke-width="0.7" />
<line x1="81.50" y1="676.22" x2="83.50" y2="676.22" stroke="#e6083d" stroke-width="0.7" />
<line x1="81.50" y1="677.21" x2="83.50" y2="677.21" stroke="#e6083d" stroke-width="0.7" />
<line x1="86.50" y1="676.22" x2="86.50" y2="677.21" stroke="#e6083d" stroke-width="0.7" />
<line x1="85.50" y1="676.22" x2="87.50" y2="676.22" stroke="#e6083d" stroke-width="0.7" />
<line x1="85.50" y1="677.21" x2="87.50" y2="677.21" stroke="#e6083d" stroke-width="0.7" />
<line x1="90.50" y1="676.22" x2="90.50" y2="677.21" stroke="#e6083d" stroke-width="0.7" />
<line x1="89.50" y1="676.22" x2="91.50" y2="676.22" stroke="#e6083d" stroke-width="0.7" />
<line x1="89.50" y1="677.21" x2="91.50" y2="677.21" stroke="#e6083d" stroke-width="0.7" />
<line x1="94.20" y1="676.22" x2="94.20" y2="677.21" stroke="#e6083d" stroke-width="0.7" />
<line x1="93.20" y1="676.22" x2="95.20" y2="676.22" stroke="#e6083d" stroke-width="0.7" />
<line x1="93.20" y1="677.21" x2="95.20" y2="677.21" stroke="#e6083d" stroke-width="0.7" />
<circle cx="36.80" cy="664.56" r="1.2" fill="#e6083d"/>
<circle cx="40.80" cy="664.81" r="1.2" fill="#e6083d"/>
<circle cx="45.10" cy="665.43" r="1.2" fill="#e6083d"/>
<circle cx="49.50" cy="673.49" r="1.2" fill="#e6083d"/>
<circle cx="53.80" cy="673.49" r="1.2" fill="#e6083d"/>
<circle cx="57.70" cy="673.49" r="1.2" fill="#e6083d"/>
<circle cx="61.70" cy="638.15" r="1.2" fill="#e6083d"/>
<circle cx="66.00" cy="638.15" r="1.2" fill="#e6083d"/>
<circle cx="70.10" cy="638.15" r="1.2" fill="#e6083d"/>
<circle cx="74.00" cy="676.71" r="1.2" fill="#e6083d"/>
<circle cx="78.30" cy="676.71" r="1.2" fill="#e6083d"/>
<circle cx="82.50" cy="676.71" r="1.2" fill="#e6083d"/>
<circle cx="86.50" cy="676.71" r="1.2" fill="#e6083d"/>
<circle cx="90.50" cy="676.71" r="1.2" fill="#e6083d"/>
<circle cx="94.20" cy="676.71" r="1.2" fill="#e6083d"/>
<text x="51.20" y="608.70" font-size="6.4" text-anchor="start" fill="#2f2f2f" stroke="#2f2f2f" stroke-width="0.1" textLength="15.80" lengthAdjust="spacingAndGlyphs" >FCCP</text>
<line x1="58.00" y1="610.00" x2="58.00" y2="615.82" stroke="#231f20" stroke-width="1.3" />
<path d="M55.70,614.90 L60.30,614.90 L58.00,619.50 Z" fill="#231f20"/>
<text x="62.50" y="602.60" font-size="6.4" text-anchor="start" fill="#2f2f2f" stroke="#2f2f2f" stroke-width="0.1" textLength="33.70" lengthAdjust="spacingAndGlyphs" >AntiA/Rote</text>
<line x1="71.70" y1="603.80" x2="71.70" y2="613.82" stroke="#231f20" stroke-width="1.3" />
<path d="M69.40,612.90 L74.00,612.90 L71.70,617.50 Z" fill="#231f20"/>
<text x="38.30" y="648.80" font-size="6.4" text-anchor="start" fill="#2f2f2f" stroke="#2f2f2f" stroke-width="0.1" textLength="20.60" lengthAdjust="spacingAndGlyphs" >Oligom</text>
<line x1="45.50" y1="652.20" x2="45.50" y2="656.02" stroke="#231f20" stroke-width="1.3" />
<path d="M43.20,655.10 L47.80,655.10 L45.50,659.70 Z" fill="#231f20"/>
<line x1="58.10" y1="625.90" x2="73.30" y2="625.90" stroke="#555" stroke-width="0.9" />
<text x="65.70" y="627.27" font-size="7.2" text-anchor="middle" fill="#2f2f2f" stroke="#2f2f2f" stroke-width="0.1" >****</text>
<text x="13.78" y="645.50" font-size="8.0" text-anchor="middle" fill="#2f2f2f" stroke="#2f2f2f" stroke-width="0.1" textLength="49.50" lengthAdjust="spacingAndGlyphs" transform="rotate(-90 13.78 645.50)" >OCR (pmol/min)</text>
<text x="52.20" y="701.80" font-size="8.4" text-anchor="start" fill="#2f2f2f" stroke="#2f2f2f" stroke-width="0.1" textLength="33.00" lengthAdjust="spacingAndGlyphs" >Time (min)</text>
<line x1="138.70" y1="614.30" x2="138.70" y2="678.70" stroke="#231f20" stroke-width="1.2" />
<line x1="138.20" y1="678.20" x2="201.20" y2="678.20" stroke="#231f20" stroke-width="1.2" />
<line x1="135.90" y1="678.20" x2="138.70" y2="678.20" stroke="#231f20" stroke-width="0.9" />
<text x="133.10" y="680.58" font-size="6.6" text-anchor="end" fill="#2f2f2f" stroke="#2f2f2f" stroke-width="0.1" >0</text>
<line x1="135.90" y1="657.40" x2="138.70" y2="657.40" stroke="#231f20" stroke-width="0.9" />
<text x="133.10" y="659.78" font-size="6.6" text-anchor="end" fill="#2f2f2f" stroke="#2f2f2f" stroke-width="0.1" >50</text>
<line x1="135.90" y1="636.60" x2="138.70" y2="636.60" stroke="#231f20" stroke-width="0.9" />
<text x="133.10" y="638.98" font-size="6.6" text-anchor="end" fill="#2f2f2f" stroke="#2f2f2f" stroke-width="0.1" >100</text>
<line x1="135.90" y1="615.80" x2="138.70" y2="615.80" stroke="#231f20" stroke-width="0.9" />
<text x="133.10" y="618.18" font-size="6.6" text-anchor="end" fill="#2f2f2f" stroke="#2f2f2f" stroke-width="0.1" >150</text>
<line x1="138.90" y1="678.20" x2="138.90" y2="680.40" stroke="#231f20" stroke-width="0.9" />
<text x="138.90" y="689.60" font-size="6.6" text-anchor="middle" fill="#2f2f2f" stroke="#2f2f2f" stroke-width="0.1" >0</text>
<line x1="151.42" y1="678.20" x2="151.42" y2="680.40" stroke="#231f20" stroke-width="0.9" />
<text x="151.42" y="689.60" font-size="6.6" text-anchor="middle" fill="#2f2f2f" stroke="#2f2f2f" stroke-width="0.1" >20</text>
<line x1="163.94" y1="678.20" x2="163.94" y2="680.40" stroke="#231f20" stroke-width="0.9" />
<text x="163.94" y="689.60" font-size="6.6" text-anchor="middle" fill="#2f2f2f" stroke="#2f2f2f" stroke-width="0.1" >40</text>
<line x1="176.46" y1="678.20" x2="176.46" y2="680.40" stroke="#231f20" stroke-width="0.9" />
<text x="176.46" y="689.60" font-size="6.6" text-anchor="middle" fill="#2f2f2f" stroke="#2f2f2f" stroke-width="0.1" >60</text>
<line x1="188.98" y1="678.20" x2="188.98" y2="680.40" stroke="#231f20" stroke-width="0.9" />
<text x="188.98" y="689.60" font-size="6.6" text-anchor="middle" fill="#2f2f2f" stroke="#2f2f2f" stroke-width="0.1" >80</text>
<line x1="201.50" y1="678.20" x2="201.50" y2="680.40" stroke="#231f20" stroke-width="0.9" />
<text x="201.50" y="689.60" font-size="6.6" text-anchor="middle" fill="#2f2f2f" stroke="#2f2f2f" stroke-width="0.1" >100</text>
<polyline points="140.00,663.22 143.70,663.22 147.50,663.22 152.50,649.50 156.70,647.42 160.50,647.00 165.00,645.54 168.70,643.67 172.50,642.42 176.70,649.91 180.50,649.91 184.50,649.91 189.20,673.00 193.00,673.00 197.00,673.00" fill="none" stroke="#166a8e" stroke-width="1.3" stroke-linejoin="round"/>
<line x1="140.00" y1="662.39" x2="140.00" y2="664.06" stroke="#166a8e" stroke-width="0.7" />
<line x1="139.00" y1="662.39" x2="141.00" y2="662.39" stroke="#166a8e" stroke-width="0.7" />
<line x1="139.00" y1="664.06" x2="141.00" y2="664.06" stroke="#166a8e" stroke-width="0.7" />
<line x1="143.70" y1="662.39" x2="143.70" y2="664.06" stroke="#166a8e" stroke-width="0.7" />
<line x1="142.70" y1="662.39" x2="144.70" y2="662.39" stroke="#166a8e" stroke-width="0.7" />
<line x1="142.70" y1="664.06" x2="144.70" y2="664.06" stroke="#166a8e" stroke-width="0.7" />
<line x1="147.50" y1="662.39" x2="147.50" y2="664.06" stroke="#166a8e" stroke-width="0.7" />
<line x1="146.50" y1="662.39" x2="148.50" y2="662.39" stroke="#166a8e" stroke-width="0.7" />
<line x1="146.50" y1="664.06" x2="148.50" y2="664.06" stroke="#166a8e" stroke-width="0.7" />
<line x1="152.50" y1="647.42" x2="152.50" y2="651.58" stroke="#166a8e" stroke-width="0.7" />
<line x1="151.50" y1="647.42" x2="153.50" y2="647.42" stroke="#166a8e" stroke-width="0.7" />
<line x1="151.50" y1="651.58" x2="153.50" y2="651.58" stroke="#166a8e" stroke-width="0.7" />
<line x1="156.70" y1="643.26" x2="156.70" y2="651.58" stroke="#166a8e" stroke-width="0.7" />
<line x1="155.70" y1="643.26" x2="157.70" y2="643.26" stroke="#166a8e" stroke-width="0.7" />
<line x1="155.70" y1="651.58" x2="157.70" y2="651.58" stroke="#166a8e" stroke-width="0.7" />
<line x1="160.50" y1="642.01" x2="160.50" y2="651.99" stroke="#166a8e" stroke-width="0.7" />
<line x1="159.50" y1="642.01" x2="161.50" y2="642.01" stroke="#166a8e" stroke-width="0.7" />
<line x1="159.50" y1="651.99" x2="161.50" y2="651.99" stroke="#166a8e" stroke-width="0.7" />
<line x1="165.00" y1="639.30" x2="165.00" y2="651.78" stroke="#166a8e" stroke-width="0.7" />
<line x1="164.00" y1="639.30" x2="166.00" y2="639.30" stroke="#166a8e" stroke-width="0.7" />
<line x1="164.00" y1="651.78" x2="166.00" y2="651.78" stroke="#166a8e" stroke-width="0.7" />
<line x1="168.70" y1="637.43" x2="168.70" y2="649.91" stroke="#166a8e" stroke-width="0.7" />
<line x1="167.70" y1="637.43" x2="169.70" y2="637.43" stroke="#166a8e" stroke-width="0.7" />
<line x1="167.70" y1="649.91" x2="169.70" y2="649.91" stroke="#166a8e" stroke-width="0.7" />
<line x1="172.50" y1="636.18" x2="172.50" y2="648.66" stroke="#166a8e" stroke-width="0.7" />
<line x1="171.50" y1="636.18" x2="173.50" y2="636.18" stroke="#166a8e" stroke-width="0.7" />
<line x1="171.50" y1="648.66" x2="173.50" y2="648.66" stroke="#166a8e" stroke-width="0.7" />
<line x1="176.70" y1="644.92" x2="176.70" y2="654.90" stroke="#166a8e" stroke-width="0.7" />
<line x1="175.70" y1="644.92" x2="177.70" y2="644.92" stroke="#166a8e" stroke-width="0.7" />
<line x1="175.70" y1="654.90" x2="177.70" y2="654.90" stroke="#166a8e" stroke-width="0.7" />
<line x1="180.50" y1="644.92" x2="180.50" y2="654.90" stroke="#166a8e" stroke-width="0.7" />
<line x1="179.50" y1="644.92" x2="181.50" y2="644.92" stroke="#166a8e" stroke-width="0.7" />
<line x1="179.50" y1="654.90" x2="181.50" y2="654.90" stroke="#166a8e" stroke-width="0.7" />
<line x1="184.50" y1="644.92" x2="184.50" y2="654.90" stroke="#166a8e" stroke-width="0.7" />
<line x1="183.50" y1="644.92" x2="185.50" y2="644.92" stroke="#166a8e" stroke-width="0.7" />
<line x1="183.50" y1="654.90" x2="185.50" y2="654.90" stroke="#166a8e" stroke-width="0.7" />
<line x1="189.20" y1="670.92" x2="189.20" y2="675.08" stroke="#166a8e" stroke-width="0.7" />
<line x1="188.20" y1="670.92" x2="190.20" y2="670.92" stroke="#166a8e" stroke-width="0.7" />
<line x1="188.20" y1="675.08" x2="190.20" y2="675.08" stroke="#166a8e" stroke-width="0.7" />
<line x1="193.00" y1="670.92" x2="193.00" y2="675.08" stroke="#166a8e" stroke-width="0.7" />
<line x1="192.00" y1="670.92" x2="194.00" y2="670.92" stroke="#166a8e" stroke-width="0.7" />
<line x1="192.00" y1="675.08" x2="194.00" y2="675.08" stroke="#166a8e" stroke-width="0.7" />
<line x1="197.00" y1="670.92" x2="197.00" y2="675.08" stroke="#166a8e" stroke-width="0.7" />
<line x1="196.00" y1="670.92" x2="198.00" y2="670.92" stroke="#166a8e" stroke-width="0.7" />
<line x1="196.00" y1="675.08" x2="198.00" y2="675.08" stroke="#166a8e" stroke-width="0.7" />
<circle cx="140.00" cy="663.22" r="1.2" fill="#166a8e"/>
<circle cx="143.70" cy="663.22" r="1.2" fill="#166a8e"/>
<circle cx="147.50" cy="663.22" r="1.2" fill="#166a8e"/>
<circle cx="152.50" cy="649.50" r="1.2" fill="#166a8e"/>
<circle cx="156.70" cy="647.42" r="1.2" fill="#166a8e"/>
<circle cx="160.50" cy="647.00" r="1.2" fill="#166a8e"/>
<circle cx="165.00" cy="645.54" r="1.2" fill="#166a8e"/>
<circle cx="168.70" cy="643.67" r="1.2" fill="#166a8e"/>
<circle cx="172.50" cy="642.42" r="1.2" fill="#166a8e"/>
<circle cx="176.70" cy="649.91" r="1.2" fill="#166a8e"/>
<circle cx="180.50" cy="649.91" r="1.2" fill="#166a8e"/>
<circle cx="184.50" cy="649.91" r="1.2" fill="#166a8e"/>
<circle cx="189.20" cy="673.00" r="1.2" fill="#166a8e"/>
<circle cx="193.00" cy="673.00" r="1.2" fill="#166a8e"/>
<circle cx="197.00" cy="673.00" r="1.2" fill="#166a8e"/>
<polyline points="140.00,663.22 143.70,663.22 147.50,663.22 152.50,648.66 156.70,645.54 160.50,643.67 165.00,629.94 168.70,628.70 172.50,627.45 176.70,639.10 180.50,638.26 184.50,638.26 189.20,671.96 193.00,673.00 197.00,673.00" fill="none" stroke="#e6083d" stroke-width="1.3" stroke-linejoin="round"/>
<line x1="140.00" y1="662.39" x2="140.00" y2="664.06" stroke="#e6083d" stroke-width="0.7" />
<line x1="139.00" y1="662.39" x2="141.00" y2="662.39" stroke="#e6083d" stroke-width="0.7" />
<line x1="139.00" y1="664.06" x2="141.00" y2="664.06" stroke="#e6083d" stroke-width="0.7" />
<line x1="143.70" y1="662.39" x2="143.70" y2="664.06" stroke="#e6083d" stroke-width="0.7" />
<line x1="142.70" y1="662.39" x2="144.70" y2="662.39" stroke="#e6083d" stroke-width="0.7" />
<line x1="142.70" y1="664.06" x2="144.70" y2="664.06" stroke="#e6083d" stroke-width="0.7" />
<line x1="147.50" y1="662.39" x2="147.50" y2="664.06" stroke="#e6083d" stroke-width="0.7" />
<line x1="146.50" y1="662.39" x2="148.50" y2="662.39" stroke="#e6083d" stroke-width="0.7" />
<line x1="146.50" y1="664.06" x2="148.50" y2="664.06" stroke="#e6083d" stroke-width="0.7" />
<line x1="152.50" y1="647.42" x2="152.50" y2="649.91" stroke="#e6083d" stroke-width="0.7" />
<line x1="151.50" y1="647.42" x2="153.50" y2="647.42" stroke="#e6083d" stroke-width="0.7" />
<line x1="151.50" y1="649.91" x2="153.50" y2="649.91" stroke="#e6083d" stroke-width="0.7" />
<line x1="156.70" y1="644.30" x2="156.70" y2="646.79" stroke="#e6083d" stroke-width="0.7" />
<line x1="155.70" y1="644.30" x2="157.70" y2="644.30" stroke="#e6083d" stroke-width="0.7" />
<line x1="155.70" y1="646.79" x2="157.70" y2="646.79" stroke="#e6083d" stroke-width="0.7" />
<line x1="160.50" y1="642.42" x2="160.50" y2="644.92" stroke="#e6083d" stroke-width="0.7" />
<line x1="159.50" y1="642.42" x2="161.50" y2="642.42" stroke="#e6083d" stroke-width="0.7" />
<line x1="159.50" y1="644.92" x2="161.50" y2="644.92" stroke="#e6083d" stroke-width="0.7" />
<line x1="165.00" y1="626.62" x2="165.00" y2="633.27" stroke="#e6083d" stroke-width="0.7" />
<line x1="164.00" y1="626.62" x2="166.00" y2="626.62" stroke="#e6083d" stroke-width="0.7" />
<line x1="164.00" y1="633.27" x2="166.00" y2="633.27" stroke="#e6083d" stroke-width="0.7" />
<line x1="168.70" y1="625.37" x2="168.70" y2="632.02" stroke="#e6083d" stroke-width="0.7" />
<line x1="167.70" y1="625.37" x2="169.70" y2="625.37" stroke="#e6083d" stroke-width="0.7" />
<line x1="167.70" y1="632.02" x2="169.70" y2="632.02" stroke="#e6083d" stroke-width="0.7" />
<line x1="172.50" y1="624.12" x2="172.50" y2="630.78" stroke="#e6083d" stroke-width="0.7" />
<line x1="171.50" y1="624.12" x2="173.50" y2="624.12" stroke="#e6083d" stroke-width="0.7" />
<line x1="171.50" y1="630.78" x2="173.50" y2="630.78" stroke="#e6083d" stroke-width="0.7" />
<line x1="176.70" y1="635.77" x2="176.70" y2="642.42" stroke="#e6083d" stroke-width="0.7" />
<line x1="175.70" y1="635.77" x2="177.70" y2="635.77" stroke="#e6083d" stroke-width="0.7" />
<line x1="175.70" y1="642.42" x2="177.70" y2="642.42" stroke="#e6083d" stroke-width="0.7" />
<line x1="180.50" y1="634.94" x2="180.50" y2="641.59" stroke="#e6083d" stroke-width="0.7" />
<line x1="179.50" y1="634.94" x2="181.50" y2="634.94" stroke="#e6083d" stroke-width="0.7" />
<line x1="179.50" y1="641.59" x2="181.50" y2="641.59" stroke="#e6083d" stroke-width="0.7" />
<line x1="184.50" y1="634.94" x2="184.50" y2="641.59" stroke="#e6083d" stroke-width="0.7" />
<line x1="183.50" y1="634.94" x2="185.50" y2="634.94" stroke="#e6083d" stroke-width="0.7" />
<line x1="183.50" y1="641.59" x2="185.50" y2="641.59" stroke="#e6083d" stroke-width="0.7" />
<line x1="189.20" y1="670.71" x2="189.20" y2="673.21" stroke="#e6083d" stroke-width="0.7" />
<line x1="188.20" y1="670.71" x2="190.20" y2="670.71" stroke="#e6083d" stroke-width="0.7" />
<line x1="188.20" y1="673.21" x2="190.20" y2="673.21" stroke="#e6083d" stroke-width="0.7" />
<line x1="193.00" y1="671.75" x2="193.00" y2="674.25" stroke="#e6083d" stroke-width="0.7" />
<line x1="192.00" y1="671.75" x2="194.00" y2="671.75" stroke="#e6083d" stroke-width="0.7" />
<line x1="192.00" y1="674.25" x2="194.00" y2="674.25" stroke="#e6083d" stroke-width="0.7" />
<line x1="197.00" y1="671.75" x2="197.00" y2="674.25" stroke="#e6083d" stroke-width="0.7" />
<line x1="196.00" y1="671.75" x2="198.00" y2="671.75" stroke="#e6083d" stroke-width="0.7" />
<line x1="196.00" y1="674.25" x2="198.00" y2="674.25" stroke="#e6083d" stroke-width="0.7" />
<circle cx="140.00" cy="663.22" r="1.2" fill="#e6083d"/>
<circle cx="143.70" cy="663.22" r="1.2" fill="#e6083d"/>
<circle cx="147.50" cy="663.22" r="1.2" fill="#e6083d"/>
<circle cx="152.50" cy="648.66" r="1.2" fill="#e6083d"/>
<circle cx="156.70" cy="645.54" r="1.2" fill="#e6083d"/>
<circle cx="160.50" cy="643.67" r="1.2" fill="#e6083d"/>
<circle cx="165.00" cy="629.94" r="1.2" fill="#e6083d"/>
<circle cx="168.70" cy="628.70" r="1.2" fill="#e6083d"/>
<circle cx="172.50" cy="627.45" r="1.2" fill="#e6083d"/>
<circle cx="176.70" cy="639.10" r="1.2" fill="#e6083d"/>
<circle cx="180.50" cy="638.26" r="1.2" fill="#e6083d"/>
<circle cx="184.50" cy="638.26" r="1.2" fill="#e6083d"/>
<circle cx="189.20" cy="671.96" r="1.2" fill="#e6083d"/>
<circle cx="193.00" cy="673.00" r="1.2" fill="#e6083d"/>
<circle cx="197.00" cy="673.00" r="1.2" fill="#e6083d"/>
<text x="140.00" y="631.80" font-size="6.4" text-anchor="start" fill="#2f2f2f" stroke="#2f2f2f" stroke-width="0.1" textLength="21.20" lengthAdjust="spacingAndGlyphs" >Oligom</text>
<line x1="148.00" y1="633.00" x2="148.00" y2="640.02" stroke="#231f20" stroke-width="1.3" />
<path d="M145.70,639.10 L150.30,639.10 L148.00,643.70 Z" fill="#231f20"/>
<text x="152.00" y="603.80" font-size="6.4" text-anchor="start" fill="#2f2f2f" stroke="#2f2f2f" stroke-width="0.1" textLength="16.70" lengthAdjust="spacingAndGlyphs" >FCCP</text>
<line x1="160.50" y1="605.00" x2="160.50" y2="610.02" stroke="#231f20" stroke-width="1.3" />
<path d="M158.20,609.10 L162.80,609.10 L160.50,613.70 Z" fill="#231f20"/>
<text x="166.20" y="597.20" font-size="6.4" text-anchor="start" fill="#2f2f2f" stroke="#2f2f2f" stroke-width="0.1" textLength="32.50" lengthAdjust="spacingAndGlyphs" >AntiA/Rote</text>
<line x1="174.20" y1="598.20" x2="174.20" y2="606.82" stroke="#231f20" stroke-width="1.3" />
<path d="M171.90,605.90 L176.50,605.90 L174.20,610.50 Z" fill="#231f20"/>
<text x="180.70" y="619.30" font-size="6.4" text-anchor="start" fill="#2f2f2f" stroke="#2f2f2f" stroke-width="0.1" textLength="15.50" lengthAdjust="spacingAndGlyphs" >2-DG</text>
<line x1="188.20" y1="621.00" x2="188.20" y2="625.02" stroke="#231f20" stroke-width="1.3" />
<path d="M185.90,624.10 L190.50,624.10 L188.20,628.70 Z" fill="#231f20"/>
<line x1="160.50" y1="617.00" x2="176.20" y2="617.00" stroke="#666" stroke-width="0.8" />
<text x="168.30" y="618.77" font-size="7.0" text-anchor="middle" fill="#2f2f2f" stroke="#2f2f2f" stroke-width="0.1" >**</text>
<text x="116.78" y="645.20" font-size="8.0" text-anchor="middle" fill="#2f2f2f" stroke="#2f2f2f" stroke-width="0.1" textLength="51.00" lengthAdjust="spacingAndGlyphs" transform="rotate(-90 116.78 645.20)" >ECAR (mpH/min)</text>
<text x="155.40" y="701.80" font-size="8.4" text-anchor="start" fill="#2f2f2f" stroke="#2f2f2f" stroke-width="0.1" textLength="32.80" lengthAdjust="spacingAndGlyphs" >Time (min)</text>
<line x1="199.60" y1="648.80" x2="203.80" y2="648.80" stroke="#166a8e" stroke-width="1.1" />
<circle cx="201.70" cy="648.80" r="1.2" fill="#166a8e"/>
<text x="207.90" y="651.21" font-size="6.7" text-anchor="start" fill="#2f2f2f" stroke="#2f2f2f" stroke-width="0.1" textLength="30.00" lengthAdjust="spacingAndGlyphs" >CD8<tspan baseline-shift="2.9" font-size="62%">+</tspan> OT-I</text>
<line x1="199.60" y1="657.50" x2="203.80" y2="657.50" stroke="#e6083d" stroke-width="1.1" />
<circle cx="201.70" cy="657.50" r="1.2" fill="#e6083d"/>
<text x="207.90" y="659.91" font-size="6.7" text-anchor="start" fill="#2f2f2f" stroke="#2f2f2f" stroke-width="0.1" textLength="48.40" lengthAdjust="spacingAndGlyphs" ><tspan font-style="italic">Asct2</tspan> CD8<tspan baseline-shift="2.9" font-size="62%">+</tspan> OT-I</text>
<text x="271.40" y="600.00" font-size="11.0" text-anchor="start" font-weight="bold" fill="#2f2f2f" stroke="#2f2f2f" stroke-width="0.1" style="stroke-width:0.3px">L</text>
<line x1="300.00" y1="614.70" x2="300.00" y2="678.70" stroke="#231f20" stroke-width="1.2" />
<line x1="299.50" y1="678.20" x2="362.00" y2="678.20" stroke="#231f20" stroke-width="1.2" />
<line x1="297.20" y1="678.20" x2="300.00" y2="678.20" stroke="#231f20" stroke-width="0.9" />
<text x="294.40" y="680.58" font-size="6.6" text-anchor="end" fill="#2f2f2f" stroke="#2f2f2f" stroke-width="0.1" >0</text>
<line x1="297.20" y1="662.70" x2="300.00" y2="662.70" stroke="#231f20" stroke-width="0.9" />
<text x="294.40" y="665.08" font-size="6.6" text-anchor="end" fill="#2f2f2f" stroke="#2f2f2f" stroke-width="0.1" >50</text>
<line x1="297.20" y1="647.20" x2="300.00" y2="647.20" stroke="#231f20" stroke-width="0.9" />
<text x="294.40" y="649.58" font-size="6.6" text-anchor="end" fill="#2f2f2f" stroke="#2f2f2f" stroke-width="0.1" >100</text>
<line x1="297.20" y1="631.70" x2="300.00" y2="631.70" stroke="#231f20" stroke-width="0.9" />
<text x="294.40" y="634.08" font-size="6.6" text-anchor="end" fill="#2f2f2f" stroke="#2f2f2f" stroke-width="0.1" >150</text>
<line x1="297.20" y1="616.20" x2="300.00" y2="616.20" stroke="#231f20" stroke-width="0.9" />
<text x="294.40" y="618.58" font-size="6.6" text-anchor="end" fill="#2f2f2f" stroke="#2f2f2f" stroke-width="0.1" >200</text>
<line x1="300.00" y1="678.20" x2="300.00" y2="680.40" stroke="#231f20" stroke-width="0.9" />
<text x="300.00" y="689.60" font-size="6.6" text-anchor="middle" fill="#2f2f2f" stroke="#2f2f2f" stroke-width="0.1" >0</text>
<line x1="312.40" y1="678.20" x2="312.40" y2="680.40" stroke="#231f20" stroke-width="0.9" />
<text x="312.40" y="689.60" font-size="6.6" text-anchor="middle" fill="#2f2f2f" stroke="#2f2f2f" stroke-width="0.1" >20</text>
<line x1="324.80" y1="678.20" x2="324.80" y2="680.40" stroke="#231f20" stroke-width="0.9" />
<text x="324.80" y="689.60" font-size="6.6" text-anchor="middle" fill="#2f2f2f" stroke="#2f2f2f" stroke-width="0.1" >40</text>
<line x1="337.20" y1="678.20" x2="337.20" y2="680.40" stroke="#231f20" stroke-width="0.9" />
<text x="337.20" y="689.60" font-size="6.6" text-anchor="middle" fill="#2f2f2f" stroke="#2f2f2f" stroke-width="0.1" >60</text>
<line x1="349.60" y1="678.20" x2="349.60" y2="680.40" stroke="#231f20" stroke-width="0.9" />
<text x="349.60" y="689.60" font-size="6.6" text-anchor="middle" fill="#2f2f2f" stroke="#2f2f2f" stroke-width="0.1" >80</text>
<line x1="362.00" y1="678.20" x2="362.00" y2="680.40" stroke="#231f20" stroke-width="0.9" />
<text x="362.00" y="689.60" font-size="6.6" text-anchor="middle" fill="#2f2f2f" stroke="#2f2f2f" stroke-width="0.1" >100</text>
<polyline points="301.20,667.50 305.00,668.59 308.70,668.90 313.70,676.19 317.50,676.19 321.20,676.19 326.20,672.00 330.00,672.00 333.70,671.23 338.70,677.58 342.50,677.58 346.20,677.58 350.00,677.58" fill="none" stroke="#166a8e" stroke-width="1.3" stroke-linejoin="round"/>
<line x1="301.20" y1="666.88" x2="301.20" y2="668.12" stroke="#166a8e" stroke-width="0.7" />
<line x1="300.20" y1="666.88" x2="302.20" y2="666.88" stroke="#166a8e" stroke-width="0.7" />
<line x1="300.20" y1="668.12" x2="302.20" y2="668.12" stroke="#166a8e" stroke-width="0.7" />
<line x1="305.00" y1="667.97" x2="305.00" y2="669.21" stroke="#166a8e" stroke-width="0.7" />
<line x1="304.00" y1="667.97" x2="306.00" y2="667.97" stroke="#166a8e" stroke-width="0.7" />
<line x1="304.00" y1="669.21" x2="306.00" y2="669.21" stroke="#166a8e" stroke-width="0.7" />
<line x1="308.70" y1="668.28" x2="308.70" y2="669.52" stroke="#166a8e" stroke-width="0.7" />
<line x1="307.70" y1="668.28" x2="309.70" y2="668.28" stroke="#166a8e" stroke-width="0.7" />
<line x1="307.70" y1="669.52" x2="309.70" y2="669.52" stroke="#166a8e" stroke-width="0.7" />
<line x1="313.70" y1="675.57" x2="313.70" y2="676.81" stroke="#166a8e" stroke-width="0.7" />
<line x1="312.70" y1="675.57" x2="314.70" y2="675.57" stroke="#166a8e" stroke-width="0.7" />
<line x1="312.70" y1="676.81" x2="314.70" y2="676.81" stroke="#166a8e" stroke-width="0.7" />
<line x1="317.50" y1="675.57" x2="317.50" y2="676.81" stroke="#166a8e" stroke-width="0.7" />
<line x1="316.50" y1="675.57" x2="318.50" y2="675.57" stroke="#166a8e" stroke-width="0.7" />
<line x1="316.50" y1="676.81" x2="318.50" y2="676.81" stroke="#166a8e" stroke-width="0.7" />
<line x1="321.20" y1="675.57" x2="321.20" y2="676.81" stroke="#166a8e" stroke-width="0.7" />
<line x1="320.20" y1="675.57" x2="322.20" y2="675.57" stroke="#166a8e" stroke-width="0.7" />
<line x1="320.20" y1="676.81" x2="322.20" y2="676.81" stroke="#166a8e" stroke-width="0.7" />
<line x1="326.20" y1="671.07" x2="326.20" y2="672.93" stroke="#166a8e" stroke-width="0.7" />
<line x1="325.20" y1="671.07" x2="327.20" y2="671.07" stroke="#166a8e" stroke-width="0.7" />
<line x1="325.20" y1="672.93" x2="327.20" y2="672.93" stroke="#166a8e" stroke-width="0.7" />
<line x1="330.00" y1="671.07" x2="330.00" y2="672.93" stroke="#166a8e" stroke-width="0.7" />
<line x1="329.00" y1="671.07" x2="331.00" y2="671.07" stroke="#166a8e" stroke-width="0.7" />
<line x1="329.00" y1="672.93" x2="331.00" y2="672.93" stroke="#166a8e" stroke-width="0.7" />
<line x1="333.70" y1="670.30" x2="333.70" y2="672.16" stroke="#166a8e" stroke-width="0.7" />
<line x1="332.70" y1="670.30" x2="334.70" y2="670.30" stroke="#166a8e" stroke-width="0.7" />
<line x1="332.70" y1="672.16" x2="334.70" y2="672.16" stroke="#166a8e" stroke-width="0.7" />
<line x1="338.70" y1="677.27" x2="338.70" y2="677.89" stroke="#166a8e" stroke-width="0.7" />
<line x1="337.70" y1="677.27" x2="339.70" y2="677.27" stroke="#166a8e" stroke-width="0.7" />
<line x1="337.70" y1="677.89" x2="339.70" y2="677.89" stroke="#166a8e" stroke-width="0.7" />
<line x1="342.50" y1="677.27" x2="342.50" y2="677.89" stroke="#166a8e" stroke-width="0.7" />
<line x1="341.50" y1="677.27" x2="343.50" y2="677.27" stroke="#166a8e" stroke-width="0.7" />
<line x1="341.50" y1="677.89" x2="343.50" y2="677.89" stroke="#166a8e" stroke-width="0.7" />
<line x1="346.20" y1="677.27" x2="346.20" y2="677.89" stroke="#166a8e" stroke-width="0.7" />
<line x1="345.20" y1="677.27" x2="347.20" y2="677.27" stroke="#166a8e" stroke-width="0.7" />
<line x1="345.20" y1="677.89" x2="347.20" y2="677.89" stroke="#166a8e" stroke-width="0.7" />
<line x1="350.00" y1="677.27" x2="350.00" y2="677.89" stroke="#166a8e" stroke-width="0.7" />
<line x1="349.00" y1="677.27" x2="351.00" y2="677.27" stroke="#166a8e" stroke-width="0.7" />
<line x1="349.00" y1="677.89" x2="351.00" y2="677.89" stroke="#166a8e" stroke-width="0.7" />
<circle cx="301.20" cy="667.50" r="1.2" fill="#166a8e"/>
<circle cx="305.00" cy="668.59" r="1.2" fill="#166a8e"/>
<circle cx="308.70" cy="668.90" r="1.2" fill="#166a8e"/>
<circle cx="313.70" cy="676.19" r="1.2" fill="#166a8e"/>
<circle cx="317.50" cy="676.19" r="1.2" fill="#166a8e"/>
<circle cx="321.20" cy="676.19" r="1.2" fill="#166a8e"/>
<circle cx="326.20" cy="672.00" r="1.2" fill="#166a8e"/>
<circle cx="330.00" cy="672.00" r="1.2" fill="#166a8e"/>
<circle cx="333.70" cy="671.23" r="1.2" fill="#166a8e"/>
<circle cx="338.70" cy="677.58" r="1.2" fill="#166a8e"/>
<circle cx="342.50" cy="677.58" r="1.2" fill="#166a8e"/>
<circle cx="346.20" cy="677.58" r="1.2" fill="#166a8e"/>
<circle cx="350.00" cy="677.58" r="1.2" fill="#166a8e"/>
<polyline points="301.20,656.19 305.00,657.43 308.70,657.43 313.70,673.71 317.50,673.71 321.20,673.71 326.20,643.79 330.00,646.89 333.70,646.89 338.70,677.58 342.50,676.19 346.20,675.41 350.00,676.65" fill="none" stroke="#e6083d" stroke-width="1.3" stroke-linejoin="round"/>
<line x1="301.20" y1="654.95" x2="301.20" y2="657.43" stroke="#e6083d" stroke-width="0.7" />
<line x1="300.20" y1="654.95" x2="302.20" y2="654.95" stroke="#e6083d" stroke-width="0.7" />
<line x1="300.20" y1="657.43" x2="302.20" y2="657.43" stroke="#e6083d" stroke-width="0.7" />
<line x1="305.00" y1="656.50" x2="305.00" y2="658.36" stroke="#e6083d" stroke-width="0.7" />
<line x1="304.00" y1="656.50" x2="306.00" y2="656.50" stroke="#e6083d" stroke-width="0.7" />
<line x1="304.00" y1="658.36" x2="306.00" y2="658.36" stroke="#e6083d" stroke-width="0.7" />
<line x1="308.70" y1="656.50" x2="308.70" y2="658.36" stroke="#e6083d" stroke-width="0.7" />
<line x1="307.70" y1="656.50" x2="309.70" y2="656.50" stroke="#e6083d" stroke-width="0.7" />
<line x1="307.70" y1="658.36" x2="309.70" y2="658.36" stroke="#e6083d" stroke-width="0.7" />
<line x1="313.70" y1="672.78" x2="313.70" y2="674.63" stroke="#e6083d" stroke-width="0.7" />
<line x1="312.70" y1="672.78" x2="314.70" y2="672.78" stroke="#e6083d" stroke-width="0.7" />
<line x1="312.70" y1="674.63" x2="314.70" y2="674.63" stroke="#e6083d" stroke-width="0.7" />
<line x1="317.50" y1="672.78" x2="317.50" y2="674.63" stroke="#e6083d" stroke-width="0.7" />
<line x1="316.50" y1="672.78" x2="318.50" y2="672.78" stroke="#e6083d" stroke-width="0.7" />
<line x1="316.50" y1="674.63" x2="318.50" y2="674.63" stroke="#e6083d" stroke-width="0.7" />
<line x1="321.20" y1="672.78" x2="321.20" y2="674.63" stroke="#e6083d" stroke-width="0.7" />
<line x1="320.20" y1="672.78" x2="322.20" y2="672.78" stroke="#e6083d" stroke-width="0.7" />
<line x1="320.20" y1="674.63" x2="322.20" y2="674.63" stroke="#e6083d" stroke-width="0.7" />
<line x1="326.20" y1="640.07" x2="326.20" y2="647.51" stroke="#e6083d" stroke-width="0.7" />
<line x1="325.20" y1="640.07" x2="327.20" y2="640.07" stroke="#e6083d" stroke-width="0.7" />
<line x1="325.20" y1="647.51" x2="327.20" y2="647.51" stroke="#e6083d" stroke-width="0.7" />
<line x1="330.00" y1="643.79" x2="330.00" y2="649.99" stroke="#e6083d" stroke-width="0.7" />
<line x1="329.00" y1="643.79" x2="331.00" y2="643.79" stroke="#e6083d" stroke-width="0.7" />
<line x1="329.00" y1="649.99" x2="331.00" y2="649.99" stroke="#e6083d" stroke-width="0.7" />
<line x1="333.70" y1="643.17" x2="333.70" y2="650.61" stroke="#e6083d" stroke-width="0.7" />
<line x1="332.70" y1="643.17" x2="334.70" y2="643.17" stroke="#e6083d" stroke-width="0.7" />
<line x1="332.70" y1="650.61" x2="334.70" y2="650.61" stroke="#e6083d" stroke-width="0.7" />
<line x1="338.70" y1="676.96" x2="338.70" y2="678.20" stroke="#e6083d" stroke-width="0.7" />
<line x1="337.70" y1="676.96" x2="339.70" y2="676.96" stroke="#e6083d" stroke-width="0.7" />
<line x1="337.70" y1="678.20" x2="339.70" y2="678.20" stroke="#e6083d" stroke-width="0.7" />
<line x1="342.50" y1="675.25" x2="342.50" y2="677.12" stroke="#e6083d" stroke-width="0.7" />
<line x1="341.50" y1="675.25" x2="343.50" y2="675.25" stroke="#e6083d" stroke-width="0.7" />
<line x1="341.50" y1="677.12" x2="343.50" y2="677.12" stroke="#e6083d" stroke-width="0.7" />
<line x1="346.20" y1="674.17" x2="346.20" y2="676.65" stroke="#e6083d" stroke-width="0.7" />
<line x1="345.20" y1="674.17" x2="347.20" y2="674.17" stroke="#e6083d" stroke-width="0.7" />
<line x1="345.20" y1="676.65" x2="347.20" y2="676.65" stroke="#e6083d" stroke-width="0.7" />
<line x1="350.00" y1="675.72" x2="350.00" y2="677.58" stroke="#e6083d" stroke-width="0.7" />
<line x1="349.00" y1="675.72" x2="351.00" y2="675.72" stroke="#e6083d" stroke-width="0.7" />
<line x1="349.00" y1="677.58" x2="351.00" y2="677.58" stroke="#e6083d" stroke-width="0.7" />
<circle cx="301.20" cy="656.19" r="1.2" fill="#e6083d"/>
<circle cx="305.00" cy="657.43" r="1.2" fill="#e6083d"/>
<circle cx="308.70" cy="657.43" r="1.2" fill="#e6083d"/>
<circle cx="313.70" cy="673.71" r="1.2" fill="#e6083d"/>
<circle cx="317.50" cy="673.71" r="1.2" fill="#e6083d"/>
<circle cx="321.20" cy="673.71" r="1.2" fill="#e6083d"/>
<circle cx="326.20" cy="643.79" r="1.2" fill="#e6083d"/>
<circle cx="330.00" cy="646.89" r="1.2" fill="#e6083d"/>
<circle cx="333.70" cy="646.89" r="1.2" fill="#e6083d"/>
<circle cx="338.70" cy="677.58" r="1.2" fill="#e6083d"/>
<circle cx="342.50" cy="676.19" r="1.2" fill="#e6083d"/>
<circle cx="346.20" cy="675.41" r="1.2" fill="#e6083d"/>
<circle cx="350.00" cy="676.65" r="1.2" fill="#e6083d"/>
<circle cx="358.70" cy="677.50" r="1.1" fill="#166a8e"/>
<text x="303.00" y="634.60" font-size="6.4" text-anchor="start" fill="#2f2f2f" stroke="#2f2f2f" stroke-width="0.1" textLength="20.00" lengthAdjust="spacingAndGlyphs" >Oligom</text>
<line x1="310.00" y1="636.00" x2="310.00" y2="640.02" stroke="#231f20" stroke-width="1.3" />
<path d="M307.70,639.10 L312.30,639.10 L310.00,643.70 Z" fill="#231f20"/>
<text x="315.00" y="621.30" font-size="6.4" text-anchor="start" fill="#2f2f2f" stroke="#2f2f2f" stroke-width="0.1" textLength="15.50" lengthAdjust="spacingAndGlyphs" >FCCP</text>
<line x1="323.70" y1="622.00" x2="323.70" y2="626.32" stroke="#231f20" stroke-width="1.3" />
<path d="M321.40,625.40 L326.00,625.40 L323.70,630.00 Z" fill="#231f20"/>
<text x="330.00" y="615.10" font-size="6.4" text-anchor="start" fill="#2f2f2f" stroke="#2f2f2f" stroke-width="0.1" textLength="32.00" lengthAdjust="spacingAndGlyphs" >AntiA/Rote</text>
<line x1="334.50" y1="616.20" x2="334.50" y2="623.82" stroke="#231f20" stroke-width="1.3" />
<path d="M332.20,622.90 L336.80,622.90 L334.50,627.50 Z" fill="#231f20"/>
<line x1="302.50" y1="650.00" x2="309.50" y2="650.00" stroke="#666" stroke-width="0.8" />
<text x="306.00" y="649.57" font-size="7.0" text-anchor="middle" fill="#2f2f2f" stroke="#2f2f2f" stroke-width="0.1" >**</text>
<line x1="325.50" y1="636.20" x2="335.50" y2="636.20" stroke="#666" stroke-width="0.8" />
<text x="330.50" y="636.07" font-size="7.0" text-anchor="middle" fill="#2f2f2f" stroke="#2f2f2f" stroke-width="0.1" >****</text>
<text x="278.58" y="645.70" font-size="8.0" text-anchor="middle" fill="#2f2f2f" stroke="#2f2f2f" stroke-width="0.1" textLength="50.00" lengthAdjust="spacingAndGlyphs" transform="rotate(-90 278.58 645.70)" >OCR (pmol/min)</text>
<text x="316.90" y="701.80" font-size="8.4" text-anchor="start" fill="#2f2f2f" stroke="#2f2f2f" stroke-width="0.1" textLength="32.30" lengthAdjust="spacingAndGlyphs" >Time (min)</text>
<line x1="398.70" y1="617.10" x2="398.70" y2="678.70" stroke="#231f20" stroke-width="1.2" />
<line x1="398.20" y1="678.20" x2="458.00" y2="678.20" stroke="#231f20" stroke-width="1.2" />
<line x1="395.90" y1="678.20" x2="398.70" y2="678.20" stroke="#231f20" stroke-width="0.9" />
<text x="393.10" y="680.58" font-size="6.6" text-anchor="end" fill="#2f2f2f" stroke="#2f2f2f" stroke-width="0.1" >0</text>
<line x1="395.90" y1="663.30" x2="398.70" y2="663.30" stroke="#231f20" stroke-width="0.9" />
<text x="393.10" y="665.68" font-size="6.6" text-anchor="end" fill="#2f2f2f" stroke="#2f2f2f" stroke-width="0.1" >20</text>
<line x1="395.90" y1="648.40" x2="398.70" y2="648.40" stroke="#231f20" stroke-width="0.9" />
<text x="393.10" y="650.78" font-size="6.6" text-anchor="end" fill="#2f2f2f" stroke="#2f2f2f" stroke-width="0.1" >40</text>
<line x1="395.90" y1="633.50" x2="398.70" y2="633.50" stroke="#231f20" stroke-width="0.9" />
<text x="393.10" y="635.88" font-size="6.6" text-anchor="end" fill="#2f2f2f" stroke="#2f2f2f" stroke-width="0.1" >60</text>
<line x1="395.90" y1="618.60" x2="398.70" y2="618.60" stroke="#231f20" stroke-width="0.9" />
<text x="393.10" y="620.98" font-size="6.6" text-anchor="end" fill="#2f2f2f" stroke="#2f2f2f" stroke-width="0.1" >80</text>
<line x1="399.50" y1="678.20" x2="399.50" y2="680.40" stroke="#231f20" stroke-width="0.9" />
<text x="399.50" y="689.60" font-size="6.6" text-anchor="middle" fill="#2f2f2f" stroke="#2f2f2f" stroke-width="0.1" >0</text>
<line x1="411.38" y1="678.20" x2="411.38" y2="680.40" stroke="#231f20" stroke-width="0.9" />
<text x="411.38" y="689.60" font-size="6.6" text-anchor="middle" fill="#2f2f2f" stroke="#2f2f2f" stroke-width="0.1" >20</text>
<line x1="423.26" y1="678.20" x2="423.26" y2="680.40" stroke="#231f20" stroke-width="0.9" />
<text x="423.26" y="689.60" font-size="6.6" text-anchor="middle" fill="#2f2f2f" stroke="#2f2f2f" stroke-width="0.1" >40</text>
<line x1="435.14" y1="678.20" x2="435.14" y2="680.40" stroke="#231f20" stroke-width="0.9" />
<text x="435.14" y="689.60" font-size="6.6" text-anchor="middle" fill="#2f2f2f" stroke="#2f2f2f" stroke-width="0.1" >60</text>
<line x1="447.02" y1="678.20" x2="447.02" y2="680.40" stroke="#231f20" stroke-width="0.9" />
<text x="447.02" y="689.60" font-size="6.6" text-anchor="middle" fill="#2f2f2f" stroke="#2f2f2f" stroke-width="0.1" >80</text>
<line x1="458.90" y1="678.20" x2="458.90" y2="680.40" stroke="#231f20" stroke-width="0.9" />
<text x="458.90" y="689.60" font-size="6.6" text-anchor="middle" fill="#2f2f2f" stroke="#2f2f2f" stroke-width="0.1" >100</text>
<polyline points="400.50,673.73 404.20,674.48 408.00,674.48 412.50,671.20 416.20,669.26 420.00,667.99 424.20,665.54 428.00,665.54 431.20,664.49 435.50,662.56 439.20,661.21 443.00,661.81 447.50,678.05 451.20,678.05 455.00,678.05" fill="none" stroke="#166a8e" stroke-width="1.3" stroke-linejoin="round"/>
<line x1="400.50" y1="673.36" x2="400.50" y2="674.10" stroke="#166a8e" stroke-width="0.7" />
<line x1="399.50" y1="673.36" x2="401.50" y2="673.36" stroke="#166a8e" stroke-width="0.7" />
<line x1="399.50" y1="674.10" x2="401.50" y2="674.10" stroke="#166a8e" stroke-width="0.7" />
<line x1="404.20" y1="674.10" x2="404.20" y2="674.85" stroke="#166a8e" stroke-width="0.7" />
<line x1="403.20" y1="674.10" x2="405.20" y2="674.10" stroke="#166a8e" stroke-width="0.7" />
<line x1="403.20" y1="674.85" x2="405.20" y2="674.85" stroke="#166a8e" stroke-width="0.7" />
<line x1="408.00" y1="674.10" x2="408.00" y2="674.85" stroke="#166a8e" stroke-width="0.7" />
<line x1="407.00" y1="674.10" x2="409.00" y2="674.10" stroke="#166a8e" stroke-width="0.7" />
<line x1="407.00" y1="674.85" x2="409.00" y2="674.85" stroke="#166a8e" stroke-width="0.7" />
<line x1="412.50" y1="670.82" x2="412.50" y2="671.57" stroke="#166a8e" stroke-width="0.7" />
<line x1="411.50" y1="670.82" x2="413.50" y2="670.82" stroke="#166a8e" stroke-width="0.7" />
<line x1="411.50" y1="671.57" x2="413.50" y2="671.57" stroke="#166a8e" stroke-width="0.7" />
<line x1="416.20" y1="668.89" x2="416.20" y2="669.63" stroke="#166a8e" stroke-width="0.7" />
<line x1="415.20" y1="668.89" x2="417.20" y2="668.89" stroke="#166a8e" stroke-width="0.7" />
<line x1="415.20" y1="669.63" x2="417.20" y2="669.63" stroke="#166a8e" stroke-width="0.7" />
<line x1="420.00" y1="667.62" x2="420.00" y2="668.37" stroke="#166a8e" stroke-width="0.7" />
<line x1="419.00" y1="667.62" x2="421.00" y2="667.62" stroke="#166a8e" stroke-width="0.7" />
<line x1="419.00" y1="668.37" x2="421.00" y2="668.37" stroke="#166a8e" stroke-width="0.7" />
<line x1="424.20" y1="665.16" x2="424.20" y2="665.91" stroke="#166a8e" stroke-width="0.7" />
<line x1="423.20" y1="665.16" x2="425.20" y2="665.16" stroke="#166a8e" stroke-width="0.7" />
<line x1="423.20" y1="665.91" x2="425.20" y2="665.91" stroke="#166a8e" stroke-width="0.7" />
<line x1="428.00" y1="665.16" x2="428.00" y2="665.91" stroke="#166a8e" stroke-width="0.7" />
<line x1="427.00" y1="665.16" x2="429.00" y2="665.16" stroke="#166a8e" stroke-width="0.7" />
<line x1="427.00" y1="665.91" x2="429.00" y2="665.91" stroke="#166a8e" stroke-width="0.7" />
<line x1="431.20" y1="664.12" x2="431.20" y2="664.86" stroke="#166a8e" stroke-width="0.7" />
<line x1="430.20" y1="664.12" x2="432.20" y2="664.12" stroke="#166a8e" stroke-width="0.7" />
<line x1="430.20" y1="664.86" x2="432.20" y2="664.86" stroke="#166a8e" stroke-width="0.7" />
<line x1="435.50" y1="662.18" x2="435.50" y2="662.93" stroke="#166a8e" stroke-width="0.7" />
<line x1="434.50" y1="662.18" x2="436.50" y2="662.18" stroke="#166a8e" stroke-width="0.7" />
<line x1="434.50" y1="662.93" x2="436.50" y2="662.93" stroke="#166a8e" stroke-width="0.7" />
<line x1="439.20" y1="660.84" x2="439.20" y2="661.59" stroke="#166a8e" stroke-width="0.7" />
<line x1="438.20" y1="660.84" x2="440.20" y2="660.84" stroke="#166a8e" stroke-width="0.7" />
<line x1="438.20" y1="661.59" x2="440.20" y2="661.59" stroke="#166a8e" stroke-width="0.7" />
<line x1="443.00" y1="661.44" x2="443.00" y2="662.18" stroke="#166a8e" stroke-width="0.7" />
<line x1="442.00" y1="661.44" x2="444.00" y2="661.44" stroke="#166a8e" stroke-width="0.7" />
<line x1="442.00" y1="662.18" x2="444.00" y2="662.18" stroke="#166a8e" stroke-width="0.7" />
<line x1="447.50" y1="677.90" x2="447.50" y2="678.20" stroke="#166a8e" stroke-width="0.7" />
<line x1="446.50" y1="677.90" x2="448.50" y2="677.90" stroke="#166a8e" stroke-width="0.7" />
<line x1="446.50" y1="678.20" x2="448.50" y2="678.20" stroke="#166a8e" stroke-width="0.7" />
<line x1="451.20" y1="677.90" x2="451.20" y2="678.20" stroke="#166a8e" stroke-width="0.7" />
<line x1="450.20" y1="677.90" x2="452.20" y2="677.90" stroke="#166a8e" stroke-width="0.7" />
<line x1="450.20" y1="678.20" x2="452.20" y2="678.20" stroke="#166a8e" stroke-width="0.7" />
<line x1="455.00" y1="677.90" x2="455.00" y2="678.20" stroke="#166a8e" stroke-width="0.7" />
<line x1="454.00" y1="677.90" x2="456.00" y2="677.90" stroke="#166a8e" stroke-width="0.7" />
<line x1="454.00" y1="678.20" x2="456.00" y2="678.20" stroke="#166a8e" stroke-width="0.7" />
<circle cx="400.50" cy="673.73" r="1.2" fill="#166a8e"/>
<circle cx="404.20" cy="674.48" r="1.2" fill="#166a8e"/>
<circle cx="408.00" cy="674.48" r="1.2" fill="#166a8e"/>
<circle cx="412.50" cy="671.20" r="1.2" fill="#166a8e"/>
<circle cx="416.20" cy="669.26" r="1.2" fill="#166a8e"/>
<circle cx="420.00" cy="667.99" r="1.2" fill="#166a8e"/>
<circle cx="424.20" cy="665.54" r="1.2" fill="#166a8e"/>
<circle cx="428.00" cy="665.54" r="1.2" fill="#166a8e"/>
<circle cx="431.20" cy="664.49" r="1.2" fill="#166a8e"/>
<circle cx="435.50" cy="662.56" r="1.2" fill="#166a8e"/>
<circle cx="439.20" cy="661.21" r="1.2" fill="#166a8e"/>
<circle cx="443.00" cy="661.81" r="1.2" fill="#166a8e"/>
<circle cx="447.50" cy="678.05" r="1.2" fill="#166a8e"/>
<circle cx="451.20" cy="678.05" r="1.2" fill="#166a8e"/>
<circle cx="455.00" cy="678.05" r="1.2" fill="#166a8e"/>
<polyline points="400.50,668.74 404.20,668.74 408.00,669.26 412.50,661.21 416.20,658.09 420.00,656.22 424.20,649.52 428.00,649.52 431.20,648.03 435.50,645.05 439.20,644.23 443.00,644.23 447.50,677.90 451.20,677.83 455.00,677.83" fill="none" stroke="#e6083d" stroke-width="1.3" stroke-linejoin="round"/>
<line x1="400.50" y1="667.99" x2="400.50" y2="669.48" stroke="#e6083d" stroke-width="0.7" />
<line x1="399.50" y1="667.99" x2="401.50" y2="667.99" stroke="#e6083d" stroke-width="0.7" />
<line x1="399.50" y1="669.48" x2="401.50" y2="669.48" stroke="#e6083d" stroke-width="0.7" />
<line x1="404.20" y1="667.99" x2="404.20" y2="669.48" stroke="#e6083d" stroke-width="0.7" />
<line x1="403.20" y1="667.99" x2="405.20" y2="667.99" stroke="#e6083d" stroke-width="0.7" />
<line x1="403.20" y1="669.48" x2="405.20" y2="669.48" stroke="#e6083d" stroke-width="0.7" />
<line x1="408.00" y1="668.52" x2="408.00" y2="670.00" stroke="#e6083d" stroke-width="0.7" />
<line x1="407.00" y1="668.52" x2="409.00" y2="668.52" stroke="#e6083d" stroke-width="0.7" />
<line x1="407.00" y1="670.00" x2="409.00" y2="670.00" stroke="#e6083d" stroke-width="0.7" />
<line x1="412.50" y1="660.47" x2="412.50" y2="661.96" stroke="#e6083d" stroke-width="0.7" />
<line x1="411.50" y1="660.47" x2="413.50" y2="660.47" stroke="#e6083d" stroke-width="0.7" />
<line x1="411.50" y1="661.96" x2="413.50" y2="661.96" stroke="#e6083d" stroke-width="0.7" />
<line x1="416.20" y1="656.97" x2="416.20" y2="659.20" stroke="#e6083d" stroke-width="0.7" />
<line x1="415.20" y1="656.97" x2="417.20" y2="656.97" stroke="#e6083d" stroke-width="0.7" />
<line x1="415.20" y1="659.20" x2="417.20" y2="659.20" stroke="#e6083d" stroke-width="0.7" />
<line x1="420.00" y1="655.11" x2="420.00" y2="657.34" stroke="#e6083d" stroke-width="0.7" />
<line x1="419.00" y1="655.11" x2="421.00" y2="655.11" stroke="#e6083d" stroke-width="0.7" />
<line x1="419.00" y1="657.34" x2="421.00" y2="657.34" stroke="#e6083d" stroke-width="0.7" />
<line x1="424.20" y1="648.03" x2="424.20" y2="651.01" stroke="#e6083d" stroke-width="0.7" />
<line x1="423.20" y1="648.03" x2="425.20" y2="648.03" stroke="#e6083d" stroke-width="0.7" />
<line x1="423.20" y1="651.01" x2="425.20" y2="651.01" stroke="#e6083d" stroke-width="0.7" />
<line x1="428.00" y1="648.40" x2="428.00" y2="650.63" stroke="#e6083d" stroke-width="0.7" />
<line x1="427.00" y1="648.40" x2="429.00" y2="648.40" stroke="#e6083d" stroke-width="0.7" />
<line x1="427.00" y1="650.63" x2="429.00" y2="650.63" stroke="#e6083d" stroke-width="0.7" />
<line x1="431.20" y1="646.54" x2="431.20" y2="649.52" stroke="#e6083d" stroke-width="0.7" />
<line x1="430.20" y1="646.54" x2="432.20" y2="646.54" stroke="#e6083d" stroke-width="0.7" />
<line x1="430.20" y1="649.52" x2="432.20" y2="649.52" stroke="#e6083d" stroke-width="0.7" />
<line x1="435.50" y1="643.93" x2="435.50" y2="646.17" stroke="#e6083d" stroke-width="0.7" />
<line x1="434.50" y1="643.93" x2="436.50" y2="643.93" stroke="#e6083d" stroke-width="0.7" />
<line x1="434.50" y1="646.17" x2="436.50" y2="646.17" stroke="#e6083d" stroke-width="0.7" />
<line x1="439.20" y1="643.11" x2="439.20" y2="645.35" stroke="#e6083d" stroke-width="0.7" />
<line x1="438.20" y1="643.11" x2="440.20" y2="643.11" stroke="#e6083d" stroke-width="0.7" />
<line x1="438.20" y1="645.35" x2="440.20" y2="645.35" stroke="#e6083d" stroke-width="0.7" />
<line x1="443.00" y1="643.11" x2="443.00" y2="645.35" stroke="#e6083d" stroke-width="0.7" />
<line x1="442.00" y1="643.11" x2="444.00" y2="643.11" stroke="#e6083d" stroke-width="0.7" />
<line x1="442.00" y1="645.35" x2="444.00" y2="645.35" stroke="#e6083d" stroke-width="0.7" />
<line x1="447.50" y1="677.68" x2="447.50" y2="678.13" stroke="#e6083d" stroke-width="0.7" />
<line x1="446.50" y1="677.68" x2="448.50" y2="677.68" stroke="#e6083d" stroke-width="0.7" />
<line x1="446.50" y1="678.13" x2="448.50" y2="678.13" stroke="#e6083d" stroke-width="0.7" />
<line x1="451.20" y1="677.60" x2="451.20" y2="678.05" stroke="#e6083d" stroke-width="0.7" />
<line x1="450.20" y1="677.60" x2="452.20" y2="677.60" stroke="#e6083d" stroke-width="0.7" />
<line x1="450.20" y1="678.05" x2="452.20" y2="678.05" stroke="#e6083d" stroke-width="0.7" />
<line x1="455.00" y1="677.60" x2="455.00" y2="678.05" stroke="#e6083d" stroke-width="0.7" />
<line x1="454.00" y1="677.60" x2="456.00" y2="677.60" stroke="#e6083d" stroke-width="0.7" />
<line x1="454.00" y1="678.05" x2="456.00" y2="678.05" stroke="#e6083d" stroke-width="0.7" />
<circle cx="400.50" cy="668.74" r="1.2" fill="#e6083d"/>
<circle cx="404.20" cy="668.74" r="1.2" fill="#e6083d"/>
<circle cx="408.00" cy="669.26" r="1.2" fill="#e6083d"/>
<circle cx="412.50" cy="661.21" r="1.2" fill="#e6083d"/>
<circle cx="416.20" cy="658.09" r="1.2" fill="#e6083d"/>
<circle cx="420.00" cy="656.22" r="1.2" fill="#e6083d"/>
<circle cx="424.20" cy="649.52" r="1.2" fill="#e6083d"/>
<circle cx="428.00" cy="649.52" r="1.2" fill="#e6083d"/>
<circle cx="431.20" cy="648.03" r="1.2" fill="#e6083d"/>
<circle cx="435.50" cy="645.05" r="1.2" fill="#e6083d"/>
<circle cx="439.20" cy="644.23" r="1.2" fill="#e6083d"/>
<circle cx="443.00" cy="644.23" r="1.2" fill="#e6083d"/>
<circle cx="447.50" cy="677.90" r="1.2" fill="#e6083d"/>
<circle cx="451.20" cy="677.83" r="1.2" fill="#e6083d"/>
<circle cx="455.00" cy="677.83" r="1.2" fill="#e6083d"/>
<text x="401.20" y="633.80" font-size="6.4" text-anchor="start" fill="#2f2f2f" stroke="#2f2f2f" stroke-width="0.1" textLength="21.80" lengthAdjust="spacingAndGlyphs" >Oligom</text>
<line x1="408.00" y1="635.00" x2="408.00" y2="640.02" stroke="#231f20" stroke-width="1.3" />
<path d="M405.70,639.10 L410.30,639.10 L408.00,643.70 Z" fill="#231f20"/>
<text x="414.50" y="618.80" font-size="6.4" text-anchor="start" fill="#2f2f2f" stroke="#2f2f2f" stroke-width="0.1" textLength="16.00" lengthAdjust="spacingAndGlyphs" >FCCP</text>
<line x1="420.50" y1="620.00" x2="420.50" y2="626.32" stroke="#231f20" stroke-width="1.3" />
<path d="M418.20,625.40 L422.80,625.40 L420.50,630.00 Z" fill="#231f20"/>
<text x="429.50" y="612.10" font-size="6.4" text-anchor="start" fill="#2f2f2f" stroke="#2f2f2f" stroke-width="0.1" textLength="32.50" lengthAdjust="spacingAndGlyphs" >AntiA/Rote</text>
<line x1="434.50" y1="613.00" x2="434.50" y2="626.32" stroke="#231f20" stroke-width="1.3" />
<path d="M432.20,625.40 L436.80,625.40 L434.50,630.00 Z" fill="#231f20"/>
<text x="439.20" y="623.30" font-size="6.4" text-anchor="start" fill="#2f2f2f" stroke="#2f2f2f" stroke-width="0.1" textLength="14.50" lengthAdjust="spacingAndGlyphs" >2-DG</text>
<line x1="445.50" y1="625.00" x2="445.50" y2="629.32" stroke="#231f20" stroke-width="1.3" />
<path d="M443.20,628.40 L447.80,628.40 L445.50,633.00 Z" fill="#231f20"/>
<line x1="408.00" y1="648.70" x2="421.20" y2="648.70" stroke="#666" stroke-width="0.8" />
<text x="414.60" y="648.57" font-size="7.0" text-anchor="middle" fill="#2f2f2f" stroke="#2f2f2f" stroke-width="0.1" >**</text>
<line x1="424.20" y1="634.50" x2="443.00" y2="634.50" stroke="#666" stroke-width="0.8" />
<text x="433.60" y="634.77" font-size="7.0" text-anchor="middle" fill="#2f2f2f" stroke="#2f2f2f" stroke-width="0.1" >****</text>
<text x="381.38" y="647.10" font-size="8.0" text-anchor="middle" fill="#2f2f2f" stroke="#2f2f2f" stroke-width="0.1" textLength="50.50" lengthAdjust="spacingAndGlyphs" transform="rotate(-90 381.38 647.10)" >ECAR (mpH/min)</text>
<text x="414.90" y="701.80" font-size="8.4" text-anchor="start" fill="#2f2f2f" stroke="#2f2f2f" stroke-width="0.1" textLength="32.80" lengthAdjust="spacingAndGlyphs" >Time (min)</text>
<line x1="453.80" y1="648.80" x2="460.80" y2="648.80" stroke="#166a8e" stroke-width="1.1" />
<circle cx="457.30" cy="648.80" r="1.2" fill="#166a8e"/>
<text x="463.80" y="651.21" font-size="6.7" text-anchor="start" fill="#2f2f2f" stroke="#2f2f2f" stroke-width="0.1" textLength="31.60" lengthAdjust="spacingAndGlyphs" >CD4<tspan baseline-shift="2.9" font-size="62%">+</tspan> OT-II</text>
<line x1="453.80" y1="657.70" x2="460.80" y2="657.70" stroke="#e6083d" stroke-width="1.1" />
<circle cx="457.30" cy="657.70" r="1.2" fill="#e6083d"/>
<text x="463.80" y="660.11" font-size="6.7" text-anchor="start" fill="#2f2f2f" stroke="#2f2f2f" stroke-width="0.1" textLength="49.20" lengthAdjust="spacingAndGlyphs" >Asct2 CD4<tspan baseline-shift="2.9" font-size="62%">+</tspan> OT-II</text>
</svg>
</body></html>
